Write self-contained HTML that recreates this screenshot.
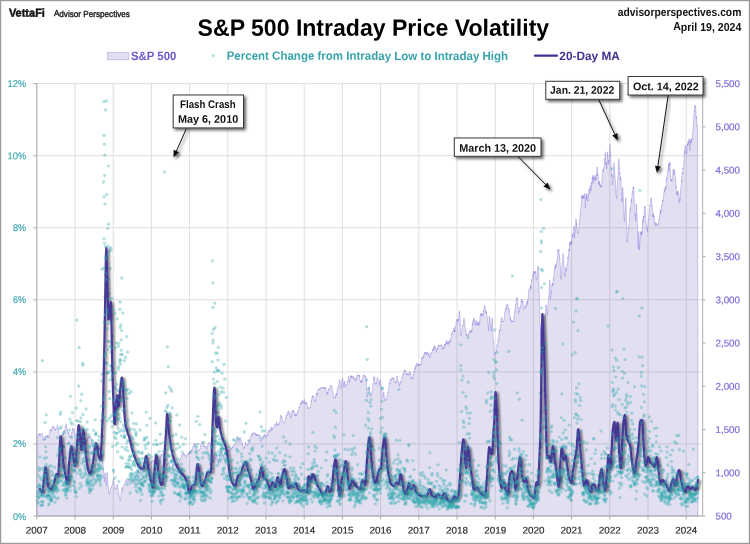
<!DOCTYPE html>
<html lang="en"><head><meta charset="utf-8"><title>S&amp;P 500 Intraday Price Volatility</title>
<style>html,body{margin:0;padding:0;background:#fff}body{width:750px;height:544px;overflow:hidden}svg{display:block}text{font-family:"Liberation Sans",Arial,sans-serif}.b{font-weight:bold}</style></head><body>
<svg width="750" height="544" viewBox="0 0 750 544">
<defs>
<filter id="sh" x="-20%" y="-20%" width="140%" height="140%"><feGaussianBlur in="SourceAlpha" stdDeviation="0.9"/><feOffset dx="2" dy="1.3"/><feComponentTransfer><feFuncA type="linear" slope="0.55"/></feComponentTransfer><feMerge><feMergeNode/><feMergeNode in="SourceGraphic"/></feMerge></filter>
<filter id="bs" x="-20%" y="-30%" width="140%" height="170%"><feGaussianBlur in="SourceAlpha" stdDeviation="1.4"/><feOffset dx="2" dy="2"/><feComponentTransfer><feFuncA type="linear" slope="0.6"/></feComponentTransfer><feMerge><feMergeNode/><feMergeNode in="SourceGraphic"/></feMerge></filter>
</defs>
<rect x="0" y="0" width="750" height="544" fill="#fff"/>
<rect x="0.5" y="0.5" width="749" height="543" fill="none" stroke="#9b9b9b" stroke-width="1.4"/>
<path d="M36.8 83.6V516M75 83.6V516M113.2 83.6V516M151.4 83.6V516M189.6 83.6V516M227.8 83.6V516M266 83.6V516M304.2 83.6V516M342.4 83.6V516M380.6 83.6V516M418.8 83.6V516M457 83.6V516M495.2 83.6V516M533.4 83.6V516M571.6 83.6V516M609.8 83.6V516M648 83.6V516M686.2 83.6V516M36.8 83.6H702.7M36.8 155.7H702.7M36.8 227.8H702.7M36.8 299.8H702.7M36.8 371.9H702.7M36.8 443.9H702.7M36.8 516H702.7" fill="none" stroke="#dedede" stroke-width="1"/>
<path d="M37 516L37 436.7L37.2 436.7L37.3 436.3L37.5 436.3L37.6 436.4L37.8 436.6L37.9 436.6L38.1 436L38.2 435.7L38.4 434.9L38.5 434.6L38.7 434.2L38.8 434L39 434.9L39.1 434.2L39.3 433.8L39.4 433.3L39.6 434.3L39.7 435.3L39.9 435.8L40.1 435.9L40.2 435.6L40.4 435.5L40.5 435.1L40.7 435.4L40.8 435L41 434.7L41.1 435L41.3 433.7L41.4 433.2L41.6 433.4L41.7 433.3L41.9 433.1L42 433.1L42.2 433.9L42.3 434.3L42.5 435L42.6 436L42.8 437.4L42.9 438.5L43.1 438.5L43.2 439.8L43.4 440.4L43.5 439.9L43.7 440.3L43.8 440.3L44 439.2L44.1 440.2L44.3 440.2L44.5 440L44.6 440.2L44.8 439.7L44.9 439.4L45.1 440.1L45.2 439.3L45.4 438.7L45.5 437.8L45.7 436.6L45.8 436.1L46 435.8L46.1 436.4L46.3 435.7L46.4 435.8L46.6 435.9L46.7 436.4L46.9 436.8L47 436.9L47.2 435.8L47.3 436.8L47.5 437.5L47.6 437.1L47.8 435.9L47.9 435.2L48.1 436.2L48.2 437.5L48.4 437.1L48.5 437.3L48.7 437.7L48.8 436.8L49 435.9L49.1 435.5L49.3 435.1L49.4 434.5L49.6 433.2L49.7 432.5L49.9 431.9L50 431.3L50.2 432.1L50.3 430.9L50.5 430L50.6 429.4L50.8 430.4L50.9 430.6L51.1 429.8L51.2 430.7L51.4 430.5L51.5 429.6L51.7 430.2L51.8 428.8L52 428.2L52.2 428L52.3 427.5L52.5 426.8L52.6 426.4L52.8 426.7L52.9 426.6L53.1 427.1L53.2 426.7L53.4 426.9L53.5 427.7L53.7 427.3L53.8 426.6L54 427.1L54.1 428.3L54.3 428.7L54.5 429L54.6 429.5L54.8 428.8L54.9 429.7L55.1 429.1L55.2 430.2L55.4 430L55.5 430.2L55.7 429.5L55.8 428.9L56 428.7L56.1 428.6L56.3 428.4L56.4 428L56.6 428.1L56.7 427.9L56.9 427.5L57 427.5L57.2 427L57.3 426.6L57.5 425.2L57.6 424.9L57.8 426L57.9 427L58.1 427.7L58.2 427.8L58.4 428.8L58.5 429.3L58.7 428.7L58.8 431.2L59 432.6L59.1 433.2L59.3 433.6L59.4 434.2L59.6 435.1L59.7 435.4L59.9 435.9L60 436.9L60.2 436.1L60.3 436.5L60.5 437.6L60.6 437.3L60.8 437.2L60.9 436.9L61.1 437.2L61.2 437.2L61.4 437.4L61.5 437.4L61.7 437.5L61.8 436.7L62 435.9L62.1 434.6L62.3 435.4L62.4 435.4L62.6 435.3L62.7 434.6L62.9 433.6L63 435L63.2 434L63.3 434.6L63.5 433.9L63.6 434.5L63.8 434.1L63.9 433L64.1 432.8L64.2 432.4L64.4 431.6L64.5 431.2L64.7 430.9L64.8 429.6L65 428.6L65.1 428.4L65.3 426.2L65.5 426.7L65.6 425.8L65.8 425.6L65.9 425.2L66.1 424.4L66.2 423.9L66.4 424L66.5 425.6L66.7 427.1L66.8 427.2L67 428.4L67.1 429.6L67.3 431.1L67.4 430.7L67.6 430.7L67.7 430.2L67.9 431.4L68 431.9L68.2 433.1L68.3 433.1L68.5 432.5L68.6 433.6L68.8 433.1L68.9 432.9L69.1 433.5L69.3 435.3L69.4 434.9L69.6 435.4L69.7 436.3L69.9 436.5L70 436.7L70.2 436.2L70.3 437.4L70.5 437.1L70.6 436.6L70.8 436.2L70.9 436.8L71.1 437.5L71.2 437.6L71.4 436.4L71.5 435.2L71.7 433.2L71.8 432.3L72 432.7L72.1 431.8L72.3 431.9L72.4 430.2L72.6 428.9L72.7 428.1L72.8 428.8L73 428.9L73.1 429.5L73.3 429.3L73.4 430L73.6 429.9L73.7 429.6L73.9 429.1L74 430.2L74.2 430.3L74.3 432.2L74.5 433.5L74.6 435.4L74.8 435.4L74.9 436.8L75.1 437.4L75.2 438.1L75.4 438.8L75.5 439.7L75.7 440.2L75.8 439.7L76 440.3L76.1 440.5L76.3 440.5L76.4 441.2L76.6 442.6L76.7 443.5L76.9 443.5L77 445L77.2 446L77.3 444.3L77.5 442.8L77.6 441.8L77.8 440.2L77.9 439L78.1 438.7L78.2 438.6L78.4 439.3L78.5 438.9L78.7 439.5L78.8 440.4L79 441.1L79.2 442.3L79.3 442.6L79.5 443.6L79.6 443.6L79.8 445.2L79.9 445.3L80.1 445.9L80.2 447.3L80.4 447.1L80.5 447.5L80.7 449L80.8 448.8L81 448.8L81.1 448.6L81.3 448.7L81.4 448.8L81.6 448.8L81.7 448.8L81.9 449.1L82 449.1L82.2 449.2L82.4 448.6L82.5 449L82.7 448.6L82.8 448.6L83 448.7L83.1 447.5L83.3 448.3L83.4 447.9L83.6 446.3L83.7 446.7L83.9 446.1L84 444.8L84.2 444.8L84.3 444.3L84.5 443.5L84.6 443.9L84.8 443.8L84.9 443.5L85.1 442.8L85.2 442.7L85.4 442.6L85.6 443.1L85.7 443.1L85.9 442.4L86 442.2L86.2 442.5L86.3 442.9L86.5 441.1L86.6 440.2L86.8 439.6L86.9 441.1L87.1 440.5L87.2 440L87.4 438.8L87.5 438.4L87.7 438.3L87.8 437.8L88 438.8L88.1 438L88.3 437.6L88.4 437.9L88.6 436.9L88.7 436.1L88.9 436.2L89.1 436.5L89.2 436.1L89.4 436L89.5 435.9L89.7 437.1L89.8 436.3L90 436.1L90.1 437.4L90.3 438.8L90.4 438.3L90.6 438.2L90.7 437.5L90.9 437.6L91 438.6L91.2 439L91.3 440.8L91.5 441.8L91.6 442.4L91.8 442.6L91.9 443.5L92.1 444.1L92.3 444.3L92.4 444.6L92.6 444.7L92.7 445.1L92.9 445.8L93 445.8L93.2 446.2L93.3 447.2L93.5 448.1L93.6 448.6L93.8 449.1L93.9 449.5L94.1 450L94.2 450.3L94.4 450.9L94.5 452.1L94.7 452.3L94.8 452.2L95 452.4L95.2 453L95.3 453.2L95.5 454.2L95.6 453.9L95.8 454.1L95.9 454.1L96.1 453.4L96.2 453.6L96.3 454L96.5 453.9L96.6 453.4L96.8 453.1L96.9 453.4L97.1 453.4L97.2 452.6L97.4 451.9L97.5 451.3L97.7 450L97.8 449.1L98 448.7L98.1 447.8L98.3 446.4L98.4 446.4L98.6 446.5L98.7 447.3L98.9 447.9L99 448L99.2 448.6L99.3 448.5L99.5 448.7L99.6 448.6L99.8 449.2L99.9 448.3L100.1 448L100.2 448.7L100.4 449.1L100.6 448.1L100.7 448.8L100.9 448.8L101 448.7L101.2 449.2L101.3 450.3L101.5 450.7L101.6 451L101.8 452.2L101.9 453.6L102.1 455.3L102.2 456.7L102.4 458.1L102.5 459.7L102.7 461.4L102.8 463.2L103 464.5L103.2 466.6L103.3 468.4L103.5 470L103.6 472.2L103.8 473.8L103.9 476.2L104.1 477.9L104.2 479L104.4 480.1L104.5 481.5L104.7 478.9L104.8 476.6L105 472.9L105.1 474.2L105.3 475.1L105.4 476.9L105.6 478.4L105.7 480.5L105.9 481.5L106 482.5L106.2 484.5L106.3 485.8L106.5 483.1L106.6 481.2L106.7 479.3L106.9 477.1L107 474.6L107.1 472.3L107.3 474.6L107.5 476.7L107.6 478.6L107.8 480.4L107.9 481.9L108.1 483.4L108.2 485.9L108.4 488L108.5 490.3L108.7 492.4L108.8 494.2L109 493.7L109.1 492.9L109.3 492.9L109.4 492.8L109.6 492.2L109.7 491.7L109.9 491.3L110 490.7L110.2 490.4L110.3 489.6L110.5 488.9L110.7 488.3L110.8 487.9L111 487.4L111.1 487.8L111.3 487.6L111.4 486.9L111.6 486.9L111.7 486.2L111.9 485.5L112 485.4L112.2 484.9L112.3 484.4L112.5 483.6L112.6 482.7L112.8 482.1L113 481.8L113.1 481.2L113.3 480.5L113.4 479.6L113.6 478.8L113.7 478.4L113.9 480.1L114 481.3L114.2 482.7L114.3 484.2L114.5 485.3L114.6 486.5L114.7 487.5L114.9 488.3L115 489.5L115.2 489.6L115.3 489.5L115.5 488.9L115.6 488.6L115.8 487.9L115.9 488.6L116.1 488.6L116.2 488.3L116.4 487.8L116.5 486.7L116.7 486.3L116.8 485.6L117 485.1L117.1 484.5L117.3 484L117.4 485.2L117.6 486.1L117.7 487.6L117.9 488.2L118.1 489.6L118.2 490.5L118.4 490.8L118.5 491.9L118.7 492.9L118.8 493.5L119 494.4L119.1 495.7L119.3 496.5L119.4 497.3L119.6 498L119.7 499.1L119.9 499.4L120.1 499.8L120.2 500.7L120.4 499.6L120.5 498.8L120.7 497.4L120.8 496.6L121 495.3L121.1 494.4L121.2 493.6L121.4 492.3L121.5 490.7L121.7 489.6L121.8 488.7L122 487.2L122.1 488.8L122.3 490.2L122.4 491.1L122.6 490.2L122.7 490L122.9 488.7L123 488.2L123.2 487.5L123.3 487.2L123.5 486.8L123.6 486.9L123.8 485.8L123.9 484.8L124.1 484.8L124.2 484.9L124.4 485L124.5 484L124.7 483.7L124.8 483.3L125 482.9L125.1 482.4L125.3 482.3L125.4 481.8L125.6 481.9L125.7 481.4L125.9 480.8L126 480.1L126.2 479.6L126.3 479.5L126.5 478.9L126.6 480L126.8 480.3L126.9 480.9L127.1 481.8L127.2 482.9L127.4 482.8L127.5 482.8L127.7 482.8L127.8 482.7L128 482.3L128.1 481.8L128.3 480.7L128.5 480.8L128.6 480.6L128.8 479.2L128.9 479.7L129.1 479.7L129.2 479.4L129.4 479.2L129.5 478.8L129.7 478.6L129.8 478.2L130 478L130.2 477.4L130.3 478.4L130.5 479L130.6 479.2L130.8 479.9L130.9 480.5L131.1 480.5L131.2 480.9L131.4 480.9L131.5 480.8L131.7 480.9L131.9 480.9L132 481.1L132.2 481.9L132.3 482.1L132.5 482.1L132.6 482.5L132.8 482.8L132.9 482.7L133.1 483.2L133.2 482.6L133.4 481.6L133.5 481.5L133.7 481.1L133.8 480.8L134 479.8L134.2 479.4L134.3 478.6L134.5 478.6L134.6 478.2L134.8 477.9L134.9 478.3L135.1 477.3L135.2 476.6L135.4 477L135.5 476.3L135.7 476L135.8 475.5L136 475L136.1 475.3L136.3 475L136.4 474L136.6 473.9L136.7 474L136.9 474.2L137 474.4L137.2 473.9L137.3 472.7L137.5 472.2L137.7 471.7L137.8 470.3L138 470.1L138.1 470.1L138.3 470.5L138.4 470.9L138.6 472L138.7 473.2L138.9 472.8L139 472.3L139.2 472.6L139.4 472.4L139.5 472.4L139.7 471.9L139.8 471.6L140 471.3L140.1 471.2L140.3 470.4L140.4 469.4L140.6 469.3L140.7 468.6L140.9 468.6L141 468.3L141.2 467.6L141.3 466.6L141.5 466.4L141.7 466.1L141.8 465.7L142 466.1L142.1 465.8L142.3 465.8L142.4 465.3L142.6 465.5L142.7 466.1L142.9 465.8L143 465.3L143.2 465.3L143.3 464.5L143.5 464.3L143.7 464.3L143.8 464.6L143.9 466L144.1 466.9L144.2 467.5L144.4 467.7L144.5 468.3L144.7 468.8L144.8 469.6L145 469.1L145.1 467.9L145.3 467.8L145.4 466.2L145.5 466.1L145.7 465.6L145.8 465.1L146 464.2L146.1 464.3L146.3 464.9L146.4 464.2L146.6 463.3L146.7 463.6L146.9 463.6L147 463.4L147.2 463.6L147.3 463.7L147.4 464L147.6 463.7L147.7 464.9L147.9 464.9L148 464.1L148.2 464.3L148.3 464.3L148.5 464.6L148.6 464.4L148.8 464.3L148.9 464.3L149.1 464.4L149.2 464.7L149.4 464.9L149.5 464.5L149.7 464.4L149.8 464.2L150 464.2L150.1 463.6L150.3 463.3L150.4 463.3L150.6 462.8L150.7 462.8L150.9 463.2L151 462.4L151.2 462L151.3 462.4L151.5 461.8L151.6 461.5L151.8 462.2L151.9 461.2L152.1 460.9L152.2 460.4L152.4 460.2L152.5 460.1L152.7 460.8L152.8 460.2L153 460.1L153.1 460.1L153.3 459.8L153.4 460.5L153.6 460.8L153.7 461.7L153.9 462.4L154 464.2L154.2 465L154.3 465.4L154.5 465.4L154.6 466.2L154.8 467L154.9 466.9L155.1 467.7L155.2 467.8L155.4 467.8L155.5 467.6L155.7 466.8L155.8 466.9L156 466.5L156.1 466.4L156.3 466.1L156.4 465.3L156.6 463.9L156.7 464L156.9 464L157 463.5L157.2 463.8L157.4 463.3L157.5 462.8L157.7 462.7L157.8 462.2L158 462.7L158.1 462.1L158.3 462.6L158.4 462.7L158.6 462.8L158.7 462.7L158.9 462.1L159 461.8L159.2 461.7L159.3 461.2L159.5 460.2L159.6 459.9L159.8 459.5L159.9 458.6L160.1 458.2L160.2 458.6L160.4 457L160.5 455.6L160.7 456.4L160.8 456.2L161 455.7L161.1 454.9L161.3 454.3L161.5 454.2L161.6 454.5L161.8 454.2L161.9 454.3L162.1 454.2L162.2 454L162.4 454.1L162.5 454.5L162.7 454.4L162.8 454.4L163 454.1L163.1 454L163.3 455.5L163.4 456.6L163.6 457.6L163.7 458.9L163.9 459.8L164 460.4L164.1 460.7L164.3 460.7L164.4 462L164.6 463.2L164.8 462.5L164.9 459.5L165.1 457.9L165.3 458.7L165.4 459.3L165.6 460.8L165.7 461.4L165.9 462.2L166 463.9L166.2 464.5L166.3 464.7L166.5 466.4L166.6 465.9L166.8 465.6L166.9 465.3L167.1 464.9L167.2 464.2L167.4 464.2L167.5 463.6L167.7 463.7L167.8 463.2L167.9 463.5L168.1 463.4L168.2 462.6L168.4 462.8L168.5 462.8L168.7 462.6L168.8 462.8L169 462.6L169.1 463.1L169.3 463.9L169.4 464.6L169.6 465.6L169.7 465.9L169.9 467.1L170 468.3L170.2 468.8L170.3 469.7L170.4 470.8L170.6 470.7L170.8 470.6L170.9 470L171.1 469.5L171.2 469.8L171.4 469.3L171.5 468.9L171.7 469.1L171.8 468.5L172 468.3L172.1 468.2L172.3 467.5L172.4 466.6L172.6 466.6L172.7 466.1L172.9 466.2L173 464.8L173.2 464.7L173.4 463.8L173.5 463.8L173.7 463.1L173.8 461.7L174 462.6L174.1 462.5L174.3 462L174.4 461.7L174.6 462.6L174.7 462.1L174.9 462.7L175 464.1L175.2 464.2L175.3 465.7L175.5 465.7L175.6 466.5L175.8 467L175.9 467L176.1 467.5L176.2 468.7L176.4 468.5L176.5 468.3L176.7 467.6L176.8 467.7L177 467L177.1 466.4L177.3 465.7L177.4 466.5L177.6 466.3L177.7 465.6L177.9 464.9L178 464.1L178.2 465L178.3 464.6L178.5 464L178.6 462.4L178.8 462.5L178.9 462.3L179.1 462L179.2 461.2L179.4 461L179.5 460.1L179.7 460.2L179.8 459.7L180 459.6L180.1 459.2L180.3 459.2L180.4 459.6L180.6 458.7L180.8 458.2L180.9 458.1L181.1 457.7L181.2 456.8L181.4 456.9L181.5 456.6L181.7 456L181.8 455.3L182 455.2L182.1 455.9L182.3 454.9L182.4 454.3L182.6 454L182.7 453.7L182.9 453.2L183 453.3L183.2 453.3L183.3 453.3L183.5 453.3L183.6 453.2L183.8 454L183.9 453.8L184.1 454.7L184.3 454.4L184.4 455.1L184.6 455.1L184.7 454.5L184.9 454.5L185 455.1L185.2 455.2L185.3 455.3L185.5 456.3L185.6 456.8L185.8 456.9L185.9 457L186.1 457L186.3 457.1L186.4 456.4L186.6 455.7L186.7 455.1L186.9 455L187 454.7L187.2 454.6L187.3 454.5L187.5 454.4L187.6 455L187.8 455L187.9 454.7L188.1 455L188.2 454.7L188.4 454.2L188.5 454L188.7 452.6L188.8 453.8L189 453.6L189.1 454.3L189.3 453.5L189.4 451.8L189.6 452.9L189.8 452.6L189.9 452L190.1 451.9L190.2 451.3L190.4 452.3L190.5 451.6L190.7 451.1L190.8 450.8L191 450.8L191.1 450.2L191.3 450.2L191.4 449.8L191.6 449.8L191.7 450.8L191.9 450.6L192 450.2L192.2 449.5L192.3 449.7L192.5 449.4L192.6 448.8L192.8 448.4L192.9 447.4L193.1 446L193.3 446.2L193.4 447.1L193.6 446.3L193.7 445.1L193.9 444.2L194 443.5L194.2 443.5L194.3 443.7L194.5 443.2L194.6 443.1L194.8 444.6L194.9 445.6L195.1 444.6L195.2 443.8L195.4 444.7L195.5 445.5L195.7 445.8L195.8 446.7L196 446.3L196.1 446.8L196.3 447.8L196.4 447.5L196.6 448.2L196.7 448.5L196.9 448.9L197 449.5L197.2 449.7L197.3 450.5L197.5 450.2L197.7 449.8L197.8 449.6L198 449.5L198.1 449.7L198.3 449.9L198.4 450.2L198.6 450.4L198.7 450.4L198.9 450.4L199 450L199.2 450.1L199.3 450.4L199.5 450.1L199.6 449.8L199.8 449.6L200 448.7L200.1 448.3L200.3 447.5L200.4 446.8L200.6 446.3L200.7 445.2L200.9 445.1L201 445L201.2 445.1L201.3 445.2L201.5 443.9L201.6 442.4L201.8 442L201.9 441.3L202.1 441.4L202.3 441.4L202.4 441.6L202.6 441.9L202.7 442.7L202.9 442.9L203 442.4L203.2 442.8L203.3 443.8L203.5 444.4L203.6 445.3L203.8 446.2L203.9 445.7L204.1 446.5L204.3 446.9L204.4 446.1L204.6 445.8L204.7 446.1L204.9 446.8L205 447L205.2 446.5L205.3 446.6L205.5 446.2L205.6 446.6L205.8 446.7L205.9 447.3L206.1 447.5L206.3 447.1L206.4 448.4L206.6 448.8L206.7 449.1L206.9 449.8L207 449.6L207.2 448.7L207.3 447.2L207.5 446.4L207.6 445.8L207.8 446.3L207.9 444.7L208.1 444.2L208.2 443.8L208.4 444L208.6 443.7L208.7 443.9L208.9 443.4L209 442.7L209.2 442.2L209.3 442.3L209.5 442.5L209.6 442.5L209.8 442.3L209.9 443.1L210.1 443.2L210.2 443.6L210.4 444L210.5 443.9L210.7 444L210.9 443.6L211 443.6L211.2 444L211.3 445.8L211.5 448L211.6 449.9L211.8 452L211.9 454L212.1 455.6L212.2 457.5L212.4 460.6L212.5 462.5L212.7 461.6L212.8 460L213 459L213.1 457.6L213.3 455.1L213.4 457.4L213.5 459.7L213.7 462L213.8 461.8L214 461.2L214.1 459.5L214.3 458.3L214.5 457.7L214.6 456.9L214.8 455L214.9 453.8L215.1 455.4L215.2 456.5L215.4 457.1L215.6 457.4L215.7 458.2L215.9 459.4L216 458.7L216.2 457L216.3 455.6L216.5 455L216.6 454.1L216.7 454.7L216.9 455.4L217 456.4L217.2 457.9L217.3 458.9L217.5 460.4L217.6 460.5L217.8 461L217.9 462.3L218.1 462.3L218.2 462.5L218.4 464.2L218.5 462.4L218.7 461.2L218.8 459.2L219 459L219.2 457.8L219.3 456.7L219.5 455.7L219.6 454.7L219.8 453.2L219.9 453L220.1 452.8L220.2 452.6L220.4 452L220.5 451.4L220.7 450.2L220.8 449.1L221 448.1L221.2 449.2L221.3 450.1L221.5 450.3L221.6 450.6L221.8 451.2L221.9 452L222.1 451.9L222.2 452.9L222.4 453.2L222.5 453.2L222.7 454L222.8 454.2L223 455.5L223.2 455.6L223.3 456.2L223.5 457.7L223.6 457.9L223.8 459L223.9 459L224.1 458.3L224.2 457.3L224.4 456L224.6 455L224.7 453.8L224.9 452.9L225 451.4L225.2 450.2L225.3 450.6L225.5 452.6L225.7 452.5L225.8 453L226 454.4L226.1 454.9L226.3 455L226.4 455L226.6 454.8L226.7 454.5L226.9 454.4L227 453L227.2 452.9L227.4 452.4L227.5 452.5L227.7 452.9L227.8 452.2L228 451.5L228.1 450.5L228.3 449.9L228.4 450L228.6 450.8L228.7 451.1L228.9 451.3L229 451.6L229.2 451.1L229.3 450.8L229.5 450.8L229.6 450.6L229.8 450.5L229.9 450.2L230.1 449.6L230.2 448.9L230.4 449.2L230.6 449.9L230.7 448.9L230.9 448.7L231 447.9L231.2 448.7L231.3 448.8L231.5 448.6L231.6 449.3L231.8 449.4L231.9 448.9L232.1 448.1L232.2 447L232.4 447.4L232.5 448L232.7 447.6L232.8 446.9L233 446.6L233.1 447.2L233.3 446.6L233.4 446L233.6 445.5L233.7 445.6L233.9 445.3L234.1 444.7L234.2 444.8L234.4 445.8L234.5 445.4L234.7 445L234.8 444.8L235 444.1L235.1 444.3L235.3 444.2L235.4 444.3L235.6 443.8L235.7 442.6L235.9 442.6L236 441.2L236.2 440.1L236.3 439.5L236.5 438.9L236.6 437.7L236.8 437.6L236.9 437.5L237.1 438L237.2 437.5L237.4 436.5L237.5 437.1L237.7 437.8L237.8 438.9L238 439.7L238.1 441.5L238.2 441.8L238.4 441.6L238.6 441.8L238.7 441.8L238.9 441.8L239 440.9L239.2 439.8L239.3 440.1L239.5 439.1L239.6 438.1L239.8 438L240 438.4L240.1 438.4L240.3 438.3L240.4 437.6L240.6 438.2L240.7 439.7L240.9 439.9L241 441.1L241.2 440.8L241.4 441.9L241.5 442.6L241.7 443.4L241.8 444L242 443.5L242.1 443.2L242.3 443.2L242.4 443.2L242.6 444.4L242.7 445L242.9 445.6L243 446.5L243.2 446.5L243.4 447.2L243.5 447.8L243.7 448.7L243.8 448.4L244 448.6L244.1 447.3L244.3 446.7L244.4 446.8L244.6 447.9L244.8 447.3L244.9 446.1L245.1 445.4L245.2 444.4L245.4 443L245.5 441.8L245.7 443L245.9 443.3L246 443.8L246.2 445.6L246.3 445.5L246.5 445.2L246.6 445.2L246.8 445.4L246.9 445.2L247.1 444.6L247.2 445L247.4 445.2L247.5 445.4L247.7 445.3L247.8 445.4L248 444.1L248.1 442.7L248.3 442.8L248.4 442.5L248.6 442.5L248.7 441.8L248.9 441L249 440.8L249.2 441.6L249.3 441L249.5 441.2L249.6 440.7L249.8 440.4L249.9 439.3L250.1 438.5L250.2 438.6L250.4 438.3L250.5 437.1L250.7 437.3L250.8 436.9L251 436.1L251.2 435.1L251.3 434.7L251.5 435.4L251.6 436.1L251.8 435.8L251.9 435.5L252.1 433.7L252.2 434.2L252.4 433.3L252.5 432.7L252.7 433.6L252.8 434.1L253 433.8L253.1 434L253.3 434L253.4 433.6L253.6 434L253.7 433.6L253.9 433.9L254 434.1L254.2 433.7L254.3 433.9L254.5 433.6L254.6 432.5L254.8 432.8L254.9 433.2L255.1 433.1L255.2 433.6L255.4 433.3L255.5 434.4L255.7 434.4L255.8 435L256 435.9L256.1 435.1L256.3 435.9L256.4 435.1L256.6 435L256.7 434.4L256.9 435.4L257 435L257.2 434.3L257.3 434.8L257.5 435.2L257.6 433.9L257.8 434.1L257.9 434.7L258.1 435.5L258.2 435.5L258.4 435.6L258.5 435.8L258.7 435.1L258.8 435.6L259 435.6L259.1 435L259.3 436L259.4 435.7L259.6 434.8L259.7 436L259.9 437L260 438L260.2 439.5L260.3 439.5L260.5 441L260.6 441L260.8 440.4L260.9 441.7L261.1 442.2L261.2 441.9L261.4 441.9L261.5 441.8L261.7 441.4L261.8 440.8L262 440L262.1 439.7L262.3 439.1L262.4 438.9L262.6 438.3L262.7 438.5L262.9 437.9L263 438.6L263.2 438.3L263.3 436.5L263.5 435.9L263.6 436.2L263.8 435.5L263.9 435.5L264.1 436L264.2 436L264.4 434.9L264.5 434.1L264.7 434.4L264.8 435.2L265 436.2L265.1 435.5L265.3 435.6L265.4 436.4L265.6 438L265.7 437.8L265.9 436.5L266 436.8L266.2 436.4L266.3 435.8L266.5 435.5L266.6 435.3L266.8 435.7L266.9 436L267.1 434.5L267.2 434.5L267.4 433.6L267.5 434.2L267.7 434L267.8 433.4L268 432.3L268.1 432.6L268.3 431.7L268.4 431.1L268.6 431.1L268.7 430.3L268.9 430.5L269 430.6L269.2 430.2L269.3 431.5L269.5 431.2L269.6 431.4L269.8 431.9L269.9 431.8L270.1 430.8L270.2 430.7L270.4 429.4L270.5 429.7L270.7 430.2L270.8 428.7L271 427.9L271.1 426.8L271.3 428.5L271.4 429.1L271.6 430L271.8 430.6L271.9 430.1L272.1 428.7L272.2 428.6L272.4 428.8L272.5 429.2L272.7 427.9L272.8 427.8L273 428L273.1 428.1L273.3 427.9L273.4 428.2L273.6 427.9L273.7 427.7L273.9 427.6L274 427.7L274.2 427.1L274.3 426.9L274.5 426.3L274.6 425.5L274.8 424.7L274.9 425.7L275.1 425.5L275.3 425.5L275.4 424.4L275.6 425L275.7 424.9L275.9 424.6L276 424.2L276.2 423L276.3 422.7L276.5 421.5L276.6 423.2L276.8 425.2L276.9 425.1L277.1 425.5L277.2 425.9L277.3 425.5L277.5 424.9L277.6 425.5L277.8 424.5L277.9 424.6L278.1 423.6L278.2 423.3L278.4 424.4L278.5 425L278.7 423.9L278.9 423.7L279 423.7L279.2 423.2L279.3 423.2L279.5 423.3L279.6 423L279.8 422.6L279.9 421.2L280.1 420.9L280.2 419.2L280.4 417.6L280.5 416L280.7 414.9L280.8 415.1L281 415.3L281.1 415.7L281.3 416.6L281.4 417L281.6 417.7L281.7 416.8L281.9 416.8L282 417.4L282.2 419.1L282.4 419.4L282.5 420L282.7 421.1L282.8 422.2L283 422.7L283.1 422.8L283.3 422.6L283.4 422.8L283.6 423.2L283.7 423L283.9 422.8L284.1 423L284.2 423.2L284.4 423.2L284.5 423.2L284.7 421.9L284.8 420.9L285 419.3L285.1 419.3L285.3 418.9L285.4 419.2L285.6 418.2L285.7 418.9L285.9 418.2L286 417.1L286.2 415.7L286.3 416.1L286.5 414.9L286.6 415.1L286.8 415.4L286.9 416L287.1 414.9L287.2 413.3L287.4 413.4L287.5 413.7L287.7 413.6L287.8 411.4L288 411.9L288.1 411.9L288.3 411.4L288.4 412.1L288.6 411.4L288.8 411.9L288.9 411.7L289.1 411.5L289.2 412.1L289.4 413.8L289.5 413.3L289.7 414.4L289.8 413.8L290 415.3L290.1 416.5L290.3 416.5L290.4 417.3L290.6 417L290.8 417.2L290.9 418.3L291.1 417.1L291.2 415.8L291.4 416.5L291.5 414.4L291.7 413.3L291.8 412L292 412.6L292.1 412.5L292.3 412L292.4 410.4L292.6 410.8L292.8 410.7L292.9 411.5L293.1 411L293.2 410L293.4 411.6L293.5 412.4L293.7 412.4L293.8 411.5L294 411.4L294.1 412L294.3 413.2L294.4 414.3L294.6 415.1L294.7 415.4L294.9 415.7L295 414.8L295.2 415L295.3 416.1L295.5 414.7L295.6 413.8L295.8 413.5L295.9 413.8L296.1 414.9L296.2 415.5L296.4 414.6L296.5 414.9L296.7 415.7L296.8 415.3L297 414.9L297.1 414.2L297.3 413.5L297.4 412.1L297.6 412.5L297.7 411.6L297.9 412.1L298 411.3L298.2 410.9L298.3 410.5L298.5 409.5L298.6 409.3L298.8 408.2L298.9 407.2L299.1 406.9L299.2 407.1L299.4 407.4L299.5 407.6L299.7 407.5L299.9 407.3L300 404.6L300.2 403.9L300.3 403L300.5 403.4L300.6 403.8L300.8 403.8L300.9 403.4L301.1 403.9L301.2 402.4L301.4 402.6L301.5 401.5L301.7 403.1L301.8 402.9L302 402.4L302.1 402L302.3 401.2L302.4 400.7L302.6 400.3L302.7 401.6L302.9 402L303 403.6L303.2 402.8L303.3 402.3L303.5 402.2L303.6 402.7L303.8 402.9L303.9 401.1L304.1 399.4L304.3 399.7L304.4 399.7L304.6 400.4L304.7 402.3L304.9 402.9L305 403.8L305.2 404.5L305.3 404.6L305.5 402.4L305.6 403.2L305.8 403.3L306 403.4L306.1 403.6L306.3 403.1L306.4 401.9L306.6 403.1L306.7 403.2L306.9 403.7L307 403.6L307.2 405.1L307.3 406.7L307.5 408.5L307.7 408.6L307.8 408.2L308 407.9L308.1 408.1L308.3 408.1L308.4 408L308.6 407.5L308.7 407.3L308.9 407.7L309 408L309.2 408.1L309.3 408.5L309.5 408.3L309.6 408.5L309.8 408.5L309.9 407.8L310.1 407.6L310.2 407.5L310.4 407.3L310.5 407.6L310.7 405.6L310.8 404.9L311 404.3L311.1 402.2L311.3 400.8L311.4 401.8L311.6 401L311.8 400L311.9 398.2L312.1 396.8L312.2 395.9L312.4 396.6L312.5 397.1L312.7 396.6L312.8 395.9L313 396.5L313.1 396.5L313.3 396.6L313.4 396.3L313.6 395.7L313.7 395.7L313.9 398.3L314 398.7L314.2 398.9L314.4 400.5L314.5 401.1L314.7 402.2L314.8 401.6L315 401.1L315.1 401.6L315.3 401L315.4 400.1L315.6 400.7L315.7 399L315.9 397.1L316 395.5L316.2 393.7L316.3 392.9L316.5 393.1L316.6 393.5L316.8 394.1L316.9 393.9L317.1 393.8L317.2 393.1L317.4 394.8L317.5 392.7L317.7 390.6L317.8 390.5L318 389.8L318.1 389.2L318.3 388.9L318.4 389L318.6 389L318.7 389.6L318.9 389.3L319 389.2L319.2 388.8L319.4 389.5L319.5 389.3L319.7 389.2L319.8 388.5L320 389.4L320.1 388.9L320.3 387.9L320.4 387.3L320.6 387.5L320.7 387.8L320.9 387.9L321 387.4L321.2 388.2L321.3 388.1L321.5 387.9L321.6 388.1L321.8 388.3L321.9 387.9L322.1 387.7L322.2 387.7L322.4 388L322.5 387.5L322.7 387.7L322.8 387.4L323 388.1L323.1 387.9L323.3 387.5L323.4 387.4L323.6 388.2L323.7 388.2L323.9 388.4L324 388L324.2 388.6L324.3 387.5L324.5 388.9L324.6 388.9L324.8 388.8L324.9 387.9L325.1 388.3L325.2 387.7L325.4 388.1L325.6 387.3L325.7 387.6L325.8 388.1L326 388.7L326.1 390.6L326.3 390.7L326.4 390.6L326.6 391.6L326.7 393.5L326.9 394.1L327 394.1L327.2 393.1L327.3 392.2L327.5 393.7L327.6 394.1L327.8 392.7L327.9 393.6L328.1 392.5L328.2 390.7L328.4 389.9L328.5 388.8L328.7 388.9L328.8 389.8L329 389.8L329.1 389.8L329.3 389.7L329.4 388.9L329.6 388.9L329.7 388.6L329.9 388.1L330 387.9L330.2 386.1L330.3 385.6L330.5 385.4L330.7 385.4L330.8 385.8L331 385.8L331.1 385.9L331.3 385.5L331.4 385.3L331.6 386.1L331.7 387.1L331.9 386.8L332 388.5L332.2 388.7L332.3 389.2L332.5 390.8L332.6 391.4L332.7 392.1L332.9 392.3L333 393.3L333.2 393.6L333.3 395.7L333.5 397.2L333.6 397.1L333.8 396.8L333.9 397.4L334.1 398.1L334.2 398.2L334.4 397.6L334.5 397.6L334.7 398.1L334.8 397.3L335 397.7L335.2 398L335.3 396.9L335.5 396.2L335.6 396.4L335.8 395.8L335.9 394.5L336.1 396.2L336.2 394.7L336.4 393.5L336.5 394.7L336.7 393.5L336.8 394.4L337 392.9L337.1 392L337.3 389.4L337.4 389.4L337.6 388.8L337.7 387.3L337.9 387.3L338 387.3L338.2 387.1L338.4 386.6L338.5 386.9L338.7 385.9L338.8 384.8L339 384.2L339.1 382L339.3 381.7L339.4 379.9L339.6 379.8L339.7 379.8L339.9 382.4L340 382.9L340.1 383.8L340.3 385L340.4 386.2L340.6 387.3L340.7 388.6L340.9 388.4L341 387.9L341.2 386.8L341.3 385.6L341.5 385L341.6 383.5L341.8 381.1L341.9 379.6L342.1 378.4L342.2 378.5L342.4 378.4L342.5 378.7L342.7 378.7L342.8 380.1L343 381.3L343.1 381.4L343.3 382.9L343.4 384.1L343.6 384.9L343.7 385.6L343.9 386.9L344 385.4L344.2 384.9L344.3 383.7L344.5 382.1L344.6 380.8L344.7 381.1L344.9 383.1L345 385.2L345.2 386.7L345.3 386.5L345.4 386.7L345.6 386.4L345.7 386.7L345.9 386.5L346.1 386.4L346.2 386.4L346.4 386.2L346.5 385.6L346.7 384.2L346.8 384.7L347 383.5L347.1 382.2L347.3 381.8L347.4 380.9L347.6 381L347.8 381.6L347.9 381.6L348.1 381.8L348.2 378.7L348.4 378.7L348.5 376.8L348.7 376.2L348.8 377L349 377.4L349.2 379.3L349.3 379.6L349.5 380.3L349.6 382.8L349.8 381.9L349.9 381L350.1 380.2L350.2 378.3L350.4 378.3L350.5 377.4L350.7 376.3L350.8 376.7L351 375.2L351.1 376.2L351.3 377L351.4 376.1L351.6 376.7L351.7 376.4L351.9 377.6L352 377.1L352.2 377.8L352.4 377.1L352.5 378.1L352.7 377.3L352.8 377.1L353 376.7L353.1 376.3L353.3 375.8L353.4 376.7L353.6 378.7L353.7 378.3L353.9 378.7L354 378.8L354.2 378L354.3 379.4L354.5 379.8L354.6 379.9L354.8 380.5L354.9 379.8L355.1 379.6L355.2 379.9L355.4 380.5L355.5 379.3L355.7 379.5L355.8 378.6L356 377.8L356.1 379.1L356.3 379.8L356.4 379.4L356.6 378.6L356.7 377.5L356.9 376.3L357.1 375L357.2 375.2L357.4 375.4L357.5 375.2L357.7 375L357.8 375.5L358 375.2L358.1 375.2L358.3 375.1L358.4 376.4L358.6 375.4L358.7 375L358.9 375L359 375.9L359.2 376.3L359.3 375.1L359.5 375.4L359.6 378.7L359.8 379.4L359.9 380.4L360.1 380.5L360.2 380.8L360.4 381.5L360.6 382.2L360.7 381.2L360.9 382.2L361 380.6L361.2 381L361.3 381.9L361.5 381.1L361.6 380.6L361.8 381.4L361.9 380.7L362.1 382.3L362.2 382.1L362.4 380L362.5 379.1L362.7 379.2L362.9 377.7L363 375.7L363.2 375.5L363.3 375.2L363.5 375.7L363.6 375.5L363.8 375.3L363.9 376.1L364.1 375.9L364.3 375.6L364.4 375.4L364.6 375.9L364.7 375.4L364.9 375.9L365 376.7L365.2 376.1L365.3 377L365.5 376.7L365.6 376.3L365.8 377.4L366 377.3L366.1 377.3L366.3 377.5L366.4 381.6L366.5 385.7L366.7 390.5L366.8 391.4L367 394.5L367.1 397.7L367.3 397.5L367.4 396.4L367.6 395.9L367.7 393.8L367.9 392.1L368 391.2L368.2 389.6L368.3 389.6L368.5 389L368.6 388.5L368.8 388.7L368.9 387.7L369.1 386.9L369.2 387.7L369.4 386.7L369.6 388.4L369.7 390.4L369.9 391.9L370 392.6L370.2 393.3L370.3 394.4L370.5 395.8L370.7 396.5L370.8 395.3L371 395.9L371.1 395.2L371.3 395.4L371.4 395.5L371.6 394.4L371.7 393.5L371.9 392.4L372 392.2L372.2 391.4L372.3 391.3L372.5 390L372.6 388.4L372.8 385.9L372.9 383.7L373.1 383.5L373.2 382.9L373.4 382.7L373.5 381.5L373.7 378.6L373.8 376.9L374 377.9L374.1 378.1L374.3 378.3L374.4 376.8L374.6 378.2L374.7 379.4L374.9 379.2L375 381.4L375.2 383.6L375.3 383.2L375.5 384.3L375.6 383.9L375.8 384.1L375.9 384L376.1 383.4L376.3 384L376.4 383.7L376.6 381.7L376.7 380.7L376.9 380.2L377 379.8L377.2 377.6L377.4 377.4L377.5 377.9L377.7 378.5L377.8 378.6L377.9 379.7L378.1 379.9L378.2 379.8L378.4 380.6L378.5 381.6L378.7 382.5L378.8 384L379 384.8L379.1 385.8L379.3 385.3L379.4 383.7L379.6 382.2L379.7 382.3L379.9 381.5L380 380.9L380.1 379.9L380.3 379.5L380.4 380.7L380.6 382.5L380.7 384.6L380.9 385.1L381.1 385.3L381.2 386L381.4 387L381.5 388.1L381.7 389.8L381.8 392.7L382 393.4L382.1 394.5L382.3 396.2L382.4 398.3L382.6 398.5L382.7 398L382.9 397.2L383.1 396L383.2 393.3L383.4 393.3L383.5 392.6L383.7 392.4L383.8 391.6L384 393L384.1 394.9L384.3 395.2L384.4 397.1L384.6 398.7L384.7 399.4L384.9 401.1L385 401L385.2 400.5L385.3 400.5L385.5 401L385.6 401L385.8 400.9L385.9 399.1L386.1 399.7L386.2 398.6L386.4 398.9L386.5 398.9L386.7 398.9L386.8 398.3L387 397.3L387.1 395.5L387.3 395.7L387.4 394.3L387.6 393.1L387.7 392L387.9 392.4L388 391.3L388.2 391L388.3 390.4L388.5 390.3L388.6 389.4L388.8 388L388.9 386.7L389.1 386.5L389.2 385.3L389.4 383.6L389.5 384.1L389.7 382.4L389.8 383.3L390 382.5L390.1 381.6L390.3 379.8L390.4 379.2L390.6 379.3L390.7 379.7L390.9 380.5L391 379.5L391.2 379.3L391.3 379.6L391.5 378.8L391.6 379.2L391.8 379.2L391.9 379.3L392.1 377.4L392.2 377.9L392.4 377.7L392.5 378.4L392.7 378.4L392.8 378.6L393 378.5L393.1 378.2L393.3 378.8L393.4 378.2L393.6 377.7L393.7 377.7L393.9 378.4L394 379.1L394.2 378.7L394.4 380L394.5 380.4L394.7 381.3L394.8 382.8L395 382.5L395.1 382.8L395.3 382.7L395.4 381.7L395.6 382.7L395.7 382.8L395.9 382.6L396 381.7L396.2 382.6L396.3 381.8L396.4 381.5L396.6 380.1L396.7 378.9L396.9 378.3L397 376.1L397.2 376L397.3 376.9L397.5 377.8L397.7 379.2L397.8 379.7L398 381.9L398.1 382.5L398.3 382.6L398.4 382.2L398.6 383L398.7 382.3L398.9 383.4L399 384L399.2 386.2L399.3 386.1L399.5 386L399.6 384.9L399.8 383.9L399.9 384.5L400.1 383.5L400.2 382.6L400.4 382.3L400.5 381.9L400.7 381.7L400.8 381.7L401 382.8L401.1 382.4L401.3 380.8L401.4 379L401.6 378.7L401.7 378.9L401.9 378.7L402 377.3L402.2 376.5L402.3 376.6L402.5 375.8L402.6 375.5L402.8 374.5L402.9 374.4L403.1 375.3L403.2 374.7L403.4 373.5L403.5 374L403.7 373.6L403.8 372.3L404 372.2L404.1 372.3L404.3 369.8L404.4 370.1L404.6 370.4L404.7 370L404.9 370.4L405 370.7L405.2 371.5L405.3 371.1L405.5 370.2L405.7 371.4L405.8 372.4L406 372.5L406.1 374.7L406.3 374.4L406.4 374.2L406.6 374.9L406.7 374.8L406.9 374.4L407 374.4L407.2 374.3L407.3 373.2L407.5 373.9L407.6 374.1L407.8 374.9L407.9 374.3L408.1 375L408.2 374.9L408.4 375.1L408.5 375.4L408.7 374.1L408.8 374.5L409 373.5L409.1 373.1L409.3 372.1L409.4 372.6L409.6 372.1L409.7 371.7L409.9 372.6L410 372.7L410.2 373.2L410.3 373.5L410.5 372.6L410.6 373.6L410.8 375.5L410.9 377.4L411.1 378.2L411.2 378.9L411.4 378.7L411.5 378.8L411.7 377.9L411.8 378L412 377.9L412.1 378.8L412.3 378.6L412.4 377.7L412.6 376.8L412.7 378.9L412.9 377.5L413 375.5L413.2 374.1L413.3 374.9L413.5 374.5L413.7 373.4L413.8 372.4L414 372.5L414.1 372.7L414.3 371.2L414.4 371.9L414.6 369.9L414.7 369.2L414.9 368.3L415 369L415.2 368.9L415.3 367.6L415.5 368.4L415.6 365.8L415.8 366.5L415.9 367L416.1 366.4L416.2 365.3L416.4 363.9L416.5 363.6L416.7 363.2L416.8 362.8L417 363.3L417.1 365.5L417.3 365L417.4 364.8L417.6 364.6L417.7 365.3L417.9 365L418 365.1L418.1 365.2L418.3 364.1L418.4 365.5L418.6 365.6L418.7 365.3L418.9 365.3L419 364.5L419.2 365.3L419.4 365L419.5 365.3L419.7 364L419.8 364.7L420 365.4L420.1 365.1L420.3 365.2L420.4 365.2L420.6 363.8L420.7 364.3L420.9 364.4L421 363.9L421.2 363.2L421.3 363.3L421.5 362L421.6 359.4L421.8 359.5L421.9 357.3L422.1 359.1L422.2 357.3L422.4 357.4L422.5 356.9L422.7 356.9L422.8 357.2L423 358.1L423.2 358.2L423.3 356.6L423.5 355.1L423.6 355.1L423.8 355.3L423.9 355.6L424.1 356.5L424.2 354.4L424.4 353.3L424.5 352.9L424.7 353L424.8 353.7L425 352L425.1 352.3L425.3 352.7L425.4 352.1L425.6 353.3L425.7 352.8L425.9 354.1L426 354.7L426.2 354.5L426.3 354.2L426.5 353.4L426.6 354.5L426.8 353.2L426.9 352.1L427.1 352.2L427.2 352.1L427.4 353L427.5 353.4L427.7 355L427.8 355.2L428 355.2L428.1 354L428.3 353.3L428.4 352.7L428.6 353.3L428.7 353.8L428.9 354.4L429 354.4L429.2 356.6L429.3 356L429.5 357.8L429.6 357.6L429.8 357.6L429.9 357.4L430.1 356.9L430.2 356.9L430.4 355.3L430.5 354L430.7 354.4L430.8 354L431 352.6L431.1 352.8L431.3 352.7L431.4 353.2L431.6 353.1L431.8 353.4L431.9 353.2L432.1 352.1L432.2 350.6L432.4 350.4L432.5 350.1L432.7 349.1L432.8 349.4L433 350.4L433.1 349.2L433.3 350.1L433.4 349L433.6 350L433.7 348L433.9 349L434 348.1L434.2 346.4L434.3 347.4L434.5 345.7L434.6 346.5L434.8 348.3L434.9 347.5L435.1 346.7L435.2 346.8L435.4 349.4L435.5 349.4L435.7 349.6L435.8 350L436 350.2L436.2 352L436.3 352.5L436.5 350.6L436.6 348.9L436.8 349.2L436.9 349.9L437.1 349.4L437.2 348.2L437.4 347.4L437.5 348.5L437.7 348.3L437.8 348.1L438 346.5L438.1 345.1L438.3 344.8L438.4 345.5L438.6 345.3L438.7 346.1L438.9 346L439 346.2L439.2 346.7L439.3 346.3L439.5 345.9L439.6 345L439.8 345.1L439.9 345.1L440.1 345L440.2 345.3L440.4 345.6L440.6 345.6L440.7 345.4L440.9 345.6L441 344.7L441.2 345.6L441.3 345.4L441.5 345L441.6 344.7L441.8 345.4L441.9 345.6L442.1 347.3L442.2 347.1L442.3 349L442.5 348.9L442.6 349.2L442.8 349.1L442.9 348.2L443.1 349.3L443.2 349.1L443.4 348.2L443.5 346.9L443.7 348L443.8 347.3L444 347.8L444.1 346.7L444.3 344.9L444.4 344.5L444.6 344.2L444.8 343.7L444.9 346.5L445.1 345.3L445.2 344.3L445.4 343.8L445.5 343.8L445.7 344.2L445.8 344.1L446 342.4L446.1 342.1L446.3 340.3L446.4 342.7L446.6 342.8L446.7 342.2L446.9 341.8L447 343.2L447.2 343.6L447.3 341.9L447.5 342.9L447.6 343.6L447.8 344.4L447.9 344.6L448.1 343.6L448.2 342.6L448.4 344.4L448.5 342.4L448.7 342.7L448.9 343L449 340.8L449.2 340.5L449.3 341.5L449.5 341.8L449.6 342.2L449.8 342.9L449.9 342.9L450.1 341.6L450.2 340.9L450.4 342L450.5 338.6L450.7 339.3L450.8 338.8L451 338.4L451.1 337.1L451.3 337.1L451.4 336.2L451.6 333.5L451.7 333L451.9 333.8L452 333.1L452.2 333.6L452.3 333.6L452.5 333L452.6 332.3L452.8 332.2L453 330.8L453.1 330.7L453.3 331.8L453.4 330.4L453.6 330.4L453.7 328.6L453.9 329L454 327.9L454.2 327.2L454.3 329.9L454.5 331.2L454.6 332.1L454.8 330.1L454.9 331.8L455.1 330.4L455.2 328.8L455.4 327.8L455.5 326.6L455.7 326.3L455.8 325.5L456 324.4L456.1 323L456.3 321.3L456.4 320.7L456.6 320.6L456.7 320.4L456.9 319.1L457 320.2L457.2 320.8L457.3 320.4L457.5 320.2L457.7 319.6L457.8 321.9L458 321.5L458.1 320.9L458.3 319.1L458.4 320.6L458.6 320L458.7 318.6L458.9 317.1L459 314.8L459.2 312.6L459.3 313L459.5 311.3L459.6 310.8L459.8 314.8L459.9 316L460.1 319.7L460.2 323.6L460.4 327L460.5 330.8L460.7 332.5L460.8 334.8L461 336L461.1 334.7L461.3 334.5L461.4 332.4L461.6 332.2L461.7 331.8L461.9 331.1L462 330.1L462.2 327.8L462.3 327.5L462.5 326.2L462.6 325.3L462.8 325.8L462.9 326.1L463.1 325.4L463.3 324L463.4 322.7L463.6 321.2L463.7 320.1L463.9 319.7L464 318.2L464.2 319.6L464.3 321.4L464.5 322L464.6 323.9L464.8 324.6L464.9 325.7L465 326.5L465.2 326.8L465.3 327.9L465.5 328.5L465.6 330.7L465.8 330.7L465.9 331.9L466.1 331.6L466.2 335L466.4 335.9L466.5 335.9L466.7 334.7L466.8 334.7L467 334.9L467.1 335.1L467.3 334.4L467.4 334.7L467.6 335L467.7 334.6L467.9 335.2L468 335.3L468.2 335.4L468.3 335.4L468.5 335.8L468.6 335.8L468.8 334.2L469 333.4L469.1 333.8L469.3 333.7L469.4 332.3L469.6 332.4L469.7 331.7L469.9 330.7L470 330.6L470.2 333L470.3 332.5L470.5 331.9L470.6 331.5L470.8 332L470.9 330.3L471.1 330.1L471.2 330.5L471.4 331L471.5 330.3L471.7 331.2L471.8 332.1L472 329.4L472.1 327.6L472.3 326L472.4 324.1L472.6 323.1L472.7 324.7L472.9 323L473 321.2L473.2 320.3L473.3 322.3L473.5 320.4L473.7 318.5L473.8 318.7L474 318.2L474.1 318.5L474.3 319.8L474.4 319.7L474.6 320.8L474.7 321.1L474.9 322.2L475.1 325.1L475.2 324.9L475.4 324.9L475.5 325.7L475.7 324.2L475.8 322.9L476 320.8L476.1 320.2L476.3 320.9L476.4 320.9L476.6 323.2L476.7 323.5L476.9 322.4L477 325L477.2 324.8L477.3 323.8L477.5 322.2L477.6 323.4L477.8 324.2L477.9 325.4L478.1 324.8L478.2 325.1L478.4 324.6L478.5 325.6L478.7 324.3L478.8 323.8L479 324.4L479.1 321.8L479.3 324.9L479.4 324.9L479.6 324.7L479.7 322.2L479.9 320L480 317.3L480.2 317.2L480.3 316L480.5 314.3L480.7 313.7L480.8 313.3L481 313.5L481.1 314L481.3 315.6L481.4 313.2L481.6 313.7L481.7 316.3L481.9 316L482 316.1L482.2 315.9L482.3 313.6L482.5 313.8L482.6 314.1L482.8 315.1L482.9 315.1L483.1 315.7L483.2 315.4L483.4 311.6L483.5 311.1L483.7 312.2L483.8 309.8L484 308.7L484.1 307.7L484.3 306.8L484.4 305.8L484.6 306.2L484.7 305.8L484.9 305.8L485 306L485.2 307.2L485.3 308.5L485.5 310.7L485.6 310.7L485.8 311L485.9 312.8L486.1 313.4L486.2 311.3L486.4 311.1L486.5 313.7L486.7 315.1L486.8 315.5L487 316.8L487.1 317.6L487.3 317.4L487.4 318.2L487.6 320.8L487.7 321.1L487.9 322.5L488 323.5L488.2 325.4L488.4 328.2L488.5 330.8L488.7 327.9L488.8 325.7L489 325.5L489.1 320.7L489.3 318.6L489.4 315.9L489.6 316.3L489.7 320.2L489.9 319.6L490.1 321.5L490.2 321.7L490.4 323.3L490.5 323.9L490.7 324.8L490.8 325.8L491 328.9L491.1 331.5L491.3 330.2L491.4 327.1L491.6 326.4L491.7 324.3L491.9 322.7L492 320.6L492.2 318L492.3 322.3L492.5 324.5L492.6 327.2L492.8 330.1L492.9 333.5L493.1 336.8L493.3 340.3L493.4 343.8L493.6 343.3L493.7 343.8L493.9 346.1L494 347.5L494.2 350.8L494.4 355.9L494.5 355.4L494.7 355.9L494.8 353.6L495 352.8L495.1 353L495.3 352.4L495.4 352.6L495.6 353.2L495.7 352.6L495.9 352.1L496 352.1L496.2 352.2L496.3 352.3L496.5 351.2L496.7 348.9L496.8 348.2L497 344.9L497.1 345.8L497.3 344.6L497.4 345L497.6 344.3L497.7 343.2L497.9 341.7L498 339.6L498.2 339.3L498.3 339.8L498.5 339.1L498.6 337.8L498.8 337.7L498.9 335.7L499.1 332.9L499.2 333.6L499.4 332.2L499.6 330.1L499.7 331.4L499.9 330.2L500 329.5L500.2 330.2L500.3 327.7L500.5 326.5L500.6 326.1L500.8 324.6L500.9 322.9L501.1 320.9L501.2 319.2L501.4 317.8L501.5 318.2L501.7 317.7L501.8 318.8L502 321.4L502.1 322L502.3 321.7L502.4 321.9L502.6 321.2L502.7 321.7L502.9 321.8L503 321.7L503.2 321.5L503.3 321.8L503.5 321.9L503.6 321.3L503.8 321.3L503.9 319.7L504.1 319.1L504.2 318.2L504.4 316.9L504.5 314.6L504.7 313L504.8 311.9L505 311.4L505.1 311.6L505.3 311.2L505.4 309.6L505.6 308.5L505.7 308.1L505.9 309L506 310.2L506.2 309L506.3 306.9L506.5 305.6L506.6 306.5L506.8 306L506.9 304.9L507.1 305.2L507.2 304.7L507.4 305L507.5 304.9L507.7 304.5L507.8 304.6L508 304.6L508.1 306.6L508.3 308.7L508.4 308.4L508.6 308.4L508.7 309.6L508.9 308.4L509 309.6L509.2 311.7L509.4 311.2L509.5 312.2L509.7 312.6L509.8 313.3L510 315.4L510.1 317.6L510.3 318.7L510.4 317.7L510.6 319.7L510.7 318.9L510.9 319.4L511.1 321.5L511.2 321.9L511.4 320.5L511.5 320.8L511.7 321.6L511.8 321.4L512 321.9L512.1 320.7L512.3 321.8L512.4 321.6L512.6 321.8L512.7 321.5L512.9 321.7L513 321.4L513.2 321.3L513.3 321.9L513.5 320.9L513.6 321.8L513.8 320.8L513.9 319.5L514.1 316.6L514.2 314.8L514.4 313.5L514.5 312.4L514.7 311.6L514.8 312.4L515 309.8L515.1 308.3L515.3 307.9L515.4 308.5L515.6 305.8L515.7 304.3L515.9 305L516 303.3L516.2 300L516.3 299.2L516.5 297.9L516.6 297.6L516.8 297.6L516.9 297.9L517.1 298.5L517.2 297.7L517.4 299.2L517.5 300L517.7 302.1L517.8 303L518 303.6L518.1 306.7L518.3 309.8L518.4 311.6L518.6 312.2L518.7 313.6L518.9 311.1L519.1 311.9L519.2 310.3L519.4 310.2L519.5 309.1L519.7 307.8L519.8 308.1L520 307.4L520.1 308L520.3 306.7L520.4 306.8L520.6 306.5L520.7 305.3L520.9 305.2L521 302.8L521.2 302.6L521.3 300.6L521.5 299.2L521.6 299.6L521.8 298.9L521.9 300.7L522.1 301.9L522.2 302.9L522.4 301.2L522.5 302.5L522.7 301.1L522.8 301.2L523 303.6L523.1 307.2L523.3 307L523.4 309.1L523.6 309.3L523.7 309.3L523.9 309.5L524 309.2L524.2 309L524.3 308.2L524.5 308L524.6 308.2L524.8 308.1L524.9 306.1L525.1 306.4L525.2 305.3L525.4 306.3L525.5 306.7L525.7 307.9L525.8 307.6L526 306.2L526.1 305.3L526.3 305.4L526.4 304L526.6 304L526.8 302.9L526.9 302.1L527.1 300.8L527.2 303.5L527.4 304.6L527.5 303.1L527.7 302.7L527.8 299.2L528 299L528.1 299.2L528.3 296.6L528.4 295.4L528.6 292.3L528.7 291L528.9 290.7L529 289.2L529.2 289.7L529.3 289.7L529.5 289.9L529.6 289.6L529.8 288L529.9 288.1L530.1 287.1L530.2 287.2L530.4 285.4L530.5 288.6L530.7 288.3L530.8 287.5L531 288.4L531.1 286.5L531.3 285.6L531.4 283.3L531.6 281.3L531.7 279.9L531.9 279.5L532 280.4L532.2 280.2L532.3 280.2L532.5 279.3L532.6 279.3L532.8 274.4L533 276.1L533.1 273.8L533.3 273.9L533.4 273.6L533.6 271.7L533.7 271.3L533.9 272.2L534 271.4L534.2 271.5L534.3 273.1L534.5 272.2L534.6 273.1L534.8 273.6L534.9 272.3L535.1 271.3L535.2 272.4L535.4 271.9L535.5 271.8L535.7 271.7L535.8 272.1L535.9 273L536.1 276.9L536.2 279.8L536.4 279.2L536.5 280.3L536.7 279.7L536.8 279.3L537 279.2L537.1 277L537.3 276.2L537.4 272.9L537.6 270.9L537.8 267.7L537.9 267L538.1 266.8L538.2 267L538.4 267.3L538.5 266.4L538.7 273.8L538.8 281.6L539 288.7L539.1 293.2L539.3 298.8L539.4 303.1L539.6 307.8L539.7 312.3L539.9 316.6L540 322.8L540.2 327.2L540.4 332.8L540.5 338.4L540.7 342.1L540.8 344.7L540.9 324.8L541.1 329.5L541.2 335.2L541.4 342.6L541.5 348.5L541.7 354.2L541.8 359.7L542 365.8L542.1 350.2L542.3 331.8L542.4 335.3L542.6 338.8L542.7 342.5L542.9 345.5L543.1 344.8L543.2 343L543.4 340.8L543.5 337.8L543.7 335.7L543.8 333.2L544 331.1L544.1 326.7L544.3 327.3L544.4 325.3L544.6 320.4L544.7 318L544.9 318.2L545.1 316L545.2 315.6L545.4 314.4L545.5 312L545.7 307.7L545.8 305L546 305L546.1 305.2L546.3 305.2L546.4 307.1L546.6 308.1L546.7 308.5L546.8 309.7L547 311.4L547.1 312.7L547.3 315.4L547.4 314.6L547.6 312.6L547.7 311L547.9 308.9L548 305L548.2 302.5L548.3 300.3L548.5 299.7L548.6 298.9L548.8 296.2L548.9 295.2L549.1 292.4L549.2 291.6L549.4 289.2L549.5 287L549.7 283.3L549.8 281.6L550 279.7L550.2 289.7L550.3 299.6L550.5 296.7L550.6 296.2L550.8 296.2L550.9 295.8L551.1 294.4L551.2 293.3L551.4 291.6L551.5 292.7L551.7 288.6L551.8 285.3L552 284.5L552.1 285.4L552.3 284.3L552.4 283L552.6 285.2L552.7 284.4L552.9 285.6L553 284.2L553.2 281.5L553.3 279.2L553.5 280.5L553.7 277.8L553.8 275.6L554 275.3L554.1 273.8L554.3 270.8L554.4 270.4L554.6 269.6L554.7 269.5L554.9 267L555 269.3L555.2 266.4L555.3 266.9L555.5 264.7L555.6 266.2L555.8 266.7L555.9 266.8L556.1 264.7L556.2 266.2L556.4 264.5L556.5 264.5L556.7 261.8L556.8 261.4L557 259.8L557.1 259.2L557.3 255.6L557.5 255.3L557.6 254.4L557.8 250.5L557.9 249.6L558.1 250.6L558.2 250.5L558.4 251.1L558.5 249.8L558.7 250.3L558.8 250.3L559 249.6L559.1 253.6L559.3 253.7L559.4 254.9L559.6 259L559.8 258.1L559.9 260.9L560.1 263.3L560.2 264.7L560.4 268.1L560.5 272.2L560.7 275L560.8 275L561 275.4L561.2 279.3L561.3 275.7L561.5 273.6L561.6 270.9L561.8 268.9L561.9 266.2L562.1 265.7L562.2 265L562.4 264L562.5 262.5L562.7 259.5L562.8 259.3L563 254.8L563.1 253.6L563.3 256.7L563.5 257.7L563.6 259.2L563.8 261.8L563.9 265.5L564.1 269L564.2 273.4L564.4 273.8L564.6 274.3L564.7 273.6L564.9 274.9L565 276.5L565.2 274.8L565.3 272.8L565.5 272.5L565.6 271.4L565.8 267.7L565.9 269.5L566.1 270.9L566.2 271.7L566.4 270L566.5 267.6L566.7 267.5L566.8 265.9L567 265.3L567.1 264.2L567.3 264.4L567.4 263.8L567.6 263.2L567.8 260.9L567.9 256.9L568.1 258.9L568.2 257.5L568.4 256.8L568.5 254.7L568.7 252.4L568.8 250.6L569 248.7L569.1 249.5L569.3 251.4L569.4 248.2L569.6 245.6L569.7 246.4L569.9 243.7L570 242L570.2 245.2L570.3 243.1L570.5 244L570.6 241.4L570.8 241.8L570.9 242.3L571.1 244.1L571.2 243.8L571.4 241.5L571.5 241.9L571.7 244.1L571.8 240L572 236.4L572.1 234.6L572.3 234.7L572.4 236L572.6 237.9L572.7 236.4L572.9 233.5L573.1 234.6L573.2 233.9L573.4 233.6L573.5 233.3L573.7 231.8L573.8 227.6L574 228L574.1 225.9L574.3 228.5L574.4 233.4L574.5 238.1L574.7 238L574.8 234L575 232.6L575.1 231.4L575.3 229L575.4 228.1L575.6 227.6L575.7 225.8L575.8 220.9L576 218.9L576.1 219.1L576.3 221.7L576.4 225.5L576.6 223L576.7 224.2L576.9 227.4L577 228.1L577.2 227.6L577.3 231L577.5 233L577.6 233.1L577.8 232.5L577.9 232.9L578.1 233.4L578.2 231.8L578.4 231.6L578.5 230.7L578.7 230.9L578.8 230.2L579 228.8L579.2 228.4L579.3 225.8L579.5 220.5L579.6 220.5L579.8 219L579.9 216.7L580.1 214.6L580.2 214.1L580.4 214L580.5 211.3L580.7 209.2L580.8 207.4L581 207.8L581.1 205.8L581.3 203.4L581.4 202.7L581.6 200.6L581.7 195.6L581.9 198.1L582 196L582.2 197.1L582.4 198.6L582.5 198L582.7 196.1L582.8 195L583 196.1L583.1 197.7L583.3 197.7L583.4 196.7L583.6 197.2L583.7 199L583.9 194.8L584 195.3L584.2 194.6L584.3 194.6L584.5 194.7L584.6 193.6L584.8 193.2L585 195.8L585.1 201.6L585.3 207.9L585.5 203.6L585.6 203L585.8 200.9L585.9 197.9L586.1 196.2L586.2 195.3L586.4 197.4L586.5 199.5L586.7 196.9L586.8 194.9L587 193.1L587.1 195.3L587.3 198.4L587.4 199.6L587.6 200.9L587.7 199.9L587.9 201L588 197.3L588.2 197.7L588.3 197.9L588.5 195.5L588.6 194.2L588.8 195L588.9 192.7L589.1 188.4L589.3 189.8L589.4 189.5L589.6 190.7L589.7 193.5L589.9 191.6L590 189.5L590.2 186.9L590.3 185.2L590.5 188.2L590.6 187.5L590.8 187.9L590.9 189.3L591.1 190.6L591.2 188.4L591.4 188.1L591.5 183.6L591.7 181.9L591.8 184.7L592 182.2L592.1 179L592.3 178.1L592.4 179.6L592.6 175.4L592.7 177.1L592.9 176.5L593 179.3L593.2 180.9L593.3 183.3L593.5 180.4L593.6 177.3L593.8 177.3L594 179.1L594.1 178.4L594.3 176.8L594.4 179L594.6 180.4L594.7 179.7L594.9 177.6L595 176.6L595.2 174.9L595.3 176.5L595.5 180.5L595.6 179.1L595.8 180L595.9 179.4L596.1 179.3L596.2 177.6L596.4 178.3L596.5 174.6L596.7 173.7L596.8 171.9L597 169.8L597.1 166.9L597.3 167.7L597.4 172.8L597.6 175.6L597.7 173.6L597.9 174.3L598 174.8L598.2 175.5L598.4 178.4L598.5 181.2L598.7 184.1L598.8 183.4L599 184.3L599.1 182.5L599.3 183.1L599.4 181L599.6 181.7L599.7 185.6L599.9 183.8L600 184.7L600.2 184L600.3 185.2L600.5 187.4L600.6 186L600.8 187L600.9 186.9L601.1 186.6L601.2 186.7L601.4 185.9L601.5 186.4L601.7 187.2L601.9 182.8L602 178.2L602.2 177.2L602.3 174.4L602.5 173.7L602.6 171.8L602.8 170.7L602.9 170.7L603.1 169.4L603.2 171.3L603.4 169.3L603.5 168.7L603.7 169.8L603.8 169.4L604 167.1L604.1 167.4L604.3 165.3L604.4 163L604.6 158.7L604.7 159.7L604.9 158.8L605 156.6L605.2 152.4L605.3 154L605.5 154.7L605.6 159.9L605.8 163.3L606 162.1L606.1 164.8L606.3 162.6L606.4 166.3L606.6 169L606.7 168.6L606.9 166.1L607 163.1L607.2 156.5L607.3 153.7L607.5 151.7L607.6 157.1L607.8 159.7L607.9 160.2L608.1 161.1L608.2 161L608.4 161.7L608.5 164.2L608.7 161.8L608.8 160.2L609 161.7L609.1 157L609.3 155L609.4 155.9L609.6 153.9L609.7 152.1L609.9 148.7L610 144.4L610.2 152.9L610.3 153.9L610.5 152.8L610.6 156.9L610.7 162.8L610.9 164.3L611 165.7L611.2 167L611.3 171.3L611.5 174.2L611.6 175.8L611.8 176.3L611.9 174L612.1 175.4L612.2 178.6L612.4 185L612.5 185L612.7 182.8L612.8 180.4L613 179.8L613.1 175.8L613.3 176.7L613.4 173.9L613.6 171.1L613.7 167.9L613.9 162.6L614 164.6L614.2 166.2L614.3 166.2L614.5 171.2L614.6 173.5L614.8 175.1L614.9 175L615.1 178.3L615.2 178.5L615.4 179.5L615.5 184.1L615.7 188.7L615.8 193.1L616 194.5L616.1 195.8L616.3 196.1L616.4 196.2L616.6 198.4L616.7 198.5L616.9 193.8L617 189.7L617.2 185.5L617.3 184.7L617.5 180.7L617.6 179.4L617.8 178.4L618 175.7L618.1 172L618.3 168.7L618.4 165.9L618.6 164.5L618.7 160.6L618.9 158.7L619.1 164.1L619.2 166.4L619.4 166L619.5 169.3L619.7 173.9L619.8 173.6L620 172.7L620.1 175.7L620.3 178.6L620.5 180.6L620.6 177.3L620.8 179.4L620.9 179.9L621.1 181.5L621.2 187.4L621.4 191.9L621.5 196.5L621.7 198L621.8 200.1L622 199.1L622.1 201.9L622.3 196.9L622.5 192.2L622.7 187.4L622.8 187.6L623 191.6L623.1 193.4L623.3 195.6L623.5 201.2L623.6 204.4L623.8 209.5L623.9 213.7L624.1 217.7L624.2 221.9L624.4 221.8L624.5 218.5L624.7 218.3L624.8 216.3L625 212.5L625.1 210.7L625.3 208.1L625.4 204.8L625.6 202L625.7 198L625.9 204.3L626 204.3L626.1 207.9L626.3 214.6L626.4 219.2L626.6 225.1L626.7 228.5L626.9 234.4L627 239.4L627.2 242.1L627.3 240.1L627.5 239.6L627.6 238.1L627.8 236.5L627.9 234.5L628.1 232.7L628.2 231.2L628.4 227.8L628.5 228.7L628.7 227.7L628.8 225.5L629 224.3L629.1 223.4L629.3 222.3L629.5 220L629.6 215.8L629.8 214.2L629.9 212.7L630.1 210.1L630.2 208.6L630.4 210.1L630.5 207.6L630.7 206.3L630.8 205.3L631 202.2L631.1 200L631.3 199.1L631.4 201.1L631.6 202.2L631.7 200.2L631.9 198.4L632 195.5L632.2 193L632.3 191.8L632.5 192.1L632.6 192.2L632.8 190.3L632.9 190.4L633.1 187L633.3 187.3L633.4 188.7L633.6 186.9L633.7 192.5L633.9 191.6L634 195.6L634.2 197.9L634.3 200.4L634.5 204.1L634.7 209.4L634.8 214.8L635 215.3L635.1 215.5L635.3 213.6L635.4 218.2L635.6 219.3L635.8 221.3L635.9 216.4L636.1 213.8L636.2 209L636.4 203.8L636.5 207.1L636.7 208.9L636.9 213.5L637 215.1L637.2 220.6L637.3 221.9L637.5 230.8L637.6 234.8L637.8 240.2L638 244.2L638.1 246.4L638.3 249.1L638.4 243.3L638.5 234.8L638.7 231.4L638.8 235.4L639 235.5L639.1 237.5L639.2 243.5L639.4 245.5L639.5 249.9L639.7 246.1L639.8 242.8L640 242.2L640.1 238.6L640.3 238.5L640.4 235.5L640.6 233.1L640.7 231.8L640.9 232.7L641 231.7L641.2 234.1L641.3 233.5L641.5 235.2L641.6 231.6L641.8 231.8L641.9 234.4L642.1 231.9L642.2 229.8L642.4 229.2L642.5 224L642.7 221.1L642.8 219.4L643 219L643.1 222.7L643.3 220.3L643.4 217L643.6 216.5L643.7 217.4L643.9 216L644 217.4L644.2 215.8L644.3 212.8L644.5 208.5L644.7 206.4L644.8 207.5L645 207.7L645.1 206.6L645.3 208.7L645.4 212.4L645.6 215.3L645.7 219L645.9 222L646 223.6L646.2 224.4L646.3 225.6L646.5 226.9L646.7 228.9L646.8 229.6L647 229.4L647.1 229.5L647.3 228.4L647.4 230.3L647.6 232.1L647.7 227.8L647.9 226L648 223.9L648.2 223L648.3 219.9L648.5 219.1L648.6 219.5L648.8 218.1L648.9 217.5L649.1 214.5L649.2 213.7L649.4 212L649.5 210.9L649.7 208.8L649.8 208.5L650 205L650.1 206.1L650.3 205.3L650.4 205.1L650.6 202.3L650.7 200.7L650.9 198.3L651 197.9L651.2 198L651.3 197.8L651.5 200.2L651.7 203L651.8 204.3L652 205.4L652.1 205.4L652.3 207.4L652.4 210.5L652.6 214.2L652.7 215.8L652.9 216.9L653 215.1L653.2 216.5L653.3 215.1L653.5 213.5L653.6 217.1L653.8 216.7L653.9 216.4L654.1 215.7L654.2 217.4L654.4 217.5L654.5 220L654.7 221.9L654.8 223.5L655 222.1L655.1 224.2L655.3 224.2L655.4 225.8L655.6 225.4L655.7 225.5L655.9 223.9L656 224.6L656.2 223L656.3 223.7L656.5 224.7L656.6 223.8L656.8 223.7L656.9 224.9L657.1 225.1L657.2 225.4L657.4 225.7L657.5 225.7L657.7 225.1L657.8 225L658 225.6L658.1 224.8L658.3 223.8L658.5 224.3L658.6 223.7L658.8 222.9L658.9 220.5L659.1 219.5L659.2 218.5L659.4 219.3L659.5 217.2L659.7 214.6L659.8 214.9L660 213.2L660.1 212.1L660.3 211.7L660.4 213.5L660.6 209.7L660.7 212.6L660.9 211.5L661 211.6L661.2 209L661.3 209.2L661.5 208.6L661.6 207L661.8 205.6L661.9 206L662.1 204.2L662.2 202.9L662.4 200.5L662.5 200.9L662.7 200.4L662.8 200.6L663 201.6L663.1 200.5L663.3 199.2L663.4 196L663.6 196L663.7 194.7L663.9 192L664 191.7L664.2 191L664.3 190.1L664.5 190.9L664.6 192.2L664.8 189.5L664.9 188.6L665.1 188.1L665.2 189.9L665.4 189.1L665.6 186.3L665.7 187.9L665.9 189.1L666 186.4L666.2 183L666.3 179.4L666.5 179.9L666.6 178.1L666.8 179L666.9 177.4L667.1 177.5L667.2 176.5L667.4 173.2L667.5 171.9L667.7 171.8L667.8 171.1L668 170L668.1 170.4L668.3 169.4L668.4 167.6L668.6 163.8L668.7 167.3L668.9 169.1L669 171L669.2 168.7L669.3 163.1L669.5 162.5L669.6 163L669.8 164.5L669.9 162.6L670.1 162.4L670.2 170.4L670.4 171.7L670.6 174.3L670.7 176.9L670.9 177.8L671 180.6L671.2 180L671.3 181.2L671.5 180.8L671.7 179.1L671.8 181.2L672 181.3L672.1 180.5L672.3 180.6L672.4 178.7L672.6 178.5L672.7 176.6L672.8 173.4L673 170.7L673.1 170.7L673.3 170.9L673.4 168.7L673.6 172.7L673.7 174.9L673.9 174.9L674 174.8L674.2 172.1L674.3 169.7L674.5 170L674.6 170.2L674.8 173.8L674.9 175.2L675.1 175.7L675.2 177.2L675.4 178.1L675.5 177.9L675.7 180.7L675.8 182.8L676 187.3L676.1 186L676.3 189L676.4 193.2L676.6 192.8L676.7 194.1L676.9 193.3L677 194.9L677.2 191.9L677.3 191.5L677.5 192.2L677.6 193L677.8 194.3L677.9 193.8L678.1 191L678.2 192.7L678.4 195.7L678.5 195.6L678.7 194.5L678.8 198.3L679 200.5L679.1 203.2L679.3 203.2L679.4 200.7L679.6 200.6L679.7 201.1L679.9 198.3L680 200.6L680.2 197.8L680.3 196.6L680.5 191.4L680.7 187.9L680.8 187.5L681 186.4L681.1 185.3L681.3 185.1L681.4 183.4L681.6 179.9L681.7 181.2L681.9 180L682 175.5L682.2 172.3L682.3 172.3L682.5 172.2L682.6 172.3L682.8 173.8L682.9 169.9L683.1 168.1L683.2 167.8L683.4 169L683.5 168.1L683.7 167.4L683.8 162.3L684 161.5L684.1 159.6L684.3 155.6L684.4 152.5L684.6 151.2L684.7 154L684.9 149.3L685 146.3L685.2 145.7L685.3 146.5L685.5 146.4L685.6 146.3L685.8 145.6L685.9 147.2L686.1 148.8L686.2 151.2L686.4 152.2L686.5 153.7L686.7 152.9L686.8 153.6L687 152.2L687.1 149.1L687.3 147.1L687.4 143.8L687.6 144.2L687.7 145.6L687.9 142.3L688 142.9L688.2 141.8L688.3 141.5L688.5 140.8L688.6 140.8L688.8 141.3L688.9 144.4L689.1 139.7L689.2 138.6L689.4 142.1L689.5 143.4L689.7 145.1L689.8 146L690 150.7L690.1 148.9L690.3 144.8L690.4 144.7L690.6 142.5L690.7 140.6L690.9 142.6L691 139.3L691.2 142.3L691.4 142.8L691.5 143L691.7 139.6L691.8 138.7L692 138.3L692.1 139.4L692.3 138.6L692.4 137.8L692.6 135.6L692.7 131.9L692.9 129.6L693 128.9L693.2 128.6L693.3 124.4L693.5 123.3L693.6 122.6L693.8 117.9L693.9 113.7L694.1 111.7L694.2 111.3L694.4 112L694.5 108.9L694.7 109.3L694.8 106.3L695 107.4L695.1 106.5L695.3 104.9L695.4 106.2L695.6 107.4L695.7 108.2L695.9 112.4L696 116.5L696.2 118.5L696.4 116.1L696.5 118L696.7 121.7L696.8 124.8L697 126.3L697.1 125.3L697.3 128.1L697.4 128.5L697.6 129.7L698 516Z" fill="#6657b5" fill-opacity="0.19" stroke="#8577dc" stroke-width="0.5" stroke-opacity="0.8" stroke-linejoin="round"/>
<g fill="#2fa8b0" fill-opacity="0.36"><circle cx="37.3" cy="491.8" r="1.65"/><circle cx="38.2" cy="475.5" r="1.65"/><circle cx="38.4" cy="492" r="1.65"/><circle cx="39" cy="470.8" r="1.65"/><circle cx="39.1" cy="497.3" r="1.65"/><circle cx="39.4" cy="484.1" r="1.65"/><circle cx="39.6" cy="489.3" r="1.65"/><circle cx="39.7" cy="486.3" r="1.65"/><circle cx="39.9" cy="456.9" r="1.65"/><circle cx="41.4" cy="491.6" r="1.65"/><circle cx="41.7" cy="494.9" r="1.65"/><circle cx="42" cy="491.2" r="1.65"/><circle cx="42.4" cy="501.7" r="1.65"/><circle cx="42.6" cy="468.4" r="1.65"/><circle cx="42.8" cy="496.1" r="1.65"/><circle cx="42.9" cy="494.6" r="1.65"/><circle cx="43.7" cy="492.1" r="1.65"/><circle cx="44" cy="496.4" r="1.65"/><circle cx="44.3" cy="481.5" r="1.65"/><circle cx="44.4" cy="458.5" r="1.65"/><circle cx="44.9" cy="438" r="1.65"/><circle cx="45.2" cy="467.6" r="1.65"/><circle cx="45.6" cy="446.7" r="1.65"/><circle cx="45.8" cy="483.8" r="1.65"/><circle cx="46.4" cy="414.8" r="1.65"/><circle cx="46.5" cy="457.4" r="1.65"/><circle cx="47.3" cy="478.9" r="1.65"/><circle cx="48.1" cy="495.2" r="1.65"/><circle cx="48.4" cy="498.9" r="1.65"/><circle cx="49.1" cy="503.3" r="1.65"/><circle cx="49.3" cy="491.5" r="1.65"/><circle cx="49.6" cy="484" r="1.65"/><circle cx="50" cy="495.9" r="1.65"/><circle cx="50.2" cy="490.8" r="1.65"/><circle cx="50.5" cy="487.4" r="1.65"/><circle cx="50.9" cy="497.3" r="1.65"/><circle cx="52" cy="500.5" r="1.65"/><circle cx="52.5" cy="475.4" r="1.65"/><circle cx="52.9" cy="490.4" r="1.65"/><circle cx="53.4" cy="488.4" r="1.65"/><circle cx="53.5" cy="492.1" r="1.65"/><circle cx="54" cy="495.8" r="1.65"/><circle cx="54.1" cy="484.6" r="1.65"/><circle cx="54.4" cy="480.2" r="1.65"/><circle cx="54.6" cy="497.2" r="1.65"/><circle cx="54.7" cy="467.2" r="1.65"/><circle cx="55.3" cy="479.4" r="1.65"/><circle cx="55.6" cy="488.1" r="1.65"/><circle cx="55.9" cy="476.9" r="1.65"/><circle cx="56.5" cy="489.6" r="1.65"/><circle cx="57.2" cy="474.8" r="1.65"/><circle cx="57.3" cy="455.2" r="1.65"/><circle cx="57.6" cy="437.7" r="1.65"/><circle cx="59.3" cy="448.2" r="1.65"/><circle cx="59.4" cy="464.6" r="1.65"/><circle cx="59.6" cy="450.7" r="1.65"/><circle cx="59.7" cy="447.8" r="1.65"/><circle cx="60.5" cy="412.1" r="1.65"/><circle cx="60.6" cy="475.9" r="1.65"/><circle cx="60.8" cy="463.4" r="1.65"/><circle cx="61.1" cy="481.4" r="1.65"/><circle cx="61.4" cy="426.8" r="1.65"/><circle cx="61.7" cy="446.9" r="1.65"/><circle cx="62.2" cy="466.4" r="1.65"/><circle cx="62.3" cy="475.5" r="1.65"/><circle cx="62.5" cy="467.3" r="1.65"/><circle cx="62.6" cy="485.3" r="1.65"/><circle cx="62.8" cy="477.9" r="1.65"/><circle cx="62.9" cy="474.5" r="1.65"/><circle cx="63.2" cy="490" r="1.65"/><circle cx="63.4" cy="446.6" r="1.65"/><circle cx="63.5" cy="446.5" r="1.65"/><circle cx="63.8" cy="477" r="1.65"/><circle cx="64" cy="484.2" r="1.65"/><circle cx="64.3" cy="490.7" r="1.65"/><circle cx="64.7" cy="482.9" r="1.65"/><circle cx="65" cy="485.8" r="1.65"/><circle cx="65.2" cy="488.8" r="1.65"/><circle cx="65.3" cy="495" r="1.65"/><circle cx="65.5" cy="457.6" r="1.65"/><circle cx="65.8" cy="480.9" r="1.65"/><circle cx="66.2" cy="489" r="1.65"/><circle cx="66.6" cy="484.1" r="1.65"/><circle cx="66.9" cy="490.9" r="1.65"/><circle cx="67.3" cy="489.4" r="1.65"/><circle cx="67.6" cy="478" r="1.65"/><circle cx="67.8" cy="486.5" r="1.65"/><circle cx="68.4" cy="465.9" r="1.65"/><circle cx="68.8" cy="480.2" r="1.65"/><circle cx="69" cy="443.9" r="1.65"/><circle cx="69.3" cy="477.1" r="1.65"/><circle cx="69.6" cy="430" r="1.65"/><circle cx="70" cy="490.7" r="1.65"/><circle cx="70.2" cy="486.8" r="1.65"/><circle cx="70.3" cy="477.1" r="1.65"/><circle cx="71.2" cy="480.2" r="1.65"/><circle cx="71.4" cy="476.3" r="1.65"/><circle cx="71.6" cy="437.3" r="1.65"/><circle cx="71.7" cy="459.2" r="1.65"/><circle cx="72.8" cy="457.8" r="1.65"/><circle cx="73.2" cy="471.6" r="1.65"/><circle cx="73.4" cy="465.3" r="1.65"/><circle cx="74" cy="481.4" r="1.65"/><circle cx="74.3" cy="463.7" r="1.65"/><circle cx="74.7" cy="487.1" r="1.65"/><circle cx="75.5" cy="453.8" r="1.65"/><circle cx="76.1" cy="492.5" r="1.65"/><circle cx="76.4" cy="496.7" r="1.65"/><circle cx="76.6" cy="420.6" r="1.65"/><circle cx="76.7" cy="435.3" r="1.65"/><circle cx="76.9" cy="444" r="1.65"/><circle cx="77" cy="461.9" r="1.65"/><circle cx="77.9" cy="441.8" r="1.65"/><circle cx="78.5" cy="443.9" r="1.65"/><circle cx="78.8" cy="441.5" r="1.65"/><circle cx="79" cy="439.7" r="1.65"/><circle cx="79.3" cy="488.3" r="1.65"/><circle cx="79.4" cy="452.8" r="1.65"/><circle cx="79.7" cy="443.5" r="1.65"/><circle cx="79.9" cy="469.8" r="1.65"/><circle cx="80.3" cy="448.8" r="1.65"/><circle cx="80.5" cy="475.1" r="1.65"/><circle cx="81" cy="417.9" r="1.65"/><circle cx="81.1" cy="473.1" r="1.65"/><circle cx="81.3" cy="448.8" r="1.65"/><circle cx="81.6" cy="486.2" r="1.65"/><circle cx="81.9" cy="477.6" r="1.65"/><circle cx="82" cy="463.3" r="1.65"/><circle cx="82.2" cy="429.4" r="1.65"/><circle cx="82.3" cy="452.8" r="1.65"/><circle cx="82.6" cy="459.6" r="1.65"/><circle cx="82.8" cy="363.4" r="1.65"/><circle cx="82.9" cy="414.3" r="1.65"/><circle cx="83.2" cy="427.7" r="1.65"/><circle cx="83.5" cy="438.1" r="1.65"/><circle cx="83.7" cy="449.4" r="1.65"/><circle cx="84.4" cy="429.3" r="1.65"/><circle cx="84.9" cy="465.6" r="1.65"/><circle cx="85.2" cy="443.1" r="1.65"/><circle cx="85.7" cy="453.5" r="1.65"/><circle cx="86.3" cy="470.2" r="1.65"/><circle cx="86.4" cy="474" r="1.65"/><circle cx="86.6" cy="482.1" r="1.65"/><circle cx="86.7" cy="484.9" r="1.65"/><circle cx="87" cy="468.7" r="1.65"/><circle cx="87.8" cy="460" r="1.65"/><circle cx="87.9" cy="452.2" r="1.65"/><circle cx="88.2" cy="484.2" r="1.65"/><circle cx="88.8" cy="434.6" r="1.65"/><circle cx="89" cy="487.6" r="1.65"/><circle cx="89.3" cy="490" r="1.65"/><circle cx="89.4" cy="492.8" r="1.65"/><circle cx="90.3" cy="472.1" r="1.65"/><circle cx="90.7" cy="491.1" r="1.65"/><circle cx="91.1" cy="472.5" r="1.65"/><circle cx="91.6" cy="480.2" r="1.65"/><circle cx="92.2" cy="466.4" r="1.65"/><circle cx="92.3" cy="445.2" r="1.65"/><circle cx="93.1" cy="442.4" r="1.65"/><circle cx="93.2" cy="478.1" r="1.65"/><circle cx="93.8" cy="458.9" r="1.65"/><circle cx="94" cy="471.3" r="1.65"/><circle cx="94.3" cy="465.5" r="1.65"/><circle cx="94.9" cy="483.2" r="1.65"/><circle cx="95.4" cy="473" r="1.65"/><circle cx="95.7" cy="434.2" r="1.65"/><circle cx="97.5" cy="476.2" r="1.65"/><circle cx="97.6" cy="475.7" r="1.65"/><circle cx="97.9" cy="449.1" r="1.65"/><circle cx="98.1" cy="468.5" r="1.65"/><circle cx="98.2" cy="479.5" r="1.65"/><circle cx="98.5" cy="464.9" r="1.65"/><circle cx="98.7" cy="465.6" r="1.65"/><circle cx="98.8" cy="463.8" r="1.65"/><circle cx="99.3" cy="468" r="1.65"/><circle cx="99.6" cy="468" r="1.65"/><circle cx="99.7" cy="479.8" r="1.65"/><circle cx="100.2" cy="475.5" r="1.65"/><circle cx="100.7" cy="478.3" r="1.65"/><circle cx="101" cy="457" r="1.65"/><circle cx="101.4" cy="420.8" r="1.65"/><circle cx="101.9" cy="374.1" r="1.65"/><circle cx="102" cy="476.6" r="1.65"/><circle cx="102.2" cy="443.2" r="1.65"/><circle cx="102.6" cy="455.5" r="1.65"/><circle cx="102.9" cy="436.3" r="1.65"/><circle cx="104.6" cy="243.1" r="1.65"/><circle cx="104.8" cy="363" r="1.65"/><circle cx="104.9" cy="296.6" r="1.65"/><circle cx="105.4" cy="362.7" r="1.65"/><circle cx="105.7" cy="274.2" r="1.65"/><circle cx="106.4" cy="295.9" r="1.65"/><circle cx="106.7" cy="310.4" r="1.65"/><circle cx="106.9" cy="373.3" r="1.65"/><circle cx="107.3" cy="285.6" r="1.65"/><circle cx="108.2" cy="278.8" r="1.65"/><circle cx="108.4" cy="341.2" r="1.65"/><circle cx="108.5" cy="372.8" r="1.65"/><circle cx="108.7" cy="372.1" r="1.65"/><circle cx="108.8" cy="293.6" r="1.65"/><circle cx="109.4" cy="391.5" r="1.65"/><circle cx="109.6" cy="418.1" r="1.65"/><circle cx="109.9" cy="341.9" r="1.65"/><circle cx="110.1" cy="379.9" r="1.65"/><circle cx="110.2" cy="346.7" r="1.65"/><circle cx="110.4" cy="268.7" r="1.65"/><circle cx="110.7" cy="370.2" r="1.65"/><circle cx="110.8" cy="366.2" r="1.65"/><circle cx="111" cy="352.4" r="1.65"/><circle cx="111.1" cy="249.8" r="1.65"/><circle cx="111.3" cy="366" r="1.65"/><circle cx="111.6" cy="365.3" r="1.65"/><circle cx="112.5" cy="336.6" r="1.65"/><circle cx="112.6" cy="446.4" r="1.65"/><circle cx="112.9" cy="379.3" r="1.65"/><circle cx="113.1" cy="368.4" r="1.65"/><circle cx="113.4" cy="470" r="1.65"/><circle cx="114" cy="422.3" r="1.65"/><circle cx="114.1" cy="372.8" r="1.65"/><circle cx="114.3" cy="432.4" r="1.65"/><circle cx="114.5" cy="405.3" r="1.65"/><circle cx="114.6" cy="409" r="1.65"/><circle cx="114.9" cy="436.9" r="1.65"/><circle cx="115.1" cy="388" r="1.65"/><circle cx="116.3" cy="343.1" r="1.65"/><circle cx="116.7" cy="433.2" r="1.65"/><circle cx="117" cy="408.9" r="1.65"/><circle cx="117.2" cy="408.7" r="1.65"/><circle cx="117.3" cy="403" r="1.65"/><circle cx="117.8" cy="419.4" r="1.65"/><circle cx="118.1" cy="428.3" r="1.65"/><circle cx="118.8" cy="391.2" r="1.65"/><circle cx="119.2" cy="414.5" r="1.65"/><circle cx="120.1" cy="395.8" r="1.65"/><circle cx="120.5" cy="360.3" r="1.65"/><circle cx="121.4" cy="350.2" r="1.65"/><circle cx="121.7" cy="400.3" r="1.65"/><circle cx="121.9" cy="379.3" r="1.65"/><circle cx="122.2" cy="447.1" r="1.65"/><circle cx="122.3" cy="398.1" r="1.65"/><circle cx="122.6" cy="410.7" r="1.65"/><circle cx="123.1" cy="388" r="1.65"/><circle cx="123.5" cy="431.2" r="1.65"/><circle cx="123.7" cy="425" r="1.65"/><circle cx="124" cy="437.5" r="1.65"/><circle cx="124.2" cy="405.6" r="1.65"/><circle cx="124.3" cy="412.1" r="1.65"/><circle cx="124.6" cy="437.3" r="1.65"/><circle cx="125.7" cy="467.3" r="1.65"/><circle cx="126.4" cy="447.2" r="1.65"/><circle cx="126.7" cy="336.7" r="1.65"/><circle cx="126.9" cy="443.1" r="1.65"/><circle cx="127" cy="398.3" r="1.65"/><circle cx="127.5" cy="466.7" r="1.65"/><circle cx="127.6" cy="352.2" r="1.65"/><circle cx="127.8" cy="450.7" r="1.65"/><circle cx="128.2" cy="430" r="1.65"/><circle cx="128.7" cy="463.6" r="1.65"/><circle cx="128.9" cy="466.3" r="1.65"/><circle cx="129.3" cy="440.9" r="1.65"/><circle cx="129.5" cy="456.9" r="1.65"/><circle cx="129.6" cy="440.5" r="1.65"/><circle cx="130.4" cy="482.9" r="1.65"/><circle cx="131.1" cy="476.7" r="1.65"/><circle cx="131.4" cy="480.6" r="1.65"/><circle cx="132.2" cy="456.5" r="1.65"/><circle cx="132.3" cy="465" r="1.65"/><circle cx="132.8" cy="474.3" r="1.65"/><circle cx="132.9" cy="445" r="1.65"/><circle cx="133.1" cy="461.5" r="1.65"/><circle cx="133.7" cy="463.2" r="1.65"/><circle cx="134" cy="476.7" r="1.65"/><circle cx="134.2" cy="429.7" r="1.65"/><circle cx="134.6" cy="464.7" r="1.65"/><circle cx="134.8" cy="472.8" r="1.65"/><circle cx="135.4" cy="487.1" r="1.65"/><circle cx="136.1" cy="434.1" r="1.65"/><circle cx="136.4" cy="424" r="1.65"/><circle cx="136.9" cy="479.4" r="1.65"/><circle cx="137.3" cy="471.2" r="1.65"/><circle cx="137.5" cy="480.1" r="1.65"/><circle cx="138.1" cy="476.9" r="1.65"/><circle cx="138.6" cy="488.3" r="1.65"/><circle cx="138.9" cy="471.8" r="1.65"/><circle cx="139" cy="452.6" r="1.65"/><circle cx="139.2" cy="458.9" r="1.65"/><circle cx="139.5" cy="488" r="1.65"/><circle cx="140.1" cy="464" r="1.65"/><circle cx="140.2" cy="480" r="1.65"/><circle cx="141.6" cy="484.2" r="1.65"/><circle cx="141.9" cy="484.8" r="1.65"/><circle cx="142.3" cy="452.4" r="1.65"/><circle cx="142.5" cy="458.3" r="1.65"/><circle cx="143.4" cy="478.2" r="1.65"/><circle cx="143.6" cy="463.6" r="1.65"/><circle cx="143.7" cy="471.6" r="1.65"/><circle cx="144.2" cy="438" r="1.65"/><circle cx="144.6" cy="467.1" r="1.65"/><circle cx="144.8" cy="481.1" r="1.65"/><circle cx="145.1" cy="445.5" r="1.65"/><circle cx="145.4" cy="481.3" r="1.65"/><circle cx="145.5" cy="439" r="1.65"/><circle cx="146" cy="475" r="1.65"/><circle cx="146.3" cy="412.2" r="1.65"/><circle cx="146.7" cy="425.4" r="1.65"/><circle cx="146.9" cy="437.3" r="1.65"/><circle cx="147.3" cy="470.1" r="1.65"/><circle cx="147.5" cy="444.1" r="1.65"/><circle cx="147.6" cy="473" r="1.65"/><circle cx="148" cy="469.8" r="1.65"/><circle cx="148.1" cy="454.7" r="1.65"/><circle cx="148.3" cy="468.5" r="1.65"/><circle cx="148.4" cy="442.3" r="1.65"/><circle cx="148.6" cy="484.2" r="1.65"/><circle cx="148.7" cy="488.6" r="1.65"/><circle cx="148.9" cy="471.1" r="1.65"/><circle cx="149" cy="486" r="1.65"/><circle cx="149.3" cy="469.5" r="1.65"/><circle cx="149.5" cy="491.7" r="1.65"/><circle cx="150.1" cy="479.4" r="1.65"/><circle cx="150.2" cy="491.4" r="1.65"/><circle cx="151.1" cy="480.5" r="1.65"/><circle cx="151.7" cy="456.9" r="1.65"/><circle cx="151.9" cy="495.7" r="1.65"/><circle cx="152.7" cy="491.5" r="1.65"/><circle cx="153.6" cy="485.8" r="1.65"/><circle cx="154.5" cy="469.8" r="1.65"/><circle cx="154.9" cy="473.5" r="1.65"/><circle cx="155.4" cy="454.5" r="1.65"/><circle cx="155.5" cy="422.9" r="1.65"/><circle cx="156" cy="488.1" r="1.65"/><circle cx="156.6" cy="444.4" r="1.65"/><circle cx="156.7" cy="488.7" r="1.65"/><circle cx="157.5" cy="456.6" r="1.65"/><circle cx="157.7" cy="485.6" r="1.65"/><circle cx="158.4" cy="489.4" r="1.65"/><circle cx="158.6" cy="487.5" r="1.65"/><circle cx="158.7" cy="488" r="1.65"/><circle cx="159.5" cy="461.7" r="1.65"/><circle cx="159.8" cy="473.9" r="1.65"/><circle cx="159.9" cy="474.8" r="1.65"/><circle cx="160.5" cy="443.6" r="1.65"/><circle cx="160.8" cy="503.6" r="1.65"/><circle cx="161" cy="492.3" r="1.65"/><circle cx="161.1" cy="477.9" r="1.65"/><circle cx="161.6" cy="477.1" r="1.65"/><circle cx="162.2" cy="488.8" r="1.65"/><circle cx="162.5" cy="495.4" r="1.65"/><circle cx="162.8" cy="466.8" r="1.65"/><circle cx="163.1" cy="473.7" r="1.65"/><circle cx="163.4" cy="475" r="1.65"/><circle cx="164.2" cy="484" r="1.65"/><circle cx="165.1" cy="452.6" r="1.65"/><circle cx="165.4" cy="477.7" r="1.65"/><circle cx="166" cy="431.1" r="1.65"/><circle cx="166.1" cy="469.1" r="1.65"/><circle cx="166.3" cy="460" r="1.65"/><circle cx="166.7" cy="476.9" r="1.65"/><circle cx="167.5" cy="433" r="1.65"/><circle cx="167.7" cy="414.9" r="1.65"/><circle cx="168" cy="405.4" r="1.65"/><circle cx="169" cy="456" r="1.65"/><circle cx="169.5" cy="468.1" r="1.65"/><circle cx="169.8" cy="413" r="1.65"/><circle cx="170.1" cy="421" r="1.65"/><circle cx="170.4" cy="414.4" r="1.65"/><circle cx="171" cy="480.5" r="1.65"/><circle cx="171.1" cy="417.1" r="1.65"/><circle cx="171.6" cy="391.4" r="1.65"/><circle cx="172.8" cy="435.6" r="1.65"/><circle cx="173.3" cy="480.2" r="1.65"/><circle cx="173.4" cy="450.8" r="1.65"/><circle cx="173.6" cy="469.5" r="1.65"/><circle cx="174.5" cy="481.3" r="1.65"/><circle cx="174.6" cy="476.3" r="1.65"/><circle cx="174.8" cy="485.9" r="1.65"/><circle cx="174.9" cy="480" r="1.65"/><circle cx="175.1" cy="478.8" r="1.65"/><circle cx="175.7" cy="474.8" r="1.65"/><circle cx="176.3" cy="486.5" r="1.65"/><circle cx="176.5" cy="482.3" r="1.65"/><circle cx="176.6" cy="470.7" r="1.65"/><circle cx="176.9" cy="414.8" r="1.65"/><circle cx="177.1" cy="475.4" r="1.65"/><circle cx="177.8" cy="494.6" r="1.65"/><circle cx="178" cy="484.4" r="1.65"/><circle cx="178.3" cy="493.8" r="1.65"/><circle cx="178.4" cy="478.7" r="1.65"/><circle cx="178.7" cy="471.4" r="1.65"/><circle cx="178.9" cy="483.2" r="1.65"/><circle cx="179.6" cy="487.3" r="1.65"/><circle cx="179.9" cy="501.1" r="1.65"/><circle cx="180.5" cy="492" r="1.65"/><circle cx="180.8" cy="477.3" r="1.65"/><circle cx="181.6" cy="469.9" r="1.65"/><circle cx="181.8" cy="437.1" r="1.65"/><circle cx="181.9" cy="479.1" r="1.65"/><circle cx="182.1" cy="485.5" r="1.65"/><circle cx="182.4" cy="468.5" r="1.65"/><circle cx="182.7" cy="473.5" r="1.65"/><circle cx="183.1" cy="487.5" r="1.65"/><circle cx="184" cy="487.1" r="1.65"/><circle cx="184.2" cy="470.4" r="1.65"/><circle cx="184.3" cy="480" r="1.65"/><circle cx="184.6" cy="488.5" r="1.65"/><circle cx="184.8" cy="498.8" r="1.65"/><circle cx="185.2" cy="493.4" r="1.65"/><circle cx="187.1" cy="485.4" r="1.65"/><circle cx="187.4" cy="485.4" r="1.65"/><circle cx="187.7" cy="492.6" r="1.65"/><circle cx="187.8" cy="492.2" r="1.65"/><circle cx="188.3" cy="477.5" r="1.65"/><circle cx="188.4" cy="489.6" r="1.65"/><circle cx="188.6" cy="498.8" r="1.65"/><circle cx="188.7" cy="492.7" r="1.65"/><circle cx="189" cy="487.3" r="1.65"/><circle cx="189.2" cy="503.8" r="1.65"/><circle cx="189.3" cy="502.3" r="1.65"/><circle cx="189.9" cy="493.4" r="1.65"/><circle cx="190.5" cy="495.5" r="1.65"/><circle cx="191" cy="498.6" r="1.65"/><circle cx="191.2" cy="496.4" r="1.65"/><circle cx="191.3" cy="493.3" r="1.65"/><circle cx="191.6" cy="491.4" r="1.65"/><circle cx="193" cy="497.4" r="1.65"/><circle cx="194" cy="489.2" r="1.65"/><circle cx="194.2" cy="490.7" r="1.65"/><circle cx="194.3" cy="481.7" r="1.65"/><circle cx="194.5" cy="499.4" r="1.65"/><circle cx="194.8" cy="491.5" r="1.65"/><circle cx="195.1" cy="496.1" r="1.65"/><circle cx="195.4" cy="491.5" r="1.65"/><circle cx="195.7" cy="451.4" r="1.65"/><circle cx="196.2" cy="421.4" r="1.65"/><circle cx="197.1" cy="484.1" r="1.65"/><circle cx="197.2" cy="491.1" r="1.65"/><circle cx="198.1" cy="464.6" r="1.65"/><circle cx="198.6" cy="478.8" r="1.65"/><circle cx="198.7" cy="459.5" r="1.65"/><circle cx="199.3" cy="487.1" r="1.65"/><circle cx="199.5" cy="482.5" r="1.65"/><circle cx="199.8" cy="424.6" r="1.65"/><circle cx="200.4" cy="485.4" r="1.65"/><circle cx="200.6" cy="491.6" r="1.65"/><circle cx="200.9" cy="492.9" r="1.65"/><circle cx="201.2" cy="496.2" r="1.65"/><circle cx="201.6" cy="492.6" r="1.65"/><circle cx="201.9" cy="492.6" r="1.65"/><circle cx="202.1" cy="500.7" r="1.65"/><circle cx="202.2" cy="496.9" r="1.65"/><circle cx="202.5" cy="491.9" r="1.65"/><circle cx="202.7" cy="473.3" r="1.65"/><circle cx="203.4" cy="492.5" r="1.65"/><circle cx="204" cy="482.7" r="1.65"/><circle cx="204.2" cy="495.2" r="1.65"/><circle cx="204.5" cy="491.3" r="1.65"/><circle cx="204.6" cy="495.3" r="1.65"/><circle cx="205.3" cy="500.1" r="1.65"/><circle cx="205.4" cy="496.3" r="1.65"/><circle cx="205.7" cy="453" r="1.65"/><circle cx="206" cy="489.8" r="1.65"/><circle cx="207.2" cy="473" r="1.65"/><circle cx="207.7" cy="496.8" r="1.65"/><circle cx="208.4" cy="489.7" r="1.65"/><circle cx="208.6" cy="485.6" r="1.65"/><circle cx="209" cy="481.1" r="1.65"/><circle cx="209.3" cy="475" r="1.65"/><circle cx="210" cy="471.7" r="1.65"/><circle cx="210.3" cy="498.1" r="1.65"/><circle cx="210.4" cy="463.8" r="1.65"/><circle cx="210.9" cy="481.1" r="1.65"/><circle cx="211" cy="469.6" r="1.65"/><circle cx="211.3" cy="482.7" r="1.65"/><circle cx="211.6" cy="478.5" r="1.65"/><circle cx="211.9" cy="444.3" r="1.65"/><circle cx="212.4" cy="468.2" r="1.65"/><circle cx="212.5" cy="440.6" r="1.65"/><circle cx="212.7" cy="461.2" r="1.65"/><circle cx="213.9" cy="428.6" r="1.65"/><circle cx="214.2" cy="403.8" r="1.65"/><circle cx="215.4" cy="352.9" r="1.65"/><circle cx="215.7" cy="453.3" r="1.65"/><circle cx="216.2" cy="419.8" r="1.65"/><circle cx="217.1" cy="381.7" r="1.65"/><circle cx="217.8" cy="405.6" r="1.65"/><circle cx="218.4" cy="451.3" r="1.65"/><circle cx="218.6" cy="412.5" r="1.65"/><circle cx="218.7" cy="442.9" r="1.65"/><circle cx="219.5" cy="444.3" r="1.65"/><circle cx="220" cy="404.5" r="1.65"/><circle cx="220.1" cy="461.4" r="1.65"/><circle cx="220.6" cy="452.3" r="1.65"/><circle cx="221" cy="459" r="1.65"/><circle cx="222.1" cy="451" r="1.65"/><circle cx="222.2" cy="439.5" r="1.65"/><circle cx="222.4" cy="455.4" r="1.65"/><circle cx="223.3" cy="448.8" r="1.65"/><circle cx="223.7" cy="448.4" r="1.65"/><circle cx="223.9" cy="441.8" r="1.65"/><circle cx="224.4" cy="444.5" r="1.65"/><circle cx="224.8" cy="379.2" r="1.65"/><circle cx="225" cy="449.3" r="1.65"/><circle cx="225.3" cy="453.5" r="1.65"/><circle cx="225.7" cy="421" r="1.65"/><circle cx="226" cy="453.5" r="1.65"/><circle cx="227.7" cy="491" r="1.65"/><circle cx="227.8" cy="490.5" r="1.65"/><circle cx="228" cy="490.5" r="1.65"/><circle cx="228.6" cy="498.8" r="1.65"/><circle cx="229.7" cy="446.8" r="1.65"/><circle cx="229.8" cy="472.6" r="1.65"/><circle cx="230.4" cy="487" r="1.65"/><circle cx="230.7" cy="497.3" r="1.65"/><circle cx="230.9" cy="475.5" r="1.65"/><circle cx="231" cy="477.7" r="1.65"/><circle cx="231.8" cy="497.1" r="1.65"/><circle cx="232.1" cy="468" r="1.65"/><circle cx="234.1" cy="496.5" r="1.65"/><circle cx="234.4" cy="486.1" r="1.65"/><circle cx="234.5" cy="472.7" r="1.65"/><circle cx="235.1" cy="480.7" r="1.65"/><circle cx="235.6" cy="488.4" r="1.65"/><circle cx="236.6" cy="490.2" r="1.65"/><circle cx="236.9" cy="475.8" r="1.65"/><circle cx="237.1" cy="499.5" r="1.65"/><circle cx="237.4" cy="497" r="1.65"/><circle cx="237.5" cy="462.9" r="1.65"/><circle cx="237.8" cy="481.1" r="1.65"/><circle cx="238" cy="451.3" r="1.65"/><circle cx="238.1" cy="491.9" r="1.65"/><circle cx="238.3" cy="497.1" r="1.65"/><circle cx="238.6" cy="477.4" r="1.65"/><circle cx="240.6" cy="483.5" r="1.65"/><circle cx="241.6" cy="475.6" r="1.65"/><circle cx="241.9" cy="460.8" r="1.65"/><circle cx="244.1" cy="486.7" r="1.65"/><circle cx="244.5" cy="464.3" r="1.65"/><circle cx="245" cy="470.2" r="1.65"/><circle cx="245.1" cy="482" r="1.65"/><circle cx="245.6" cy="461.1" r="1.65"/><circle cx="245.7" cy="485" r="1.65"/><circle cx="245.9" cy="470.6" r="1.65"/><circle cx="246" cy="423.2" r="1.65"/><circle cx="246.6" cy="463.3" r="1.65"/><circle cx="246.8" cy="494.5" r="1.65"/><circle cx="247.1" cy="503.4" r="1.65"/><circle cx="248" cy="486.4" r="1.65"/><circle cx="248.6" cy="487.4" r="1.65"/><circle cx="249.7" cy="497.5" r="1.65"/><circle cx="250" cy="493.2" r="1.65"/><circle cx="250.3" cy="458.8" r="1.65"/><circle cx="250.4" cy="498.2" r="1.65"/><circle cx="250.9" cy="460.3" r="1.65"/><circle cx="251.2" cy="484.3" r="1.65"/><circle cx="251.3" cy="489.4" r="1.65"/><circle cx="251.5" cy="469.6" r="1.65"/><circle cx="251.6" cy="448.9" r="1.65"/><circle cx="251.8" cy="488.6" r="1.65"/><circle cx="252.1" cy="500.3" r="1.65"/><circle cx="252.9" cy="447.7" r="1.65"/><circle cx="254.5" cy="501.3" r="1.65"/><circle cx="255" cy="501.9" r="1.65"/><circle cx="255.4" cy="479.1" r="1.65"/><circle cx="255.6" cy="487" r="1.65"/><circle cx="256.2" cy="479.2" r="1.65"/><circle cx="256.5" cy="475.8" r="1.65"/><circle cx="256.8" cy="497" r="1.65"/><circle cx="257.2" cy="503.3" r="1.65"/><circle cx="257.4" cy="479.5" r="1.65"/><circle cx="257.6" cy="498.1" r="1.65"/><circle cx="258" cy="486.2" r="1.65"/><circle cx="258.2" cy="481.8" r="1.65"/><circle cx="258.3" cy="456.1" r="1.65"/><circle cx="258.5" cy="485.4" r="1.65"/><circle cx="258.9" cy="496.8" r="1.65"/><circle cx="259.7" cy="460.1" r="1.65"/><circle cx="259.8" cy="457.6" r="1.65"/><circle cx="260.1" cy="475" r="1.65"/><circle cx="260.4" cy="475.6" r="1.65"/><circle cx="260.7" cy="487.1" r="1.65"/><circle cx="260.9" cy="459.4" r="1.65"/><circle cx="261.2" cy="470.9" r="1.65"/><circle cx="261.8" cy="476.5" r="1.65"/><circle cx="261.9" cy="484.2" r="1.65"/><circle cx="263.2" cy="497.6" r="1.65"/><circle cx="263.3" cy="488.5" r="1.65"/><circle cx="263.8" cy="479.7" r="1.65"/><circle cx="263.9" cy="492.6" r="1.65"/><circle cx="264.1" cy="476" r="1.65"/><circle cx="264.4" cy="502.9" r="1.65"/><circle cx="264.7" cy="465.8" r="1.65"/><circle cx="265.3" cy="496.3" r="1.65"/><circle cx="266.5" cy="486.2" r="1.65"/><circle cx="267.7" cy="484.1" r="1.65"/><circle cx="268.5" cy="492.3" r="1.65"/><circle cx="268.8" cy="452.7" r="1.65"/><circle cx="269.2" cy="489.1" r="1.65"/><circle cx="269.8" cy="494.1" r="1.65"/><circle cx="270" cy="487.2" r="1.65"/><circle cx="270.3" cy="493.3" r="1.65"/><circle cx="270.4" cy="497.8" r="1.65"/><circle cx="270.6" cy="480.5" r="1.65"/><circle cx="270.9" cy="480" r="1.65"/><circle cx="271" cy="499.2" r="1.65"/><circle cx="272.1" cy="478.1" r="1.65"/><circle cx="272.9" cy="477.3" r="1.65"/><circle cx="273.3" cy="459.4" r="1.65"/><circle cx="273.5" cy="491.4" r="1.65"/><circle cx="273.6" cy="484.2" r="1.65"/><circle cx="273.9" cy="480" r="1.65"/><circle cx="274.1" cy="492.6" r="1.65"/><circle cx="274.2" cy="499" r="1.65"/><circle cx="274.4" cy="498.7" r="1.65"/><circle cx="274.7" cy="460.3" r="1.65"/><circle cx="275" cy="494.7" r="1.65"/><circle cx="275.3" cy="498.1" r="1.65"/><circle cx="276.2" cy="491.7" r="1.65"/><circle cx="276.3" cy="503" r="1.65"/><circle cx="276.7" cy="501.5" r="1.65"/><circle cx="277.1" cy="460.6" r="1.65"/><circle cx="277.7" cy="489.4" r="1.65"/><circle cx="278" cy="473.8" r="1.65"/><circle cx="278.3" cy="500.6" r="1.65"/><circle cx="280" cy="488.4" r="1.65"/><circle cx="280.3" cy="486.8" r="1.65"/><circle cx="280.6" cy="486.7" r="1.65"/><circle cx="280.9" cy="493.5" r="1.65"/><circle cx="281.2" cy="481.1" r="1.65"/><circle cx="281.7" cy="478" r="1.65"/><circle cx="282.1" cy="469.3" r="1.65"/><circle cx="282.3" cy="476.2" r="1.65"/><circle cx="282.9" cy="492.5" r="1.65"/><circle cx="283.2" cy="487.6" r="1.65"/><circle cx="283.5" cy="489.9" r="1.65"/><circle cx="283.8" cy="460.4" r="1.65"/><circle cx="283.9" cy="472.2" r="1.65"/><circle cx="284.1" cy="495" r="1.65"/><circle cx="284.2" cy="464.9" r="1.65"/><circle cx="284.8" cy="472.2" r="1.65"/><circle cx="285" cy="482.8" r="1.65"/><circle cx="285.3" cy="461.3" r="1.65"/><circle cx="285.9" cy="477.6" r="1.65"/><circle cx="286.5" cy="491.1" r="1.65"/><circle cx="287.1" cy="484.6" r="1.65"/><circle cx="287.6" cy="493.1" r="1.65"/><circle cx="287.7" cy="487.6" r="1.65"/><circle cx="288" cy="484.1" r="1.65"/><circle cx="288.2" cy="482.5" r="1.65"/><circle cx="288.5" cy="488.6" r="1.65"/><circle cx="288.8" cy="500.1" r="1.65"/><circle cx="289.2" cy="497.8" r="1.65"/><circle cx="289.4" cy="478.6" r="1.65"/><circle cx="289.5" cy="502.8" r="1.65"/><circle cx="289.7" cy="501.8" r="1.65"/><circle cx="289.8" cy="480.4" r="1.65"/><circle cx="290.1" cy="456.8" r="1.65"/><circle cx="290.4" cy="499.7" r="1.65"/><circle cx="290.6" cy="467.7" r="1.65"/><circle cx="290.9" cy="486.2" r="1.65"/><circle cx="291.4" cy="487.3" r="1.65"/><circle cx="291.8" cy="483" r="1.65"/><circle cx="292.3" cy="475" r="1.65"/><circle cx="292.7" cy="494.7" r="1.65"/><circle cx="292.9" cy="470.8" r="1.65"/><circle cx="293" cy="493.1" r="1.65"/><circle cx="293.3" cy="486.5" r="1.65"/><circle cx="293.5" cy="497.4" r="1.65"/><circle cx="294.4" cy="478.8" r="1.65"/><circle cx="294.5" cy="471.8" r="1.65"/><circle cx="295.1" cy="502.8" r="1.65"/><circle cx="295.3" cy="481" r="1.65"/><circle cx="295.4" cy="489.6" r="1.65"/><circle cx="295.8" cy="495.6" r="1.65"/><circle cx="296.1" cy="492.6" r="1.65"/><circle cx="296.2" cy="475.9" r="1.65"/><circle cx="296.4" cy="477.2" r="1.65"/><circle cx="296.7" cy="485.1" r="1.65"/><circle cx="297.4" cy="497" r="1.65"/><circle cx="297.7" cy="502" r="1.65"/><circle cx="297.9" cy="489" r="1.65"/><circle cx="298.3" cy="479.3" r="1.65"/><circle cx="298.9" cy="494.6" r="1.65"/><circle cx="299.1" cy="497.1" r="1.65"/><circle cx="299.5" cy="486.4" r="1.65"/><circle cx="299.7" cy="492.1" r="1.65"/><circle cx="299.8" cy="499.9" r="1.65"/><circle cx="300.6" cy="467.6" r="1.65"/><circle cx="300.9" cy="503.1" r="1.65"/><circle cx="301.5" cy="474.2" r="1.65"/><circle cx="301.8" cy="488.2" r="1.65"/><circle cx="302.4" cy="463.7" r="1.65"/><circle cx="302.7" cy="500.4" r="1.65"/><circle cx="302.9" cy="506.2" r="1.65"/><circle cx="303.2" cy="493.1" r="1.65"/><circle cx="303.5" cy="487.9" r="1.65"/><circle cx="303.6" cy="500.7" r="1.65"/><circle cx="304.5" cy="496" r="1.65"/><circle cx="304.8" cy="485" r="1.65"/><circle cx="305" cy="478.7" r="1.65"/><circle cx="305.6" cy="493.1" r="1.65"/><circle cx="306.2" cy="498.7" r="1.65"/><circle cx="306.4" cy="490.1" r="1.65"/><circle cx="307" cy="495.2" r="1.65"/><circle cx="307.6" cy="477.8" r="1.65"/><circle cx="307.7" cy="484.3" r="1.65"/><circle cx="308" cy="492" r="1.65"/><circle cx="308.2" cy="485.6" r="1.65"/><circle cx="308.5" cy="446.9" r="1.65"/><circle cx="309.2" cy="485.5" r="1.65"/><circle cx="309.4" cy="477" r="1.65"/><circle cx="309.5" cy="479.8" r="1.65"/><circle cx="309.7" cy="493.2" r="1.65"/><circle cx="309.8" cy="485.1" r="1.65"/><circle cx="310.2" cy="491.8" r="1.65"/><circle cx="310.3" cy="480.7" r="1.65"/><circle cx="310.5" cy="487.8" r="1.65"/><circle cx="310.6" cy="491" r="1.65"/><circle cx="311.2" cy="475.1" r="1.65"/><circle cx="311.5" cy="478.8" r="1.65"/><circle cx="312.3" cy="467.6" r="1.65"/><circle cx="312.7" cy="463.5" r="1.65"/><circle cx="312.9" cy="432.4" r="1.65"/><circle cx="313" cy="476.3" r="1.65"/><circle cx="313.3" cy="466.4" r="1.65"/><circle cx="313.5" cy="477.2" r="1.65"/><circle cx="313.6" cy="475.4" r="1.65"/><circle cx="314.2" cy="496.2" r="1.65"/><circle cx="314.4" cy="497.8" r="1.65"/><circle cx="314.5" cy="493" r="1.65"/><circle cx="315.5" cy="483.3" r="1.65"/><circle cx="316.8" cy="485.4" r="1.65"/><circle cx="318" cy="497.1" r="1.65"/><circle cx="318.3" cy="471.5" r="1.65"/><circle cx="318.6" cy="493.8" r="1.65"/><circle cx="319.1" cy="495.4" r="1.65"/><circle cx="319.2" cy="501.5" r="1.65"/><circle cx="319.4" cy="493.6" r="1.65"/><circle cx="320" cy="501.2" r="1.65"/><circle cx="320.2" cy="494" r="1.65"/><circle cx="320.3" cy="487.9" r="1.65"/><circle cx="321.2" cy="468.1" r="1.65"/><circle cx="321.4" cy="492.3" r="1.65"/><circle cx="321.5" cy="494.8" r="1.65"/><circle cx="322.4" cy="495.5" r="1.65"/><circle cx="322.9" cy="496.3" r="1.65"/><circle cx="323" cy="485.5" r="1.65"/><circle cx="323.2" cy="500.9" r="1.65"/><circle cx="323.6" cy="496.3" r="1.65"/><circle cx="324.1" cy="500.5" r="1.65"/><circle cx="325.5" cy="495.3" r="1.65"/><circle cx="327.1" cy="506.9" r="1.65"/><circle cx="327.7" cy="497.4" r="1.65"/><circle cx="328.2" cy="489.4" r="1.65"/><circle cx="328.9" cy="490.7" r="1.65"/><circle cx="329.7" cy="500.3" r="1.65"/><circle cx="330.5" cy="498.4" r="1.65"/><circle cx="330.8" cy="494.8" r="1.65"/><circle cx="331.2" cy="498.9" r="1.65"/><circle cx="331.5" cy="484" r="1.65"/><circle cx="331.7" cy="495.7" r="1.65"/><circle cx="332.1" cy="486.3" r="1.65"/><circle cx="332.3" cy="465.8" r="1.65"/><circle cx="332.4" cy="495.3" r="1.65"/><circle cx="332.7" cy="489.9" r="1.65"/><circle cx="333" cy="489.7" r="1.65"/><circle cx="333.3" cy="481.6" r="1.65"/><circle cx="333.5" cy="478.3" r="1.65"/><circle cx="333.8" cy="435.6" r="1.65"/><circle cx="334" cy="471.3" r="1.65"/><circle cx="334.4" cy="479.6" r="1.65"/><circle cx="334.7" cy="471.4" r="1.65"/><circle cx="334.9" cy="449.8" r="1.65"/><circle cx="335" cy="471" r="1.65"/><circle cx="335.3" cy="480.5" r="1.65"/><circle cx="335.6" cy="474.1" r="1.65"/><circle cx="336.5" cy="474.6" r="1.65"/><circle cx="337" cy="455" r="1.65"/><circle cx="337.1" cy="472.4" r="1.65"/><circle cx="337.9" cy="489.7" r="1.65"/><circle cx="338.2" cy="491.5" r="1.65"/><circle cx="338.8" cy="482.2" r="1.65"/><circle cx="339.1" cy="489.2" r="1.65"/><circle cx="339.9" cy="503.1" r="1.65"/><circle cx="340" cy="504.6" r="1.65"/><circle cx="340.3" cy="466.9" r="1.65"/><circle cx="340.6" cy="482.6" r="1.65"/><circle cx="340.9" cy="473.1" r="1.65"/><circle cx="342.6" cy="484.8" r="1.65"/><circle cx="343.2" cy="490" r="1.65"/><circle cx="343.5" cy="479.1" r="1.65"/><circle cx="344" cy="483.7" r="1.65"/><circle cx="344.6" cy="495.9" r="1.65"/><circle cx="344.9" cy="462.1" r="1.65"/><circle cx="345.2" cy="449.2" r="1.65"/><circle cx="345.5" cy="475.2" r="1.65"/><circle cx="345.6" cy="463.7" r="1.65"/><circle cx="346.2" cy="467.2" r="1.65"/><circle cx="346.7" cy="489.4" r="1.65"/><circle cx="347" cy="478.6" r="1.65"/><circle cx="347.7" cy="483.4" r="1.65"/><circle cx="347.9" cy="489.6" r="1.65"/><circle cx="348" cy="463.3" r="1.65"/><circle cx="348.4" cy="468.9" r="1.65"/><circle cx="349" cy="499.9" r="1.65"/><circle cx="349.3" cy="485.6" r="1.65"/><circle cx="349.6" cy="483.9" r="1.65"/><circle cx="349.7" cy="499.5" r="1.65"/><circle cx="349.9" cy="494.3" r="1.65"/><circle cx="350.2" cy="499.9" r="1.65"/><circle cx="350.3" cy="496" r="1.65"/><circle cx="350.6" cy="485.6" r="1.65"/><circle cx="350.8" cy="497.7" r="1.65"/><circle cx="352.9" cy="451.9" r="1.65"/><circle cx="353.2" cy="435.4" r="1.65"/><circle cx="353.4" cy="486.7" r="1.65"/><circle cx="353.5" cy="492.2" r="1.65"/><circle cx="353.8" cy="493.3" r="1.65"/><circle cx="354.1" cy="491.1" r="1.65"/><circle cx="354.3" cy="506.8" r="1.65"/><circle cx="354.4" cy="493.9" r="1.65"/><circle cx="354.9" cy="484.6" r="1.65"/><circle cx="355.2" cy="504.7" r="1.65"/><circle cx="355.8" cy="485.7" r="1.65"/><circle cx="355.9" cy="483.2" r="1.65"/><circle cx="356.7" cy="483.4" r="1.65"/><circle cx="357" cy="502" r="1.65"/><circle cx="357.1" cy="492.5" r="1.65"/><circle cx="357.4" cy="498.2" r="1.65"/><circle cx="358.1" cy="489.2" r="1.65"/><circle cx="358.4" cy="500.4" r="1.65"/><circle cx="358.7" cy="500.6" r="1.65"/><circle cx="359.3" cy="493.2" r="1.65"/><circle cx="359.4" cy="478.7" r="1.65"/><circle cx="359.6" cy="500.9" r="1.65"/><circle cx="359.7" cy="495.6" r="1.65"/><circle cx="361.1" cy="488.7" r="1.65"/><circle cx="362" cy="497.8" r="1.65"/><circle cx="362.8" cy="495" r="1.65"/><circle cx="362.9" cy="497.5" r="1.65"/><circle cx="363.1" cy="490.9" r="1.65"/><circle cx="363.2" cy="489.2" r="1.65"/><circle cx="363.4" cy="493.8" r="1.65"/><circle cx="363.5" cy="488.7" r="1.65"/><circle cx="363.7" cy="491.4" r="1.65"/><circle cx="364.3" cy="487.6" r="1.65"/><circle cx="364.4" cy="489.4" r="1.65"/><circle cx="364.6" cy="472.2" r="1.65"/><circle cx="364.7" cy="489.1" r="1.65"/><circle cx="365.2" cy="489.5" r="1.65"/><circle cx="365.6" cy="425.1" r="1.65"/><circle cx="365.8" cy="477.8" r="1.65"/><circle cx="366.2" cy="481.1" r="1.65"/><circle cx="366.4" cy="461.5" r="1.65"/><circle cx="366.8" cy="488.8" r="1.65"/><circle cx="367" cy="475.2" r="1.65"/><circle cx="367.5" cy="480.6" r="1.65"/><circle cx="367.6" cy="457.2" r="1.65"/><circle cx="367.8" cy="457.3" r="1.65"/><circle cx="368.5" cy="428.2" r="1.65"/><circle cx="369.3" cy="393.6" r="1.65"/><circle cx="369.7" cy="492.8" r="1.65"/><circle cx="370.5" cy="432.6" r="1.65"/><circle cx="370.9" cy="477.3" r="1.65"/><circle cx="371.5" cy="467.9" r="1.65"/><circle cx="372.3" cy="484.4" r="1.65"/><circle cx="372.5" cy="462.8" r="1.65"/><circle cx="372.6" cy="446.5" r="1.65"/><circle cx="373.1" cy="473.5" r="1.65"/><circle cx="373.7" cy="494.8" r="1.65"/><circle cx="374.1" cy="483.2" r="1.65"/><circle cx="374.3" cy="489.5" r="1.65"/><circle cx="374.7" cy="495.6" r="1.65"/><circle cx="374.9" cy="476.9" r="1.65"/><circle cx="375.2" cy="482.9" r="1.65"/><circle cx="375.8" cy="487" r="1.65"/><circle cx="376.1" cy="481" r="1.65"/><circle cx="376.8" cy="500.1" r="1.65"/><circle cx="377.3" cy="499.9" r="1.65"/><circle cx="377.5" cy="473.5" r="1.65"/><circle cx="377.6" cy="490" r="1.65"/><circle cx="377.9" cy="481.9" r="1.65"/><circle cx="378.2" cy="475" r="1.65"/><circle cx="378.4" cy="480.2" r="1.65"/><circle cx="378.8" cy="483.2" r="1.65"/><circle cx="379" cy="489.3" r="1.65"/><circle cx="379.1" cy="448.1" r="1.65"/><circle cx="379.3" cy="468.4" r="1.65"/><circle cx="380" cy="460.1" r="1.65"/><circle cx="381.7" cy="464.2" r="1.65"/><circle cx="382" cy="427.8" r="1.65"/><circle cx="382.8" cy="479.5" r="1.65"/><circle cx="382.9" cy="456.1" r="1.65"/><circle cx="383.8" cy="447.1" r="1.65"/><circle cx="384" cy="460.7" r="1.65"/><circle cx="384.3" cy="484.7" r="1.65"/><circle cx="384.4" cy="460.5" r="1.65"/><circle cx="384.9" cy="455.2" r="1.65"/><circle cx="385" cy="433.8" r="1.65"/><circle cx="385.3" cy="445.4" r="1.65"/><circle cx="386.1" cy="468.4" r="1.65"/><circle cx="386.7" cy="466.9" r="1.65"/><circle cx="387" cy="467.9" r="1.65"/><circle cx="388.1" cy="472.7" r="1.65"/><circle cx="388.5" cy="495" r="1.65"/><circle cx="389" cy="482.4" r="1.65"/><circle cx="389.9" cy="481.7" r="1.65"/><circle cx="390.2" cy="481.6" r="1.65"/><circle cx="390.3" cy="475.4" r="1.65"/><circle cx="390.5" cy="503.2" r="1.65"/><circle cx="390.9" cy="479.7" r="1.65"/><circle cx="391.4" cy="497.6" r="1.65"/><circle cx="392" cy="493.1" r="1.65"/><circle cx="392.5" cy="497.5" r="1.65"/><circle cx="393.1" cy="476.8" r="1.65"/><circle cx="394.1" cy="479.7" r="1.65"/><circle cx="394.9" cy="477" r="1.65"/><circle cx="395" cy="460" r="1.65"/><circle cx="395.6" cy="488.8" r="1.65"/><circle cx="395.9" cy="502.5" r="1.65"/><circle cx="396.1" cy="496.3" r="1.65"/><circle cx="396.4" cy="440.2" r="1.65"/><circle cx="397" cy="497.2" r="1.65"/><circle cx="397.6" cy="474.1" r="1.65"/><circle cx="398.4" cy="496.4" r="1.65"/><circle cx="398.5" cy="474.9" r="1.65"/><circle cx="398.7" cy="501.3" r="1.65"/><circle cx="398.8" cy="494.7" r="1.65"/><circle cx="399" cy="471.7" r="1.65"/><circle cx="399.1" cy="495" r="1.65"/><circle cx="399.3" cy="491.8" r="1.65"/><circle cx="399.4" cy="470.2" r="1.65"/><circle cx="399.6" cy="471.2" r="1.65"/><circle cx="399.9" cy="440.4" r="1.65"/><circle cx="400.3" cy="461.4" r="1.65"/><circle cx="401" cy="489.2" r="1.65"/><circle cx="401.1" cy="475" r="1.65"/><circle cx="401.3" cy="475.8" r="1.65"/><circle cx="401.4" cy="485.3" r="1.65"/><circle cx="401.6" cy="498.6" r="1.65"/><circle cx="401.9" cy="495.1" r="1.65"/><circle cx="402.2" cy="492.9" r="1.65"/><circle cx="402.3" cy="491.6" r="1.65"/><circle cx="402.8" cy="468.2" r="1.65"/><circle cx="402.9" cy="495.9" r="1.65"/><circle cx="403.1" cy="498.8" r="1.65"/><circle cx="403.2" cy="491.4" r="1.65"/><circle cx="403.5" cy="498" r="1.65"/><circle cx="403.8" cy="496.7" r="1.65"/><circle cx="404" cy="498.9" r="1.65"/><circle cx="404.1" cy="482.3" r="1.65"/><circle cx="404.3" cy="485.4" r="1.65"/><circle cx="404.6" cy="504" r="1.65"/><circle cx="404.7" cy="469" r="1.65"/><circle cx="405.7" cy="501.8" r="1.65"/><circle cx="406" cy="504.2" r="1.65"/><circle cx="406.1" cy="493.5" r="1.65"/><circle cx="406.3" cy="492.6" r="1.65"/><circle cx="407" cy="498.8" r="1.65"/><circle cx="407.2" cy="495.8" r="1.65"/><circle cx="407.3" cy="482.8" r="1.65"/><circle cx="407.6" cy="461.4" r="1.65"/><circle cx="407.8" cy="488.4" r="1.65"/><circle cx="408.1" cy="493.9" r="1.65"/><circle cx="408.2" cy="488.7" r="1.65"/><circle cx="408.4" cy="494.6" r="1.65"/><circle cx="408.5" cy="490.1" r="1.65"/><circle cx="409.4" cy="497.9" r="1.65"/><circle cx="409.9" cy="477.3" r="1.65"/><circle cx="411.4" cy="499.6" r="1.65"/><circle cx="411.6" cy="496.2" r="1.65"/><circle cx="412.3" cy="492.4" r="1.65"/><circle cx="412.8" cy="460.5" r="1.65"/><circle cx="412.9" cy="501" r="1.65"/><circle cx="413.2" cy="480.2" r="1.65"/><circle cx="413.4" cy="496.8" r="1.65"/><circle cx="413.5" cy="501.6" r="1.65"/><circle cx="414" cy="501.5" r="1.65"/><circle cx="414.4" cy="493.2" r="1.65"/><circle cx="415.2" cy="489.7" r="1.65"/><circle cx="415.4" cy="491.1" r="1.65"/><circle cx="415.7" cy="506.7" r="1.65"/><circle cx="415.8" cy="483.3" r="1.65"/><circle cx="416" cy="487.7" r="1.65"/><circle cx="416.7" cy="501.9" r="1.65"/><circle cx="416.9" cy="498.1" r="1.65"/><circle cx="417.5" cy="505.9" r="1.65"/><circle cx="418.2" cy="493.7" r="1.65"/><circle cx="418.5" cy="499.9" r="1.65"/><circle cx="418.7" cy="503.1" r="1.65"/><circle cx="418.8" cy="504.4" r="1.65"/><circle cx="419.1" cy="499.7" r="1.65"/><circle cx="420.5" cy="488.6" r="1.65"/><circle cx="420.7" cy="495.3" r="1.65"/><circle cx="421.3" cy="485.7" r="1.65"/><circle cx="421.9" cy="501.3" r="1.65"/><circle cx="422.5" cy="472.5" r="1.65"/><circle cx="422.8" cy="497.4" r="1.65"/><circle cx="422.9" cy="499.7" r="1.65"/><circle cx="423.8" cy="488.2" r="1.65"/><circle cx="424.3" cy="475.8" r="1.65"/><circle cx="424.8" cy="491.7" r="1.65"/><circle cx="425.2" cy="478.2" r="1.65"/><circle cx="425.4" cy="502.9" r="1.65"/><circle cx="425.5" cy="501" r="1.65"/><circle cx="425.8" cy="496.1" r="1.65"/><circle cx="426" cy="493.8" r="1.65"/><circle cx="426.3" cy="506.3" r="1.65"/><circle cx="426.4" cy="488.5" r="1.65"/><circle cx="426.6" cy="496" r="1.65"/><circle cx="426.7" cy="500.4" r="1.65"/><circle cx="427" cy="498.2" r="1.65"/><circle cx="427.3" cy="500" r="1.65"/><circle cx="427.6" cy="489.8" r="1.65"/><circle cx="427.9" cy="491.3" r="1.65"/><circle cx="428.4" cy="479.5" r="1.65"/><circle cx="428.7" cy="502" r="1.65"/><circle cx="429.1" cy="501.4" r="1.65"/><circle cx="429.5" cy="503.1" r="1.65"/><circle cx="429.9" cy="500.9" r="1.65"/><circle cx="430.1" cy="496.5" r="1.65"/><circle cx="430.5" cy="483.1" r="1.65"/><circle cx="430.7" cy="503.4" r="1.65"/><circle cx="430.8" cy="483.9" r="1.65"/><circle cx="431.3" cy="493.8" r="1.65"/><circle cx="431.7" cy="492.8" r="1.65"/><circle cx="432" cy="499.8" r="1.65"/><circle cx="432.3" cy="483" r="1.65"/><circle cx="432.5" cy="504.2" r="1.65"/><circle cx="433.4" cy="501.8" r="1.65"/><circle cx="433.5" cy="504" r="1.65"/><circle cx="433.7" cy="487.1" r="1.65"/><circle cx="434" cy="506.7" r="1.65"/><circle cx="434.5" cy="499.8" r="1.65"/><circle cx="434.9" cy="494.5" r="1.65"/><circle cx="435.2" cy="498" r="1.65"/><circle cx="435.5" cy="494" r="1.65"/><circle cx="436" cy="495.6" r="1.65"/><circle cx="436.1" cy="500.1" r="1.65"/><circle cx="436.3" cy="500.8" r="1.65"/><circle cx="437.3" cy="497.5" r="1.65"/><circle cx="437.8" cy="476.1" r="1.65"/><circle cx="437.9" cy="493.7" r="1.65"/><circle cx="438.7" cy="485.6" r="1.65"/><circle cx="438.8" cy="495.3" r="1.65"/><circle cx="439.3" cy="495.4" r="1.65"/><circle cx="439.6" cy="489.4" r="1.65"/><circle cx="439.8" cy="503.8" r="1.65"/><circle cx="440.1" cy="500.2" r="1.65"/><circle cx="440.2" cy="503.5" r="1.65"/><circle cx="440.5" cy="502.1" r="1.65"/><circle cx="441.3" cy="504.2" r="1.65"/><circle cx="441.6" cy="499.6" r="1.65"/><circle cx="441.7" cy="498.3" r="1.65"/><circle cx="442.2" cy="490.4" r="1.65"/><circle cx="442.5" cy="492.9" r="1.65"/><circle cx="443.1" cy="506.4" r="1.65"/><circle cx="443.2" cy="490.6" r="1.65"/><circle cx="443.4" cy="482.9" r="1.65"/><circle cx="443.9" cy="502.4" r="1.65"/><circle cx="444.2" cy="502.3" r="1.65"/><circle cx="444.3" cy="499.2" r="1.65"/><circle cx="444.9" cy="480.7" r="1.65"/><circle cx="445.2" cy="497.5" r="1.65"/><circle cx="445.5" cy="498.5" r="1.65"/><circle cx="446.4" cy="500.6" r="1.65"/><circle cx="446.6" cy="500.5" r="1.65"/><circle cx="446.7" cy="499.6" r="1.65"/><circle cx="447.3" cy="509.4" r="1.65"/><circle cx="447.8" cy="500.3" r="1.65"/><circle cx="447.9" cy="490.2" r="1.65"/><circle cx="450.2" cy="504.8" r="1.65"/><circle cx="450.8" cy="498.7" r="1.65"/><circle cx="451" cy="504.9" r="1.65"/><circle cx="451.1" cy="507.9" r="1.65"/><circle cx="451.3" cy="491.3" r="1.65"/><circle cx="451.4" cy="498.7" r="1.65"/><circle cx="452.6" cy="500.9" r="1.65"/><circle cx="452.8" cy="504.1" r="1.65"/><circle cx="453.6" cy="497.2" r="1.65"/><circle cx="453.7" cy="500.8" r="1.65"/><circle cx="454.2" cy="491.7" r="1.65"/><circle cx="454.3" cy="491.3" r="1.65"/><circle cx="454.5" cy="505.8" r="1.65"/><circle cx="454.6" cy="499.9" r="1.65"/><circle cx="454.8" cy="494.6" r="1.65"/><circle cx="455.4" cy="494.2" r="1.65"/><circle cx="455.5" cy="491.9" r="1.65"/><circle cx="455.7" cy="507.3" r="1.65"/><circle cx="455.8" cy="501.1" r="1.65"/><circle cx="456.3" cy="497.6" r="1.65"/><circle cx="456.9" cy="506.7" r="1.65"/><circle cx="457.2" cy="493.4" r="1.65"/><circle cx="457.5" cy="499.9" r="1.65"/><circle cx="458.1" cy="492.5" r="1.65"/><circle cx="458.6" cy="507.2" r="1.65"/><circle cx="458.9" cy="490" r="1.65"/><circle cx="459.6" cy="491" r="1.65"/><circle cx="459.8" cy="481.2" r="1.65"/><circle cx="460.7" cy="465.2" r="1.65"/><circle cx="461.1" cy="473.8" r="1.65"/><circle cx="461.6" cy="411.3" r="1.65"/><circle cx="461.9" cy="480.4" r="1.65"/><circle cx="462.3" cy="474.3" r="1.65"/><circle cx="462.6" cy="463.2" r="1.65"/><circle cx="462.8" cy="466.9" r="1.65"/><circle cx="463" cy="392.6" r="1.65"/><circle cx="463.4" cy="459.5" r="1.65"/><circle cx="464.3" cy="463.1" r="1.65"/><circle cx="464.8" cy="469.8" r="1.65"/><circle cx="465.1" cy="454.8" r="1.65"/><circle cx="465.2" cy="495" r="1.65"/><circle cx="465.4" cy="462.4" r="1.65"/><circle cx="466" cy="482.6" r="1.65"/><circle cx="466.3" cy="484.4" r="1.65"/><circle cx="466.7" cy="472.3" r="1.65"/><circle cx="467.2" cy="434" r="1.65"/><circle cx="467.3" cy="472.2" r="1.65"/><circle cx="468.1" cy="446.7" r="1.65"/><circle cx="468.3" cy="382.2" r="1.65"/><circle cx="468.4" cy="458.6" r="1.65"/><circle cx="468.6" cy="460.9" r="1.65"/><circle cx="468.7" cy="472.8" r="1.65"/><circle cx="469" cy="423.4" r="1.65"/><circle cx="470.2" cy="484.8" r="1.65"/><circle cx="471" cy="472.3" r="1.65"/><circle cx="471.6" cy="483.2" r="1.65"/><circle cx="472.2" cy="492.3" r="1.65"/><circle cx="472.5" cy="479.5" r="1.65"/><circle cx="473.1" cy="498.2" r="1.65"/><circle cx="473.3" cy="481.1" r="1.65"/><circle cx="473.4" cy="500.1" r="1.65"/><circle cx="473.6" cy="484.8" r="1.65"/><circle cx="473.7" cy="496.2" r="1.65"/><circle cx="474" cy="487.7" r="1.65"/><circle cx="474.8" cy="484.6" r="1.65"/><circle cx="475.4" cy="499.3" r="1.65"/><circle cx="475.5" cy="497.3" r="1.65"/><circle cx="475.7" cy="486.9" r="1.65"/><circle cx="476.7" cy="482" r="1.65"/><circle cx="478.4" cy="491.9" r="1.65"/><circle cx="479" cy="494.9" r="1.65"/><circle cx="479.6" cy="500.4" r="1.65"/><circle cx="480.1" cy="486.7" r="1.65"/><circle cx="480.4" cy="495.1" r="1.65"/><circle cx="480.5" cy="498" r="1.65"/><circle cx="481.1" cy="498" r="1.65"/><circle cx="481.3" cy="494" r="1.65"/><circle cx="481.4" cy="486.6" r="1.65"/><circle cx="481.6" cy="496.4" r="1.65"/><circle cx="482.1" cy="494.9" r="1.65"/><circle cx="482.2" cy="487.5" r="1.65"/><circle cx="482.5" cy="502.3" r="1.65"/><circle cx="482.7" cy="495.2" r="1.65"/><circle cx="482.8" cy="496.4" r="1.65"/><circle cx="483.1" cy="491.9" r="1.65"/><circle cx="483.3" cy="484" r="1.65"/><circle cx="483.4" cy="491.9" r="1.65"/><circle cx="483.7" cy="498.1" r="1.65"/><circle cx="483.9" cy="488.1" r="1.65"/><circle cx="484" cy="504.1" r="1.65"/><circle cx="484.2" cy="491.1" r="1.65"/><circle cx="484.3" cy="508.4" r="1.65"/><circle cx="485.1" cy="498.7" r="1.65"/><circle cx="485.4" cy="491.4" r="1.65"/><circle cx="485.8" cy="481.3" r="1.65"/><circle cx="486.3" cy="485.2" r="1.65"/><circle cx="486.4" cy="497.8" r="1.65"/><circle cx="486.9" cy="484.6" r="1.65"/><circle cx="487.2" cy="442" r="1.65"/><circle cx="488.6" cy="497.8" r="1.65"/><circle cx="488.7" cy="479.1" r="1.65"/><circle cx="489" cy="477.3" r="1.65"/><circle cx="489.5" cy="448.1" r="1.65"/><circle cx="489.6" cy="475.5" r="1.65"/><circle cx="489.8" cy="463.3" r="1.65"/><circle cx="490.5" cy="457.6" r="1.65"/><circle cx="490.8" cy="481.8" r="1.65"/><circle cx="491.1" cy="405.2" r="1.65"/><circle cx="491.3" cy="464.4" r="1.65"/><circle cx="491.6" cy="478.2" r="1.65"/><circle cx="492.4" cy="465.2" r="1.65"/><circle cx="492.7" cy="470.7" r="1.65"/><circle cx="492.8" cy="452.9" r="1.65"/><circle cx="493.6" cy="462" r="1.65"/><circle cx="493.7" cy="409.8" r="1.65"/><circle cx="494" cy="436.6" r="1.65"/><circle cx="494.5" cy="440.6" r="1.65"/><circle cx="495.7" cy="394.2" r="1.65"/><circle cx="495.8" cy="446.2" r="1.65"/><circle cx="496.3" cy="438.9" r="1.65"/><circle cx="496.5" cy="460.5" r="1.65"/><circle cx="496.6" cy="369.8" r="1.65"/><circle cx="497.1" cy="456.8" r="1.65"/><circle cx="497.2" cy="434.1" r="1.65"/><circle cx="497.4" cy="410.3" r="1.65"/><circle cx="497.7" cy="462.2" r="1.65"/><circle cx="497.8" cy="434.8" r="1.65"/><circle cx="498.6" cy="475.3" r="1.65"/><circle cx="499.3" cy="442.6" r="1.65"/><circle cx="499.5" cy="481.5" r="1.65"/><circle cx="499.6" cy="479.7" r="1.65"/><circle cx="499.8" cy="484.1" r="1.65"/><circle cx="500.4" cy="472.8" r="1.65"/><circle cx="500.7" cy="490.8" r="1.65"/><circle cx="501.5" cy="481.9" r="1.65"/><circle cx="502.1" cy="490.5" r="1.65"/><circle cx="502.7" cy="484.2" r="1.65"/><circle cx="502.8" cy="480.2" r="1.65"/><circle cx="503.4" cy="473.3" r="1.65"/><circle cx="503.9" cy="465.6" r="1.65"/><circle cx="504.5" cy="497.9" r="1.65"/><circle cx="504.6" cy="480.3" r="1.65"/><circle cx="504.9" cy="498.5" r="1.65"/><circle cx="505.4" cy="497.8" r="1.65"/><circle cx="505.7" cy="494.5" r="1.65"/><circle cx="506.2" cy="466" r="1.65"/><circle cx="506.6" cy="499.9" r="1.65"/><circle cx="506.9" cy="485.2" r="1.65"/><circle cx="507.1" cy="502.2" r="1.65"/><circle cx="507.5" cy="498.9" r="1.65"/><circle cx="508" cy="502.9" r="1.65"/><circle cx="508.3" cy="491.9" r="1.65"/><circle cx="508.6" cy="492.3" r="1.65"/><circle cx="508.7" cy="500" r="1.65"/><circle cx="508.9" cy="455.8" r="1.65"/><circle cx="509.2" cy="451.2" r="1.65"/><circle cx="509.3" cy="491.7" r="1.65"/><circle cx="509.5" cy="479.7" r="1.65"/><circle cx="510.2" cy="439.5" r="1.65"/><circle cx="510.4" cy="484.5" r="1.65"/><circle cx="511.2" cy="469.2" r="1.65"/><circle cx="511.3" cy="478" r="1.65"/><circle cx="511.8" cy="485.9" r="1.65"/><circle cx="511.9" cy="459.5" r="1.65"/><circle cx="512.7" cy="481.9" r="1.65"/><circle cx="513" cy="470.3" r="1.65"/><circle cx="513.6" cy="467.4" r="1.65"/><circle cx="513.7" cy="478.3" r="1.65"/><circle cx="514" cy="486.9" r="1.65"/><circle cx="514.3" cy="496.7" r="1.65"/><circle cx="514.5" cy="449.4" r="1.65"/><circle cx="514.6" cy="474.5" r="1.65"/><circle cx="514.8" cy="465.7" r="1.65"/><circle cx="514.9" cy="491.3" r="1.65"/><circle cx="515.2" cy="478.2" r="1.65"/><circle cx="515.9" cy="500.3" r="1.65"/><circle cx="516.3" cy="496.2" r="1.65"/><circle cx="516.5" cy="458.4" r="1.65"/><circle cx="516.6" cy="498.3" r="1.65"/><circle cx="516.8" cy="493.9" r="1.65"/><circle cx="517.1" cy="497.5" r="1.65"/><circle cx="517.7" cy="483.2" r="1.65"/><circle cx="517.8" cy="485.5" r="1.65"/><circle cx="518.6" cy="470" r="1.65"/><circle cx="518.7" cy="474.4" r="1.65"/><circle cx="519.2" cy="477.1" r="1.65"/><circle cx="519.5" cy="466.8" r="1.65"/><circle cx="520.6" cy="454.4" r="1.65"/><circle cx="520.9" cy="471.8" r="1.65"/><circle cx="521" cy="489.7" r="1.65"/><circle cx="521.8" cy="476.4" r="1.65"/><circle cx="521.9" cy="481.3" r="1.65"/><circle cx="523.1" cy="497.7" r="1.65"/><circle cx="523.4" cy="485.6" r="1.65"/><circle cx="523.6" cy="451.6" r="1.65"/><circle cx="524" cy="484" r="1.65"/><circle cx="525.1" cy="490" r="1.65"/><circle cx="525.4" cy="486.4" r="1.65"/><circle cx="525.6" cy="465" r="1.65"/><circle cx="525.7" cy="492.9" r="1.65"/><circle cx="525.9" cy="487.5" r="1.65"/><circle cx="526.2" cy="455.6" r="1.65"/><circle cx="526.3" cy="490" r="1.65"/><circle cx="527.1" cy="471.4" r="1.65"/><circle cx="527.2" cy="477.6" r="1.65"/><circle cx="527.5" cy="492" r="1.65"/><circle cx="527.7" cy="476.6" r="1.65"/><circle cx="528.4" cy="499.9" r="1.65"/><circle cx="529.3" cy="486.3" r="1.65"/><circle cx="529.6" cy="494.4" r="1.65"/><circle cx="529.8" cy="503.7" r="1.65"/><circle cx="530.4" cy="504.1" r="1.65"/><circle cx="530.9" cy="500.7" r="1.65"/><circle cx="531.2" cy="486.5" r="1.65"/><circle cx="532.1" cy="496.1" r="1.65"/><circle cx="533.1" cy="503.8" r="1.65"/><circle cx="533.3" cy="507.3" r="1.65"/><circle cx="533.7" cy="508" r="1.65"/><circle cx="533.9" cy="497.7" r="1.65"/><circle cx="534.2" cy="494.5" r="1.65"/><circle cx="534.3" cy="506" r="1.65"/><circle cx="534.5" cy="492.5" r="1.65"/><circle cx="535.3" cy="489.8" r="1.65"/><circle cx="535.4" cy="487.9" r="1.65"/><circle cx="536.2" cy="501.5" r="1.65"/><circle cx="536.3" cy="495.3" r="1.65"/><circle cx="536.5" cy="499.6" r="1.65"/><circle cx="537.4" cy="477.6" r="1.65"/><circle cx="537.5" cy="491.3" r="1.65"/><circle cx="539" cy="469.8" r="1.65"/><circle cx="539.2" cy="474" r="1.65"/><circle cx="540.3" cy="393.3" r="1.65"/><circle cx="541" cy="443.6" r="1.65"/><circle cx="541.3" cy="446.3" r="1.65"/><circle cx="541.5" cy="411.9" r="1.65"/><circle cx="542.1" cy="346.9" r="1.65"/><circle cx="542.2" cy="352.7" r="1.65"/><circle cx="543" cy="316.7" r="1.65"/><circle cx="543.3" cy="351.3" r="1.65"/><circle cx="543.4" cy="358.9" r="1.65"/><circle cx="543.6" cy="228.4" r="1.65"/><circle cx="543.7" cy="427.9" r="1.65"/><circle cx="543.9" cy="348.9" r="1.65"/><circle cx="544.2" cy="348.4" r="1.65"/><circle cx="544.5" cy="390.3" r="1.65"/><circle cx="545.1" cy="410.2" r="1.65"/><circle cx="545.3" cy="440.6" r="1.65"/><circle cx="545.6" cy="427" r="1.65"/><circle cx="545.7" cy="396.4" r="1.65"/><circle cx="546.6" cy="451.8" r="1.65"/><circle cx="546.9" cy="471" r="1.65"/><circle cx="547.4" cy="445.3" r="1.65"/><circle cx="549.1" cy="462.9" r="1.65"/><circle cx="550.9" cy="461.6" r="1.65"/><circle cx="551.8" cy="492.6" r="1.65"/><circle cx="552.4" cy="476.6" r="1.65"/><circle cx="552.7" cy="476.1" r="1.65"/><circle cx="552.8" cy="474" r="1.65"/><circle cx="553" cy="449.7" r="1.65"/><circle cx="553.1" cy="443.5" r="1.65"/><circle cx="553.3" cy="451.6" r="1.65"/><circle cx="554.1" cy="483.9" r="1.65"/><circle cx="554.2" cy="457.3" r="1.65"/><circle cx="554.5" cy="483.2" r="1.65"/><circle cx="554.7" cy="476" r="1.65"/><circle cx="555" cy="463.4" r="1.65"/><circle cx="555.6" cy="485.3" r="1.65"/><circle cx="556.2" cy="492.6" r="1.65"/><circle cx="556.5" cy="475.1" r="1.65"/><circle cx="556.8" cy="491.1" r="1.65"/><circle cx="557.2" cy="441.7" r="1.65"/><circle cx="557.4" cy="478.7" r="1.65"/><circle cx="557.5" cy="482.6" r="1.65"/><circle cx="558" cy="494.8" r="1.65"/><circle cx="558.1" cy="490.9" r="1.65"/><circle cx="558.5" cy="469.8" r="1.65"/><circle cx="559.4" cy="437.1" r="1.65"/><circle cx="559.5" cy="479.4" r="1.65"/><circle cx="560.1" cy="481.4" r="1.65"/><circle cx="561.2" cy="477" r="1.65"/><circle cx="561.3" cy="417.6" r="1.65"/><circle cx="561.5" cy="477.8" r="1.65"/><circle cx="561.6" cy="480.3" r="1.65"/><circle cx="562.2" cy="467.9" r="1.65"/><circle cx="562.4" cy="447.7" r="1.65"/><circle cx="562.7" cy="454" r="1.65"/><circle cx="563.5" cy="469.8" r="1.65"/><circle cx="563.6" cy="446.7" r="1.65"/><circle cx="564.2" cy="472.3" r="1.65"/><circle cx="564.4" cy="457.4" r="1.65"/><circle cx="564.8" cy="474.9" r="1.65"/><circle cx="565" cy="469.2" r="1.65"/><circle cx="565.1" cy="470.3" r="1.65"/><circle cx="565.4" cy="438" r="1.65"/><circle cx="565.6" cy="490.4" r="1.65"/><circle cx="566.2" cy="483.1" r="1.65"/><circle cx="566.5" cy="447.9" r="1.65"/><circle cx="566.8" cy="475.5" r="1.65"/><circle cx="567.2" cy="484.7" r="1.65"/><circle cx="567.4" cy="479.5" r="1.65"/><circle cx="567.5" cy="461.5" r="1.65"/><circle cx="567.7" cy="481.2" r="1.65"/><circle cx="567.8" cy="486.2" r="1.65"/><circle cx="568" cy="497.2" r="1.65"/><circle cx="568.5" cy="489.8" r="1.65"/><circle cx="568.6" cy="487.8" r="1.65"/><circle cx="568.8" cy="443" r="1.65"/><circle cx="569.2" cy="425.1" r="1.65"/><circle cx="569.5" cy="477.5" r="1.65"/><circle cx="569.7" cy="497" r="1.65"/><circle cx="570" cy="494.5" r="1.65"/><circle cx="570.1" cy="489.8" r="1.65"/><circle cx="570.3" cy="487.4" r="1.65"/><circle cx="570.6" cy="496.2" r="1.65"/><circle cx="570.9" cy="499.6" r="1.65"/><circle cx="571" cy="494.3" r="1.65"/><circle cx="571.2" cy="495.2" r="1.65"/><circle cx="571.8" cy="471.7" r="1.65"/><circle cx="573.2" cy="460.2" r="1.65"/><circle cx="573.3" cy="484.4" r="1.65"/><circle cx="573.5" cy="477.2" r="1.65"/><circle cx="573.8" cy="483.4" r="1.65"/><circle cx="573.9" cy="478.4" r="1.65"/><circle cx="574.1" cy="450.3" r="1.65"/><circle cx="574.2" cy="451.8" r="1.65"/><circle cx="574.8" cy="464.4" r="1.65"/><circle cx="575.1" cy="457.6" r="1.65"/><circle cx="575.3" cy="484.2" r="1.65"/><circle cx="575.4" cy="399.6" r="1.65"/><circle cx="575.6" cy="402" r="1.65"/><circle cx="575.7" cy="466.9" r="1.65"/><circle cx="575.9" cy="413.9" r="1.65"/><circle cx="576" cy="393.3" r="1.65"/><circle cx="576.2" cy="456.2" r="1.65"/><circle cx="576.6" cy="387.9" r="1.65"/><circle cx="576.8" cy="455.2" r="1.65"/><circle cx="576.9" cy="441" r="1.65"/><circle cx="577.1" cy="423" r="1.65"/><circle cx="577.6" cy="418.9" r="1.65"/><circle cx="577.7" cy="462.6" r="1.65"/><circle cx="577.9" cy="394.2" r="1.65"/><circle cx="578.2" cy="434.8" r="1.65"/><circle cx="578.3" cy="456" r="1.65"/><circle cx="578.5" cy="416.1" r="1.65"/><circle cx="578.8" cy="383.7" r="1.65"/><circle cx="579.5" cy="405.4" r="1.65"/><circle cx="580" cy="467.7" r="1.65"/><circle cx="581" cy="419.4" r="1.65"/><circle cx="581.3" cy="467.6" r="1.65"/><circle cx="582.3" cy="461.8" r="1.65"/><circle cx="583.6" cy="479" r="1.65"/><circle cx="583.8" cy="495.3" r="1.65"/><circle cx="583.9" cy="500" r="1.65"/><circle cx="584.2" cy="442" r="1.65"/><circle cx="584.4" cy="500.1" r="1.65"/><circle cx="584.8" cy="484.5" r="1.65"/><circle cx="585" cy="474" r="1.65"/><circle cx="585.1" cy="491.4" r="1.65"/><circle cx="585.3" cy="481.7" r="1.65"/><circle cx="585.7" cy="502.1" r="1.65"/><circle cx="585.9" cy="483.8" r="1.65"/><circle cx="586.2" cy="493.4" r="1.65"/><circle cx="586.6" cy="449.9" r="1.65"/><circle cx="587.1" cy="443.1" r="1.65"/><circle cx="587.7" cy="480.9" r="1.65"/><circle cx="588" cy="497.4" r="1.65"/><circle cx="588.2" cy="473.7" r="1.65"/><circle cx="588.3" cy="465.3" r="1.65"/><circle cx="588.5" cy="493.2" r="1.65"/><circle cx="588.6" cy="487.9" r="1.65"/><circle cx="588.9" cy="494.4" r="1.65"/><circle cx="589.7" cy="494.3" r="1.65"/><circle cx="590" cy="495.5" r="1.65"/><circle cx="590.4" cy="497.4" r="1.65"/><circle cx="590.7" cy="497.4" r="1.65"/><circle cx="590.9" cy="486.2" r="1.65"/><circle cx="591.5" cy="499.7" r="1.65"/><circle cx="592" cy="487" r="1.65"/><circle cx="592.1" cy="485" r="1.65"/><circle cx="592.4" cy="483.6" r="1.65"/><circle cx="592.6" cy="490" r="1.65"/><circle cx="592.9" cy="484.9" r="1.65"/><circle cx="593.8" cy="474.4" r="1.65"/><circle cx="594.1" cy="497.7" r="1.65"/><circle cx="594.7" cy="463.4" r="1.65"/><circle cx="594.8" cy="498.3" r="1.65"/><circle cx="595" cy="453.6" r="1.65"/><circle cx="595.7" cy="495" r="1.65"/><circle cx="595.9" cy="498.7" r="1.65"/><circle cx="596" cy="502.2" r="1.65"/><circle cx="597.4" cy="498.3" r="1.65"/><circle cx="597.7" cy="498" r="1.65"/><circle cx="598.3" cy="489.6" r="1.65"/><circle cx="598.5" cy="488.7" r="1.65"/><circle cx="598.8" cy="475.3" r="1.65"/><circle cx="599.1" cy="490.6" r="1.65"/><circle cx="599.2" cy="484.9" r="1.65"/><circle cx="599.4" cy="477" r="1.65"/><circle cx="599.8" cy="492.9" r="1.65"/><circle cx="600" cy="474.9" r="1.65"/><circle cx="600.1" cy="491.2" r="1.65"/><circle cx="600.7" cy="478.4" r="1.65"/><circle cx="601.4" cy="484.5" r="1.65"/><circle cx="602.3" cy="479.5" r="1.65"/><circle cx="602.4" cy="468" r="1.65"/><circle cx="603.2" cy="484.8" r="1.65"/><circle cx="603.5" cy="499.4" r="1.65"/><circle cx="603.9" cy="451.6" r="1.65"/><circle cx="604.5" cy="490.5" r="1.65"/><circle cx="604.7" cy="501.1" r="1.65"/><circle cx="604.8" cy="495.1" r="1.65"/><circle cx="605.9" cy="484.2" r="1.65"/><circle cx="606.5" cy="498.7" r="1.65"/><circle cx="606.7" cy="486.2" r="1.65"/><circle cx="606.8" cy="479.4" r="1.65"/><circle cx="607.1" cy="470" r="1.65"/><circle cx="607.4" cy="447.9" r="1.65"/><circle cx="607.6" cy="473.3" r="1.65"/><circle cx="608.3" cy="486.4" r="1.65"/><circle cx="608.5" cy="470" r="1.65"/><circle cx="608.9" cy="460.6" r="1.65"/><circle cx="609.5" cy="479" r="1.65"/><circle cx="609.7" cy="472.5" r="1.65"/><circle cx="609.8" cy="490.7" r="1.65"/><circle cx="610.7" cy="476.9" r="1.65"/><circle cx="610.9" cy="470.2" r="1.65"/><circle cx="611.1" cy="464" r="1.65"/><circle cx="611.4" cy="492.3" r="1.65"/><circle cx="611.5" cy="462.4" r="1.65"/><circle cx="611.7" cy="464.2" r="1.65"/><circle cx="611.8" cy="440.8" r="1.65"/><circle cx="612.4" cy="466" r="1.65"/><circle cx="612.7" cy="391.8" r="1.65"/><circle cx="613.2" cy="431.2" r="1.65"/><circle cx="613.3" cy="389" r="1.65"/><circle cx="613.5" cy="390.3" r="1.65"/><circle cx="613.6" cy="367.1" r="1.65"/><circle cx="613.8" cy="395.8" r="1.65"/><circle cx="614.1" cy="461.8" r="1.65"/><circle cx="614.4" cy="449.7" r="1.65"/><circle cx="614.5" cy="394.5" r="1.65"/><circle cx="615.8" cy="441.4" r="1.65"/><circle cx="615.9" cy="437.4" r="1.65"/><circle cx="616.1" cy="461.4" r="1.65"/><circle cx="616.7" cy="360.2" r="1.65"/><circle cx="618.2" cy="389" r="1.65"/><circle cx="618.3" cy="451.9" r="1.65"/><circle cx="618.5" cy="367.5" r="1.65"/><circle cx="619.1" cy="399.6" r="1.65"/><circle cx="619.4" cy="483" r="1.65"/><circle cx="619.5" cy="488.2" r="1.65"/><circle cx="620.1" cy="472" r="1.65"/><circle cx="620.3" cy="445.8" r="1.65"/><circle cx="621.2" cy="485.3" r="1.65"/><circle cx="622" cy="453.9" r="1.65"/><circle cx="622.1" cy="404.4" r="1.65"/><circle cx="622.9" cy="424.4" r="1.65"/><circle cx="623" cy="438.9" r="1.65"/><circle cx="623.2" cy="440.3" r="1.65"/><circle cx="623.5" cy="463.4" r="1.65"/><circle cx="623.8" cy="466.2" r="1.65"/><circle cx="624.1" cy="444.8" r="1.65"/><circle cx="624.2" cy="349.2" r="1.65"/><circle cx="624.4" cy="429.8" r="1.65"/><circle cx="624.7" cy="462.1" r="1.65"/><circle cx="625.1" cy="359.4" r="1.65"/><circle cx="625.8" cy="433.3" r="1.65"/><circle cx="626.2" cy="459.3" r="1.65"/><circle cx="626.5" cy="397" r="1.65"/><circle cx="627" cy="470.1" r="1.65"/><circle cx="627.1" cy="402.1" r="1.65"/><circle cx="627.3" cy="477.1" r="1.65"/><circle cx="627.4" cy="436.1" r="1.65"/><circle cx="627.6" cy="464.2" r="1.65"/><circle cx="627.7" cy="470.1" r="1.65"/><circle cx="627.9" cy="404.1" r="1.65"/><circle cx="628.8" cy="479.4" r="1.65"/><circle cx="628.9" cy="457.3" r="1.65"/><circle cx="629.1" cy="436.5" r="1.65"/><circle cx="629.8" cy="459.3" r="1.65"/><circle cx="630.3" cy="396.4" r="1.65"/><circle cx="630.6" cy="485.3" r="1.65"/><circle cx="631.5" cy="420.4" r="1.65"/><circle cx="631.7" cy="448.6" r="1.65"/><circle cx="632.6" cy="424" r="1.65"/><circle cx="633.9" cy="467.5" r="1.65"/><circle cx="634.1" cy="484" r="1.65"/><circle cx="634.2" cy="476.6" r="1.65"/><circle cx="634.5" cy="484.2" r="1.65"/><circle cx="635" cy="442.4" r="1.65"/><circle cx="635.3" cy="482.5" r="1.65"/><circle cx="635.6" cy="476.7" r="1.65"/><circle cx="635.8" cy="499.2" r="1.65"/><circle cx="636.1" cy="443.1" r="1.65"/><circle cx="636.7" cy="457.9" r="1.65"/><circle cx="636.8" cy="448.9" r="1.65"/><circle cx="637.1" cy="480.1" r="1.65"/><circle cx="637.3" cy="464.1" r="1.65"/><circle cx="637.6" cy="454.7" r="1.65"/><circle cx="637.7" cy="453.1" r="1.65"/><circle cx="638.5" cy="445.5" r="1.65"/><circle cx="638.6" cy="476.6" r="1.65"/><circle cx="638.8" cy="451.7" r="1.65"/><circle cx="639.1" cy="474.4" r="1.65"/><circle cx="639.2" cy="448.4" r="1.65"/><circle cx="639.4" cy="463.5" r="1.65"/><circle cx="639.7" cy="466.8" r="1.65"/><circle cx="640.2" cy="445" r="1.65"/><circle cx="640.3" cy="419.9" r="1.65"/><circle cx="640.6" cy="460.9" r="1.65"/><circle cx="641.5" cy="372.4" r="1.65"/><circle cx="641.8" cy="422.2" r="1.65"/><circle cx="642.3" cy="467.7" r="1.65"/><circle cx="642.6" cy="365.7" r="1.65"/><circle cx="642.9" cy="456.1" r="1.65"/><circle cx="643" cy="470.2" r="1.65"/><circle cx="643.3" cy="432.5" r="1.65"/><circle cx="644.1" cy="448.6" r="1.65"/><circle cx="644.9" cy="482.5" r="1.65"/><circle cx="645.3" cy="463.3" r="1.65"/><circle cx="645.9" cy="477.1" r="1.65"/><circle cx="646.2" cy="466.5" r="1.65"/><circle cx="647.3" cy="479.5" r="1.65"/><circle cx="647.6" cy="470.6" r="1.65"/><circle cx="647.9" cy="461.6" r="1.65"/><circle cx="648" cy="472.8" r="1.65"/><circle cx="648.3" cy="441.7" r="1.65"/><circle cx="648.9" cy="450.7" r="1.65"/><circle cx="649.3" cy="417" r="1.65"/><circle cx="649.6" cy="468" r="1.65"/><circle cx="649.9" cy="471.1" r="1.65"/><circle cx="650.9" cy="451" r="1.65"/><circle cx="651.1" cy="485.9" r="1.65"/><circle cx="651.4" cy="421.4" r="1.65"/><circle cx="651.8" cy="470.6" r="1.65"/><circle cx="652.6" cy="490.7" r="1.65"/><circle cx="653.6" cy="463.5" r="1.65"/><circle cx="653.8" cy="476.2" r="1.65"/><circle cx="654" cy="463.7" r="1.65"/><circle cx="654.3" cy="470.6" r="1.65"/><circle cx="654.4" cy="428.6" r="1.65"/><circle cx="655.2" cy="458.4" r="1.65"/><circle cx="655.8" cy="485.1" r="1.65"/><circle cx="656.8" cy="427.9" r="1.65"/><circle cx="657.1" cy="491.4" r="1.65"/><circle cx="657.4" cy="476.9" r="1.65"/><circle cx="657.6" cy="454.3" r="1.65"/><circle cx="657.9" cy="463" r="1.65"/><circle cx="658.7" cy="491.1" r="1.65"/><circle cx="659.7" cy="464.8" r="1.65"/><circle cx="660.2" cy="493" r="1.65"/><circle cx="660.3" cy="466.3" r="1.65"/><circle cx="660.5" cy="484" r="1.65"/><circle cx="660.9" cy="451" r="1.65"/><circle cx="661.1" cy="498" r="1.65"/><circle cx="661.2" cy="499.3" r="1.65"/><circle cx="661.5" cy="496.1" r="1.65"/><circle cx="662.6" cy="495.9" r="1.65"/><circle cx="662.9" cy="469.6" r="1.65"/><circle cx="663" cy="490.7" r="1.65"/><circle cx="663.3" cy="500.5" r="1.65"/><circle cx="664" cy="496.3" r="1.65"/><circle cx="664.1" cy="487.5" r="1.65"/><circle cx="664.3" cy="484.7" r="1.65"/><circle cx="665" cy="503.1" r="1.65"/><circle cx="665.8" cy="494.2" r="1.65"/><circle cx="666.7" cy="480" r="1.65"/><circle cx="667" cy="446.8" r="1.65"/><circle cx="667.9" cy="465" r="1.65"/><circle cx="668.2" cy="502.3" r="1.65"/><circle cx="668.5" cy="490" r="1.65"/><circle cx="669.3" cy="499.8" r="1.65"/><circle cx="669.4" cy="496.1" r="1.65"/><circle cx="669.9" cy="504.3" r="1.65"/><circle cx="670" cy="498.2" r="1.65"/><circle cx="670.3" cy="454.8" r="1.65"/><circle cx="670.8" cy="488.6" r="1.65"/><circle cx="670.9" cy="493" r="1.65"/><circle cx="671.4" cy="494.5" r="1.65"/><circle cx="671.5" cy="461.3" r="1.65"/><circle cx="672.7" cy="477.5" r="1.65"/><circle cx="673.1" cy="471.6" r="1.65"/><circle cx="673.4" cy="485.3" r="1.65"/><circle cx="673.7" cy="480.8" r="1.65"/><circle cx="673.8" cy="489.9" r="1.65"/><circle cx="674" cy="498.1" r="1.65"/><circle cx="674.1" cy="470.2" r="1.65"/><circle cx="674.3" cy="489.3" r="1.65"/><circle cx="674.9" cy="481.9" r="1.65"/><circle cx="675.2" cy="492.3" r="1.65"/><circle cx="675.5" cy="493" r="1.65"/><circle cx="676.1" cy="496.2" r="1.65"/><circle cx="676.2" cy="483.8" r="1.65"/><circle cx="677" cy="485.2" r="1.65"/><circle cx="677.1" cy="490.2" r="1.65"/><circle cx="677.3" cy="474.6" r="1.65"/><circle cx="677.4" cy="489.3" r="1.65"/><circle cx="677.6" cy="494.9" r="1.65"/><circle cx="677.8" cy="482.1" r="1.65"/><circle cx="678.2" cy="489.6" r="1.65"/><circle cx="678.5" cy="489.5" r="1.65"/><circle cx="679.7" cy="473.3" r="1.65"/><circle cx="680" cy="476" r="1.65"/><circle cx="680.2" cy="498.4" r="1.65"/><circle cx="680.3" cy="487" r="1.65"/><circle cx="680.8" cy="497.4" r="1.65"/><circle cx="681.2" cy="482.4" r="1.65"/><circle cx="681.4" cy="499.1" r="1.65"/><circle cx="681.5" cy="503.3" r="1.65"/><circle cx="681.7" cy="488.6" r="1.65"/><circle cx="682.6" cy="484.8" r="1.65"/><circle cx="682.9" cy="495.5" r="1.65"/><circle cx="683.8" cy="503.8" r="1.65"/><circle cx="684.1" cy="491" r="1.65"/><circle cx="684.3" cy="494.1" r="1.65"/><circle cx="684.6" cy="487.8" r="1.65"/><circle cx="685.3" cy="490.4" r="1.65"/><circle cx="685.5" cy="501.7" r="1.65"/><circle cx="685.8" cy="486.3" r="1.65"/><circle cx="686.2" cy="487.1" r="1.65"/><circle cx="686.4" cy="492" r="1.65"/><circle cx="686.5" cy="474.9" r="1.65"/><circle cx="688.4" cy="497.7" r="1.65"/><circle cx="688.7" cy="464.6" r="1.65"/><circle cx="688.8" cy="483.7" r="1.65"/><circle cx="689" cy="483.5" r="1.65"/><circle cx="689.3" cy="491.2" r="1.65"/><circle cx="689.6" cy="490.7" r="1.65"/><circle cx="689.9" cy="493.5" r="1.65"/><circle cx="690" cy="482.3" r="1.65"/><circle cx="690.3" cy="485.4" r="1.65"/><circle cx="691.7" cy="498.8" r="1.65"/><circle cx="692" cy="502.1" r="1.65"/><circle cx="692.3" cy="497.5" r="1.65"/><circle cx="692.5" cy="501.4" r="1.65"/><circle cx="692.6" cy="480.6" r="1.65"/><circle cx="692.8" cy="494.7" r="1.65"/><circle cx="692.9" cy="486.5" r="1.65"/><circle cx="693.1" cy="495" r="1.65"/><circle cx="694" cy="494.2" r="1.65"/><circle cx="694.3" cy="499.8" r="1.65"/><circle cx="694.9" cy="493.2" r="1.65"/><circle cx="695" cy="495.4" r="1.65"/><circle cx="695.3" cy="494.1" r="1.65"/><circle cx="695.6" cy="485.5" r="1.65"/><circle cx="695.9" cy="499.1" r="1.65"/><circle cx="696.5" cy="486.4" r="1.65"/><circle cx="697.2" cy="489.4" r="1.65"/><circle cx="697.3" cy="484.4" r="1.65"/><circle cx="697.8" cy="498.1" r="1.65"/><circle cx="698.1" cy="488.4" r="1.65"/><circle cx="104" cy="101.6" r="1.65"/><circle cx="104" cy="196.8" r="1.65"/><circle cx="104" cy="238.8" r="1.65"/><circle cx="102" cy="269.2" r="1.65"/><circle cx="120.7" cy="325" r="1.65"/><circle cx="42.5" cy="360.7" r="1.65"/><circle cx="124.4" cy="360.7" r="1.65"/><circle cx="119.9" cy="362" r="1.65"/><circle cx="118.8" cy="366.8" r="1.65"/><circle cx="164.3" cy="172" r="1.65"/><circle cx="212.5" cy="260.8" r="1.65"/><circle cx="213.5" cy="329.5" r="1.65"/><circle cx="212.9" cy="343" r="1.65"/><circle cx="224.1" cy="364.4" r="1.65"/><circle cx="366.7" cy="326.7" r="1.65"/><circle cx="541.2" cy="240.8" r="1.65"/><circle cx="541.5" cy="242.9" r="1.65"/><circle cx="541.5" cy="269.3" r="1.65"/><circle cx="541.5" cy="287.5" r="1.65"/><circle cx="576.9" cy="298.4" r="1.65"/><circle cx="576.1" cy="311.2" r="1.65"/><circle cx="616.7" cy="291.5" r="1.65"/><circle cx="562.8" cy="344" r="1.65"/><circle cx="612.1" cy="349.9" r="1.65"/><circle cx="615.3" cy="358.1" r="1.65"/><circle cx="622.5" cy="371.5" r="1.65"/><circle cx="622.5" cy="378.1" r="1.65"/><circle cx="634.5" cy="386.7" r="1.65"/><circle cx="368.1" cy="388.8" r="1.65"/><circle cx="381.5" cy="409.3" r="1.65"/><circle cx="398.8" cy="389.3" r="1.65"/><circle cx="460.7" cy="344.8" r="1.65"/><circle cx="460.7" cy="369.9" r="1.65"/><circle cx="466" cy="396.5" r="1.65"/><circle cx="466" cy="406.7" r="1.65"/><circle cx="494.5" cy="378.7" r="1.65"/><circle cx="486.5" cy="402.7" r="1.65"/><circle cx="492.1" cy="397.9" r="1.65"/><circle cx="508.7" cy="351.5" r="1.65"/><circle cx="519.3" cy="399.2" r="1.65"/></g>
<path d="M40 489.1L40.4 490.4L40.8 491.2L41.2 491.7L41.6 492L42 492.1L42.4 492.1L42.8 490.5L43.2 486.7L43.6 482.1L44 478.1L44.4 474.7L44.8 471.1L45.2 468.3L45.6 467.1L46 468.6L46.4 472.3L46.8 476.4L47.2 479.5L47.6 482.7L48 485.5L48.4 487.1L48.8 487.6L49.2 488.1L49.6 488.5L50 488.8L50.4 489L50.8 489.1L51.2 489.1L51.6 488.8L52 488.2L52.4 487.3L52.8 486.4L53.2 485.3L53.6 484.2L54 483.2L54.4 481.9L54.8 480.2L55.2 478.3L55.6 476.5L56 475.1L56.4 474.2L56.8 474.2L57.2 474.8L57.6 475.7L58 476.1L58.4 473.7L58.8 467.5L59.2 459.9L59.6 453L60 444.3L60.4 437.4L60.8 436.4L61.2 439.8L61.6 444.9L62 449.8L62.4 453.7L62.8 457.6L63.2 461.2L63.6 464.3L64 467L64.4 469.4L64.8 471.7L65.2 473.9L65.6 475.9L66 478.1L66.4 480.5L66.8 482.5L67.2 483.9L67.6 483.8L68 480.5L68.4 474.9L68.8 468.5L69.2 462.7L69.6 458.6L70 454.8L70.4 451.2L70.8 448.2L71.2 446.4L71.6 446.2L72 448.1L72.4 451.2L72.8 454.4L73.2 457L73.6 459.6L74 462.2L74.4 464.4L74.8 465.8L75.2 465.9L75.6 463.6L76 459.5L76.4 454.4L76.8 449.1L77.2 444.2L77.6 437.6L78 430.9L78.4 426.1L78.8 425.2L79.2 427.7L79.6 431.6L80 435.6L80.4 439.5L80.8 444.1L81.2 448L81.6 450L82 447.7L82.4 441.2L82.8 434L83.2 430.1L83.6 431.1L84 434.3L84.4 438.8L84.8 443.4L85.2 447.3L85.6 451.3L86 455.4L86.4 459.3L86.8 462.5L87.2 464.7L87.6 466.7L88 468.6L88.4 470.3L88.8 471.8L89.2 473L89.6 473.7L90 474.1L90.4 473.8L90.8 473L91.2 471.6L91.6 469.8L92 467.8L92.4 465.6L92.8 463.5L93.2 461.4L93.6 458.8L94 455.6L94.4 452.2L94.8 448.9L95.2 446.1L95.6 444L96 443.1L96.4 443.7L96.8 445.7L97.2 448.6L97.6 451.5L98 453.7L98.4 455.2L98.8 456.6L99.2 457.9L99.6 458.9L100 459.7L100.4 460.1L100.8 457.6L101.2 450L101.6 441.7L102 431.9L102.4 424.2L102.8 417.1L103.2 405.5L103.6 380.8L104 360.5L104.4 344L104.8 322.9L105.2 299.6L105.6 276.1L106 253.6L106.4 248.2L106.8 262.5L107.2 277.9L107.6 293.5L108 307.8L108.4 319.5L108.8 318.9L109.2 315.5L109.6 311.9L110 308.2L110.4 304.3L110.8 302.1L111.2 310.4L111.6 330.6L112 351.5L112.4 370.5L112.8 383.8L113.2 394.7L113.6 405.2L114 416.3L114.4 424L114.8 424.1L115.2 418.3L115.6 410.8L116 405.6L116.4 401.3L116.8 397.6L117.2 395.3L117.6 396.2L118 401.9L118.4 406.6L118.8 405.6L119.2 401.5L119.6 396.3L120 391.9L120.4 388L120.8 383.9L121.2 380.4L121.6 378L122 377.6L122.4 380.3L122.8 385.5L123.2 391.9L123.6 398.2L124 404.5L124.4 411.9L124.8 418.4L125.2 422.3L125.6 424.8L126 426.7L126.4 428.4L126.8 429.8L127.2 431.1L127.6 432.5L128 433.8L128.4 434.9L128.8 436L129.2 437.1L129.6 438.5L130 440L130.4 441.8L130.8 443.7L131.2 445.6L131.6 447.3L132 448.8L132.4 450.1L132.8 451.3L133.2 452.5L133.6 453.6L134 454.8L134.4 455.9L134.8 457.1L135.2 458.2L135.6 459.4L136 460.4L136.4 461.5L136.8 462.4L137.2 463.2L137.6 464L138 464.9L138.4 465.6L138.8 466.4L139.2 467L139.6 467.5L140 467.9L140.4 468.1L140.8 468.3L141.2 468.5L141.6 468.7L142 468.8L142.4 468.9L142.8 469L143.2 469L143.6 468.3L144 466.6L144.4 464.3L144.8 461.8L145.2 459.3L145.6 457.3L146 456.1L146.4 456.3L146.8 458L147.2 460.8L147.6 464L148 466.9L148.4 469.1L148.8 471.1L149.2 473.1L149.6 474.9L150 476.7L150.4 478.5L150.8 480.3L151.2 482.1L151.6 484.2L152 486.4L152.4 487.8L152.8 487.6L153.2 485.2L153.6 481.1L154 476.4L154.4 471.8L154.8 467.8L155.2 462.9L155.6 458.3L156 455.4L156.4 455.4L156.8 457.6L157.2 461.1L157.6 465.1L158 468.7L158.4 471.3L158.8 474L159.2 476.7L159.6 479.3L160 481.5L160.4 483.4L160.8 484.6L161.2 485L161.6 484.6L162 483.7L162.4 482.1L162.8 480.2L163.2 477.9L163.6 473.1L164 465.4L164.4 457.3L164.8 450.7L165.2 444.8L165.6 439L166 433L166.4 425.6L166.8 416.5L167.2 413.8L167.6 417L168 422L168.4 426.2L168.8 430.4L169.2 434.1L169.6 437.3L170 440.3L170.4 443.1L170.8 445.7L171.2 448.1L171.6 450.2L172 452.1L172.4 453.8L172.8 455.4L173.2 456.8L173.6 458.1L174 459.4L174.4 460.5L174.8 461.6L175.2 462.6L175.6 463.5L176 464.4L176.4 465.1L176.8 465.9L177.2 466.6L177.6 467.4L178 468.1L178.4 468.8L178.8 469.6L179.2 470.3L179.6 471L180 471.6L180.4 472.3L180.8 472.8L181.2 473.3L181.6 473.8L182 474.1L182.4 474.5L182.8 474.8L183.2 475.2L183.6 475.6L184 476.1L184.4 476.6L184.8 477.3L185.2 478L185.6 478.7L186 479.6L186.4 480.5L186.8 481.5L187.2 482.8L187.6 484.7L188 487.1L188.4 489.6L188.8 491.7L189.2 492.9L189.6 493L190 492.3L190.4 491.1L190.8 489.6L191.2 488.2L191.6 486.9L192 486.1L192.4 485.8L192.8 485.5L193.2 485.3L193.6 485.1L194 484.9L194.4 484.7L194.8 484.4L195.2 483.6L195.6 481.1L196 477.3L196.4 472.8L196.8 468.6L197.2 465.4L197.6 464.1L198 464.8L198.4 466.7L198.8 469.5L199.2 472.6L199.6 475.6L200 478L200.4 480L200.8 482.1L201.2 484.1L201.6 485.5L202 486.1L202.4 485.9L202.8 485.5L203.2 484.7L203.6 483.8L204 482.8L204.4 481.7L204.8 480.7L205.2 479.7L205.6 478.5L206 477.1L206.4 475.7L206.8 474.4L207.2 473.2L207.6 472.4L208 472.1L208.4 472.1L208.8 472.1L209.2 472.1L209.6 472.1L210 472.1L210.4 472.1L210.8 472.1L211.2 470.7L211.6 458.5L212 442.8L212.4 430.6L212.8 419.1L213.2 408.6L213.6 397.8L214 390.2L214.4 387.6L214.8 389.8L215.2 401.7L215.6 413.2L216 421.9L216.4 425.1L216.8 427.1L217.2 427.4L217.6 424.2L218 419.7L218.4 416.7L218.8 417.8L219.2 421.5L219.6 425.4L220 428L220.4 430.3L220.8 432.3L221.2 434.1L221.6 435.5L222 436.8L222.4 438L222.8 439.2L223.2 440.3L223.6 441.4L224 442.3L224.4 443.2L224.8 444.2L225.2 445.2L225.6 446.3L226 447.7L226.4 449.4L226.8 451.5L227.2 454L227.6 456.6L228 459.4L228.4 462.4L228.8 466L229.2 469.7L229.6 473.1L230 475.6L230.4 477.3L230.8 478.7L231.2 480L231.6 481.1L232 482.1L232.4 483L232.8 483.7L233.2 484.3L233.6 484.9L234 485.4L234.4 485.8L234.8 486L235.2 486.1L235.6 485.4L236 484.2L236.4 482.5L236.8 480.7L237.2 478.8L237.6 477.3L238 476.2L238.4 475.7L238.8 475.2L239.2 474.9L239.6 474.6L240 474.3L240.4 474L240.8 473.5L241.2 472.9L241.6 471.7L242 470.1L242.4 468.4L242.8 466.9L243.2 465.8L243.6 465L244 464.1L244.4 463.4L244.8 462.7L245.2 462.3L245.6 462.1L246 462.3L246.4 463.3L246.8 464.7L247.2 466.4L247.6 468.2L248 469.8L248.4 471.1L248.8 472.4L249.2 473.7L249.6 475.1L250 476.4L250.4 477.7L250.8 479.1L251.2 480.5L251.6 482.1L252 483.9L252.4 485.7L252.8 487.3L253.2 488.5L253.6 489.1L254 489L254.4 488.4L254.8 487.5L255.2 486.4L255.6 485.3L256 484.3L256.4 483.5L256.8 482.8L257.2 482.1L257.6 481.4L258 480.7L258.4 479.9L258.8 478.9L259.2 477.8L259.6 476L260 473.7L260.4 471.2L260.8 469L261.2 467.5L261.6 467.1L262 468.4L262.4 470.8L262.8 473.7L263.2 476.3L263.6 477.9L264 478.3L264.4 478.5L264.8 478.6L265.2 478.7L265.6 478.8L266 479L266.4 479.4L266.8 480.2L267.2 481.3L267.6 482.6L268 483.8L268.4 485L268.8 486.5L269.2 488.1L269.6 489.4L270 490.1L270.4 489.8L270.8 488.6L271.2 486.7L271.6 484.8L272 483.1L272.4 482.2L272.8 482.3L273.2 482.9L273.6 483.9L274 485.1L274.4 486.1L274.8 486.9L275.2 487.1L275.6 486.3L276 484.5L276.4 482.3L276.8 480.1L277.2 478.2L277.6 477.2L278 477.5L278.4 479.4L278.8 482L279.2 484.5L279.6 486L280 485.9L280.4 484.7L280.8 482.9L281.2 480.7L281.6 478.5L282 476.6L282.4 475.2L282.8 473.6L283.2 472.1L283.6 470.7L284 469.7L284.4 469.1L284.8 469.3L285.2 470.7L285.6 472.7L286 475.1L286.4 477.3L286.8 479.4L287.2 482L287.6 484.6L288 486.8L288.4 488L288.8 488L289.2 487.6L289.6 487L290 486.4L290.4 485.7L290.8 485.3L291.2 485.1L291.6 485.4L292 485.9L292.4 486.5L292.8 486.9L293.2 487.1L293.6 486.8L294 486.1L294.4 485.2L294.8 484.3L295.2 483.6L295.6 483.1L296 483.2L296.4 484L296.8 485.2L297.2 486.6L297.6 487.9L298 488.9L298.4 489.4L298.8 489.8L299.2 490.1L299.6 490.5L300 490.7L300.4 490.9L300.8 491.1L301.2 491.1L301.6 491.1L302 490.9L302.4 490.7L302.8 490.5L303.2 490.4L303.6 490.2L304 490.1L304.4 490.2L304.8 490.4L305.2 490.8L305.6 491.3L306 491.7L306.4 492L306.8 492.1L307.2 489.9L307.6 485.2L308 480L308.4 476.5L308.8 476.4L309.2 478.1L309.6 480.3L310 481.9L310.4 481.9L310.8 480.8L311.2 479L311.6 477L312 475.3L312.4 474.2L312.8 474.2L313.2 474.6L313.6 475.4L314 476.2L314.4 477.1L314.8 478L315.2 479.1L315.6 480.2L316 481.4L316.4 482.6L316.8 483.6L317.2 484.6L317.6 485.5L318 486.3L318.4 487.2L318.8 488L319.2 488.7L319.6 489.4L320 490.1L320.4 490.8L320.8 491.5L321.2 492.2L321.6 492.9L322 493.4L322.4 493.9L322.8 494.1L323.2 494.1L323.6 494L324 493.8L324.4 493.4L324.8 493.1L325.2 492.6L325.6 492.1L326 491.2L326.4 489.7L326.8 488L327.2 486.7L327.6 486.1L328 486.7L328.4 488.2L328.8 489.9L329.2 491.5L329.6 492.1L330 491.9L330.4 491.4L330.8 490.5L331.2 489.4L331.6 488.2L332 486L332.4 482.4L332.8 478.1L333.2 473.8L333.6 470.2L334 467.1L334.4 463.9L334.8 461.1L335.2 459.4L335.6 459.3L336 461.5L336.4 465.1L336.8 469.6L337.2 473.9L337.6 477.8L338 482.2L338.4 487.1L338.8 491.5L339.2 494.7L339.6 496.1L340 495L340.4 491.8L340.8 487.6L341.2 483.4L341.6 480.3L342 478.3L342.4 476.7L342.8 475.3L343.2 473.9L343.6 472.2L344 470L344.4 467.1L344.8 464.3L345.2 462.1L345.6 461.1L346 462L346.4 464.7L346.8 468.4L347.2 472.4L347.6 475.8L348 478.9L348.4 482.3L348.8 485.6L349.2 488L349.6 489.1L350 488.6L350.4 487L350.8 484.8L351.2 482.7L351.6 480.9L352 480.1L352.4 480.3L352.8 480.8L353.2 481.6L353.6 482.5L354 483.3L354.4 484L354.8 484.6L355.2 485.1L355.6 485.6L356 486.1L356.4 486.5L356.8 486.9L357.2 487.2L357.6 487.6L358 488L358.4 488.3L358.8 488.6L359.2 488.9L359.6 489L360 489.1L360.4 488.6L360.8 487.1L361.2 484.9L361.6 482.7L362 481L362.4 480.1L362.8 480.3L363.2 481.1L363.6 482.1L364 483.3L364.4 484.3L364.8 485L365.2 484.9L365.6 482L366 476.8L366.4 470.3L366.8 463.8L367.2 458.3L367.6 452.5L368 446.9L368.4 442.6L368.8 439.7L369.2 437.6L369.6 437.3L370 440.6L370.4 446.4L370.8 452.6L371.2 457.5L371.6 462.1L372 466.7L372.4 470.9L372.8 474.4L373.2 476.7L373.6 478.8L374 480.6L374.4 482L374.8 482.9L375.2 483.1L375.6 482.6L376 481.6L376.4 480.3L376.8 479L377.2 477.7L377.6 476L378 474.1L378.4 472.2L378.8 470.7L379.2 469.9L379.6 469.5L380 469.2L380.4 469L380.8 468.5L381.2 467.6L381.6 463.2L382 456.7L382.4 450.9L382.8 447.2L383.2 443.7L383.6 440.5L384 438.2L384.4 437.1L384.8 437.9L385.2 441L385.6 445.6L386 450.6L386.4 455.2L386.8 459L387.2 463.1L387.6 467L388 470.6L388.4 473.5L388.8 475.7L389.2 477.8L389.6 479.7L390 481.3L390.4 482.6L390.8 483.6L391.2 484.2L391.6 484.7L392 485L392.4 485.4L392.8 485.7L393.2 485.9L393.6 486L394 486.1L394.4 485.9L394.8 485.3L395.2 484.4L395.6 483.4L396 482.6L396.4 482.1L396.8 482.2L397.2 482.7L397.6 483.2L398 483.8L398.4 484.1L398.8 483.5L399.2 481.4L399.6 478.4L400 475.7L400.4 474.2L400.8 474.5L401.2 476.1L401.6 478.6L402 481.2L402.4 483.6L402.8 485.4L403.2 487.4L403.6 489.5L404 491.4L404.4 492.9L404.8 493.9L405.2 494.1L405.6 493.8L406 493L406.4 492.1L406.8 491L407.2 489.9L407.6 488.4L408 486.5L408.4 484.8L408.8 483.5L409.2 483.1L409.6 484L410 485.5L410.4 487.3L410.8 488.7L411.2 489.1L411.6 488.8L412 488.1L412.4 487.2L412.8 486.3L413.2 485.5L413.6 485.1L414 485.3L414.4 486.2L414.8 487.6L415.2 489.2L415.6 490.7L416 491.9L416.4 492.5L416.8 493L417.2 493.5L417.6 494L418 494.3L418.4 494.7L418.8 494.9L419.2 495.1L419.6 495.3L420 495.5L420.4 495.7L420.8 495.9L421.2 496L421.6 496.1L422 496.1L422.4 496.1L422.8 496.1L423.2 496.1L423.6 496.1L424 496.1L424.4 496.1L424.8 496.1L425.2 496.1L425.6 496L426 495.8L426.4 495.6L426.8 495.2L427.2 494.8L427.6 494.3L428 493.7L428.4 492.5L428.8 491.1L429.2 489.9L429.6 489.2L430 489.3L430.4 490.3L430.8 491.8L431.2 493.5L431.6 495L432 496L432.4 496.3L432.8 496.5L433.2 496.7L433.6 496.8L434 497L434.4 497.1L434.8 497.1L435.2 497.1L435.6 496.9L436 496.6L436.4 496L436.8 495.4L437.2 494.8L437.6 494.4L438 494.1L438.4 494.2L438.8 494.6L439.2 495.2L439.6 496L440 496.8L440.4 497.5L440.8 498L441.2 498.1L441.6 497.9L442 497.4L442.4 496.6L442.8 495.8L443.2 494.9L443.6 494.1L444 493.5L444.4 493.2L444.8 493.2L445.2 493.8L445.6 494.8L446 496.1L446.4 497.3L446.8 498.4L447.2 499.2L447.6 499.7L448 500.3L448.4 500.8L448.8 501.3L449.2 501.7L449.6 502L450 502.1L450.4 502.1L450.8 502L451.2 501.7L451.6 501.5L452 501.1L452.4 500.5L452.8 499.5L453.2 498.3L453.6 497.2L454 496.4L454.4 496.1L454.8 496.6L455.2 497.6L455.6 498.7L456 499.1L456.4 499L456.8 498.8L457.2 498.3L457.6 497.7L458 497L458.4 496.1L458.8 493.4L459.2 488.2L459.6 482L460 476.1L460.4 470.5L460.8 464.6L461.2 458.9L461.6 454.1L462 449.7L462.4 445.3L462.8 441.6L463.2 439.4L463.6 439.5L464 442.8L464.4 447.9L464.8 453.5L465.2 458.7L465.6 464.8L466 468.1L466.4 466L466.8 460.8L467.2 454.6L467.6 449.3L468 447.1L468.4 448.3L468.8 451.4L469.2 455.7L469.6 460.2L470 464L470.4 467L470.8 469.9L471.2 472.7L471.6 475.4L472 478L472.4 480.9L472.8 484L473.2 487L473.6 489.2L474 490.1L474.4 490L474.8 489.6L475.2 489.1L475.6 488.5L476 487.9L476.4 487.4L476.8 487.2L477.2 487.2L477.6 487.6L478 488.4L478.4 489.4L478.8 490.5L479.2 491.4L479.6 492.1L480 492.5L480.4 492.9L480.8 493.2L481.2 493.5L481.6 493.8L482 494.1L482.4 494.4L482.8 494.8L483.2 495.1L483.6 495.5L484 495.7L484.4 496L484.8 496.1L485.2 495.9L485.6 493.6L486 489.6L486.4 484.9L486.8 480.1L487.2 473.7L487.6 466.8L488 460.6L488.4 455L488.8 449.7L489.2 447.1L489.6 447.8L490 449.7L490.4 452L490.8 453.7L491.2 454L491.6 453.3L492 452L492.4 450.3L492.8 446.1L493.2 438.4L493.6 430.8L494 425.6L494.4 419.7L494.8 405.5L495.2 396.1L495.6 392.2L496 396.9L496.4 403.8L496.8 410.2L497.2 419.1L497.6 434.3L498 448.7L498.4 457.5L498.8 465L499.2 471L499.6 475.6L500 479.1L500.4 482.5L500.8 485.3L501.2 487.2L501.6 488.1L502 487.6L502.4 486.2L502.8 484.5L503.2 482.9L503.6 482.1L504 482.6L504.4 484L504.8 486.1L505.2 488.2L505.6 489.9L506 491.2L506.4 492.5L506.8 493.8L507.2 494.7L507.6 495.1L508 493.9L508.4 490L508.8 484.8L509.2 479.8L509.6 476.4L510 474.8L510.4 473.4L510.8 472.3L511.2 471.5L511.6 471.1L512 471.3L512.4 472L512.8 473L513.2 474.4L513.6 475.8L514 477.9L514.4 481.4L514.8 485.2L515.2 488.4L515.6 490.1L516 489.3L516.4 486.6L516.8 482.7L517.2 478.5L517.6 474.7L518 471.5L518.4 467.8L518.8 464L519.2 460.7L519.6 458.3L520 457.1L520.4 458.1L520.8 461.9L521.2 466.9L521.6 472L522 475.6L522.4 477.5L522.8 479.2L523.2 480.6L523.6 481.6L524 482.1L524.4 481.7L524.8 480.4L525.2 479L525.6 478.1L526 478.5L526.4 480.2L526.8 482.6L527.2 485.3L527.6 487.9L528 489.8L528.4 491L528.8 492L529.2 493L529.6 493.8L530 494.6L530.4 495.2L530.8 495.8L531.2 496.2L531.6 496.6L532 497L532.4 497.3L532.8 497.6L533.2 497.9L533.6 498L534 498.1L534.4 497.5L534.8 494.9L535.2 491.2L535.6 487.2L536 483.9L536.4 482.2L536.8 482.4L537.2 483.3L537.6 484.4L538 485.1L538.4 482.6L538.8 473.6L539.2 462.8L539.6 453.8L540 445.1L540.4 433.9L540.8 415.3L541.2 386.5L541.6 357.1L542 330.7L542.4 314.1L542.8 320.2L543.2 330.3L543.6 340.1L544 350.3L544.4 359.8L544.8 373L545.2 391.2L545.6 409.1L546 425.5L546.4 440.9L546.8 453.9L547.2 458.1L547.6 457.8L548 457.3L548.4 456.7L548.8 456.2L549.2 456.1L549.6 457.3L550 459.5L550.4 461.4L550.8 462L551.2 459.8L551.6 455.6L552 450.9L552.4 447.2L552.8 446.1L553.2 447.5L553.6 450.3L554 453.7L554.4 457.1L554.8 459.9L555.2 462.7L555.6 465.5L556 468.3L556.4 471.2L556.8 474.1L557.2 477.6L557.6 481.2L558 484.3L558.4 486.5L558.8 487L559.2 483.1L559.6 475.7L560 468.1L560.4 462.5L560.8 456.5L561.2 451.3L561.6 448.3L562 448.6L562.4 451.1L562.8 454.6L563.2 457.9L563.6 459.9L564 459.6L564.4 457.8L564.8 455.8L565.2 455.1L565.6 456L566 458.2L566.4 460.9L566.8 463.8L567.2 466.4L567.6 468.9L568 471.6L568.4 474.3L568.8 476.6L569.2 478.3L569.6 479.7L570 481L570.4 482.1L570.8 482.9L571.2 483.1L571.6 482L572 479.5L572.4 476.2L572.8 472.8L573.2 469.8L573.6 467.1L574 464.4L574.4 461.8L574.8 459.2L575.2 456.9L575.6 455L576 453.2L576.4 451.1L576.8 447.6L577.2 441.1L577.6 434.1L578 429.5L578.4 429.5L578.8 432.1L579.2 436.4L579.6 441.4L580 446.2L580.4 450.5L580.8 455L581.2 459.7L581.6 464.2L582 468.4L582.4 472.3L582.8 476.6L583.2 480.7L583.6 484L584 485.9L584.4 486L584.8 485.1L585.2 483.8L585.6 482.3L586 481L586.4 480.2L586.8 480.3L587.2 481.4L587.6 483.1L588 485.3L588.4 487.4L588.8 489.1L589.2 490.1L589.6 490.7L590 491.3L590.4 491.7L590.8 492L591.2 492.1L591.6 489.2L592 486.1L592.4 485.4L592.8 484.8L593.2 484.4L593.6 484.2L594 484.1L594.4 484.6L594.8 485.9L595.2 487.6L595.6 489.3L596 490.6L596.4 491.1L596.8 491L597.2 490.5L597.6 489.9L598 489.1L598.4 488.1L598.8 486.1L599.2 482.8L599.6 479.1L600 476.1L600.4 473.5L600.8 471L601.2 469.3L601.6 469.4L602 471.7L602.4 475.1L602.8 478.7L603.2 481.4L603.6 484.2L604 487.1L604.4 489.5L604.8 490.9L605.2 490.8L605.6 488.8L606 485.3L606.4 481L606.8 476.4L607.2 471.6L607.6 464.7L608 458.1L608.4 455.1L608.8 457L609.2 461.4L609.6 465.9L610 468.1L610.4 466.4L610.8 461.9L611.2 456.1L611.6 450.3L612 443.9L612.4 436.4L612.8 430.1L613.2 426.8L613.6 424.4L614 422.7L614.4 422L614.8 424.6L615.2 430.7L615.6 436.9L616 440L616.4 437.7L616.8 431.9L617.2 426L617.6 423L618 426.7L618.4 435.8L618.8 445.8L619.2 452.7L619.6 459.1L620 464.8L620.4 468.4L620.8 468.4L621.2 463L621.6 454.7L622 446.6L622.4 439.1L622.8 431.1L623.2 424.5L623.6 420.7L624 417.9L624.4 415.9L624.8 415L625.2 417.5L625.6 423.9L626 431L626.4 435.8L626.8 437.6L627.2 439L627.6 440L628 440.9L628.4 441.8L628.8 442.5L629.2 443.1L629.6 443.9L630 444.9L630.4 446.9L630.8 450.3L631.2 454.4L631.6 458.5L632 461.8L632.4 464.4L632.8 467.1L633.2 469.7L633.6 471.9L634 473.4L634.4 474.1L634.8 473.3L635.2 470.9L635.6 467.6L636 463.8L636.4 460.4L636.8 457.6L637.2 455L637.6 452.2L638 449.1L638.4 445.6L638.8 440.3L639.2 433L639.6 426.1L640 422.2L640.4 421.4L640.8 420.8L641.2 420.4L641.6 420.1L642 420L642.4 422.3L642.8 429.3L643.2 437.9L643.6 445.2L644 450.5L644.4 455.9L644.8 460.8L645.2 464.4L645.6 466L646 465.6L646.4 464.1L646.8 461.9L647.2 459.7L647.6 458L648 457.1L648.4 457.4L648.8 458.3L649.2 459.7L649.6 461L650 462L650.4 462.5L650.8 462.9L651.2 463.3L651.6 463.6L652 464L652.4 464.5L652.8 465.1L653.2 465.8L653.6 466.4L654 466.9L654.4 467.1L654.8 466.5L655.2 464.5L655.6 461.9L656 459.3L656.4 457.5L656.8 457.2L657.2 458.9L657.6 462.1L658 466L658.4 469.5L658.8 472.6L659.2 476.3L659.6 479.9L660 482.7L660.4 484.1L660.8 483.8L661.2 482.9L661.6 481.8L662 480.7L662.4 480.1L662.8 480.2L663.2 480.4L663.6 480.9L664 481.4L664.4 482L664.8 482.7L665.2 483.3L665.6 484L666 484.8L666.4 485.7L666.8 486.5L667.2 487.3L667.6 488.1L668 489L668.4 489.9L668.8 490.6L669.2 491L669.6 491.1L670 490.1L670.4 488.4L670.8 486.2L671.2 484L671.6 482.4L672 481.3L672.4 480.3L672.8 479.5L673.2 479.1L673.6 479.6L674 481.4L674.4 483.7L674.8 485.6L675.2 486.1L675.6 484.9L676 482.7L676.4 480.1L676.8 477.6L677.2 475.7L677.6 474.1L678 472.5L678.4 471.2L678.8 470.3L679.2 470.1L679.6 471.2L680 473.2L680.4 475.8L680.8 478.4L681.2 480.5L681.6 482.6L682 484.6L682.4 486.6L682.8 488.2L683.2 489.3L683.6 490.2L684 491L684.4 491.6L684.8 492L685.2 492.1L685.6 491.6L686 490.5L686.4 489.2L686.8 487.8L687.2 486.7L687.6 486.1L688 486.2L688.4 486.7L688.8 487.4L689.2 488.1L689.6 488.7L690 489.1L690.4 489L690.8 488.7L691.2 488.3L691.6 487.8L692 487.4L692.4 487.1L692.8 487.2L693.2 487.6L693.6 488.2L694 488.9L694.4 489.5L694.8 490L695.2 490.1L695.6 489.6L696 488.6L696.4 487.3L696.8 485.9L697.2 484.2L697.6 482.2L698 479.9" fill="none" stroke="#3f3191" stroke-width="2.3" stroke-linejoin="round" stroke-linecap="round" stroke-opacity="0.95" filter="url(#sh)"/>
<g fill="#2fa8b0" fill-opacity="0.36"><circle cx="37" cy="500.4" r="1.65"/><circle cx="37.1" cy="496.6" r="1.65"/><circle cx="37.4" cy="486.8" r="1.65"/><circle cx="37.6" cy="502.7" r="1.65"/><circle cx="37.7" cy="493.3" r="1.65"/><circle cx="37.9" cy="495.4" r="1.65"/><circle cx="38.1" cy="503.1" r="1.65"/><circle cx="38.5" cy="487.7" r="1.65"/><circle cx="38.7" cy="497.9" r="1.65"/><circle cx="38.8" cy="468" r="1.65"/><circle cx="39.3" cy="485.3" r="1.65"/><circle cx="40" cy="491.4" r="1.65"/><circle cx="40.2" cy="477.6" r="1.65"/><circle cx="40.3" cy="469" r="1.65"/><circle cx="40.5" cy="495.5" r="1.65"/><circle cx="40.6" cy="493.8" r="1.65"/><circle cx="40.8" cy="505.5" r="1.65"/><circle cx="40.9" cy="501.5" r="1.65"/><circle cx="41.1" cy="479.6" r="1.65"/><circle cx="41.2" cy="486.4" r="1.65"/><circle cx="41.5" cy="495.3" r="1.65"/><circle cx="41.8" cy="490.9" r="1.65"/><circle cx="42.1" cy="505.2" r="1.65"/><circle cx="42.3" cy="505" r="1.65"/><circle cx="43.1" cy="501.8" r="1.65"/><circle cx="43.2" cy="489.1" r="1.65"/><circle cx="43.4" cy="476" r="1.65"/><circle cx="43.5" cy="484.4" r="1.65"/><circle cx="43.8" cy="478.3" r="1.65"/><circle cx="44.1" cy="470.9" r="1.65"/><circle cx="44.6" cy="474.6" r="1.65"/><circle cx="44.7" cy="476" r="1.65"/><circle cx="45" cy="422.4" r="1.65"/><circle cx="45.3" cy="467.2" r="1.65"/><circle cx="45.5" cy="482.1" r="1.65"/><circle cx="45.9" cy="451.6" r="1.65"/><circle cx="46.1" cy="497" r="1.65"/><circle cx="46.2" cy="464.3" r="1.65"/><circle cx="46.7" cy="475" r="1.65"/><circle cx="46.8" cy="495.6" r="1.65"/><circle cx="47" cy="471.2" r="1.65"/><circle cx="47.1" cy="481" r="1.65"/><circle cx="47.5" cy="496.3" r="1.65"/><circle cx="47.6" cy="489.3" r="1.65"/><circle cx="47.8" cy="494.7" r="1.65"/><circle cx="47.9" cy="477.4" r="1.65"/><circle cx="48.2" cy="490.6" r="1.65"/><circle cx="48.5" cy="488.5" r="1.65"/><circle cx="48.7" cy="505" r="1.65"/><circle cx="48.8" cy="491.9" r="1.65"/><circle cx="49" cy="495.3" r="1.65"/><circle cx="49.4" cy="466.1" r="1.65"/><circle cx="49.7" cy="496.6" r="1.65"/><circle cx="49.9" cy="487" r="1.65"/><circle cx="50.3" cy="491.2" r="1.65"/><circle cx="50.6" cy="499.4" r="1.65"/><circle cx="50.8" cy="499.3" r="1.65"/><circle cx="51.1" cy="500.9" r="1.65"/><circle cx="51.2" cy="500.2" r="1.65"/><circle cx="51.4" cy="465.9" r="1.65"/><circle cx="51.5" cy="471.4" r="1.65"/><circle cx="51.7" cy="498.7" r="1.65"/><circle cx="51.8" cy="481" r="1.65"/><circle cx="52.1" cy="493.7" r="1.65"/><circle cx="52.3" cy="493.2" r="1.65"/><circle cx="52.6" cy="480.8" r="1.65"/><circle cx="52.8" cy="484.6" r="1.65"/><circle cx="53.1" cy="473.8" r="1.65"/><circle cx="53.2" cy="488.1" r="1.65"/><circle cx="53.7" cy="487.8" r="1.65"/><circle cx="53.8" cy="484" r="1.65"/><circle cx="54.3" cy="489.9" r="1.65"/><circle cx="54.9" cy="488.1" r="1.65"/><circle cx="55" cy="502.3" r="1.65"/><circle cx="55.2" cy="487.7" r="1.65"/><circle cx="55.5" cy="477.1" r="1.65"/><circle cx="55.8" cy="486.1" r="1.65"/><circle cx="56.1" cy="489.9" r="1.65"/><circle cx="56.2" cy="476.1" r="1.65"/><circle cx="56.4" cy="492.1" r="1.65"/><circle cx="56.7" cy="486.8" r="1.65"/><circle cx="56.8" cy="498.7" r="1.65"/><circle cx="57" cy="482.4" r="1.65"/><circle cx="57.5" cy="476.3" r="1.65"/><circle cx="57.8" cy="488.7" r="1.65"/><circle cx="57.9" cy="480.3" r="1.65"/><circle cx="58.1" cy="481.9" r="1.65"/><circle cx="58.2" cy="483.2" r="1.65"/><circle cx="58.4" cy="482.1" r="1.65"/><circle cx="58.5" cy="497.9" r="1.65"/><circle cx="58.7" cy="490.7" r="1.65"/><circle cx="58.8" cy="479" r="1.65"/><circle cx="59" cy="451.6" r="1.65"/><circle cx="59.1" cy="469" r="1.65"/><circle cx="59.9" cy="448" r="1.65"/><circle cx="60" cy="449.1" r="1.65"/><circle cx="60.2" cy="428.3" r="1.65"/><circle cx="60.3" cy="414.3" r="1.65"/><circle cx="60.9" cy="462.2" r="1.65"/><circle cx="61.2" cy="480.6" r="1.65"/><circle cx="61.5" cy="469.4" r="1.65"/><circle cx="61.9" cy="457.5" r="1.65"/><circle cx="62" cy="470.3" r="1.65"/><circle cx="63.1" cy="433" r="1.65"/><circle cx="63.7" cy="475.5" r="1.65"/><circle cx="64.1" cy="475.4" r="1.65"/><circle cx="64.4" cy="431.9" r="1.65"/><circle cx="64.6" cy="482.3" r="1.65"/><circle cx="64.9" cy="470.5" r="1.65"/><circle cx="65.6" cy="492.1" r="1.65"/><circle cx="65.9" cy="484.5" r="1.65"/><circle cx="66.1" cy="494.7" r="1.65"/><circle cx="66.4" cy="491.7" r="1.65"/><circle cx="66.7" cy="498.1" r="1.65"/><circle cx="67" cy="482.5" r="1.65"/><circle cx="67.2" cy="481.2" r="1.65"/><circle cx="67.5" cy="489.1" r="1.65"/><circle cx="67.9" cy="488.3" r="1.65"/><circle cx="68.1" cy="483.6" r="1.65"/><circle cx="68.2" cy="475.1" r="1.65"/><circle cx="68.5" cy="483.9" r="1.65"/><circle cx="68.7" cy="443.1" r="1.65"/><circle cx="69.1" cy="452.9" r="1.65"/><circle cx="69.4" cy="467.3" r="1.65"/><circle cx="69.7" cy="478.1" r="1.65"/><circle cx="69.9" cy="419.1" r="1.65"/><circle cx="70.5" cy="396.3" r="1.65"/><circle cx="70.6" cy="468.6" r="1.65"/><circle cx="70.8" cy="475.2" r="1.65"/><circle cx="70.9" cy="459.8" r="1.65"/><circle cx="71.1" cy="422.3" r="1.65"/><circle cx="71.9" cy="447" r="1.65"/><circle cx="72" cy="459.1" r="1.65"/><circle cx="72.2" cy="424.2" r="1.65"/><circle cx="72.3" cy="478.2" r="1.65"/><circle cx="72.5" cy="412.6" r="1.65"/><circle cx="72.6" cy="451.9" r="1.65"/><circle cx="72.9" cy="465.3" r="1.65"/><circle cx="73.1" cy="456.8" r="1.65"/><circle cx="73.5" cy="485.5" r="1.65"/><circle cx="73.7" cy="468.7" r="1.65"/><circle cx="73.8" cy="469.7" r="1.65"/><circle cx="74.1" cy="470.8" r="1.65"/><circle cx="74.4" cy="482.5" r="1.65"/><circle cx="74.6" cy="491.1" r="1.65"/><circle cx="74.9" cy="463.7" r="1.65"/><circle cx="75" cy="470.6" r="1.65"/><circle cx="75.2" cy="489.6" r="1.65"/><circle cx="75.3" cy="464.2" r="1.65"/><circle cx="75.6" cy="456.7" r="1.65"/><circle cx="75.8" cy="442.9" r="1.65"/><circle cx="75.9" cy="492.2" r="1.65"/><circle cx="76.3" cy="408" r="1.65"/><circle cx="77.2" cy="473" r="1.65"/><circle cx="77.3" cy="460.4" r="1.65"/><circle cx="77.5" cy="447.3" r="1.65"/><circle cx="77.6" cy="452.8" r="1.65"/><circle cx="77.8" cy="458.3" r="1.65"/><circle cx="78.1" cy="432.7" r="1.65"/><circle cx="78.2" cy="437.2" r="1.65"/><circle cx="78.4" cy="421.1" r="1.65"/><circle cx="78.7" cy="386" r="1.65"/><circle cx="79.1" cy="347.5" r="1.65"/><circle cx="79.6" cy="443.8" r="1.65"/><circle cx="80" cy="470.6" r="1.65"/><circle cx="80.2" cy="483.6" r="1.65"/><circle cx="80.6" cy="421.6" r="1.65"/><circle cx="80.8" cy="400.7" r="1.65"/><circle cx="81.4" cy="431.2" r="1.65"/><circle cx="81.7" cy="394.2" r="1.65"/><circle cx="82.5" cy="448" r="1.65"/><circle cx="83.1" cy="440.8" r="1.65"/><circle cx="83.4" cy="461.7" r="1.65"/><circle cx="83.8" cy="436.7" r="1.65"/><circle cx="84" cy="474.6" r="1.65"/><circle cx="84.1" cy="476.6" r="1.65"/><circle cx="84.3" cy="457.9" r="1.65"/><circle cx="84.6" cy="446.2" r="1.65"/><circle cx="84.7" cy="461.3" r="1.65"/><circle cx="85" cy="468.2" r="1.65"/><circle cx="85.3" cy="472.7" r="1.65"/><circle cx="85.5" cy="448.7" r="1.65"/><circle cx="85.8" cy="454.1" r="1.65"/><circle cx="86" cy="455.2" r="1.65"/><circle cx="86.1" cy="408.9" r="1.65"/><circle cx="86.9" cy="479.7" r="1.65"/><circle cx="87.2" cy="422" r="1.65"/><circle cx="87.3" cy="429.5" r="1.65"/><circle cx="87.5" cy="482.4" r="1.65"/><circle cx="87.6" cy="482" r="1.65"/><circle cx="88.1" cy="478.8" r="1.65"/><circle cx="88.4" cy="476" r="1.65"/><circle cx="88.5" cy="483.4" r="1.65"/><circle cx="88.7" cy="445.9" r="1.65"/><circle cx="89.1" cy="481.7" r="1.65"/><circle cx="89.6" cy="447.2" r="1.65"/><circle cx="89.7" cy="485.1" r="1.65"/><circle cx="89.9" cy="460.6" r="1.65"/><circle cx="90" cy="475.7" r="1.65"/><circle cx="90.2" cy="490.2" r="1.65"/><circle cx="90.5" cy="488.9" r="1.65"/><circle cx="90.8" cy="481.2" r="1.65"/><circle cx="91" cy="474.9" r="1.65"/><circle cx="91.3" cy="483.3" r="1.65"/><circle cx="91.4" cy="468.6" r="1.65"/><circle cx="91.7" cy="485.5" r="1.65"/><circle cx="91.9" cy="452.8" r="1.65"/><circle cx="92" cy="453.7" r="1.65"/><circle cx="92.5" cy="440.5" r="1.65"/><circle cx="92.6" cy="473.8" r="1.65"/><circle cx="92.8" cy="488.9" r="1.65"/><circle cx="92.9" cy="465.2" r="1.65"/><circle cx="93.4" cy="452" r="1.65"/><circle cx="93.5" cy="430.4" r="1.65"/><circle cx="93.7" cy="485" r="1.65"/><circle cx="94.1" cy="471.1" r="1.65"/><circle cx="94.4" cy="444.9" r="1.65"/><circle cx="94.6" cy="446.7" r="1.65"/><circle cx="94.7" cy="480.1" r="1.65"/><circle cx="95" cy="468.3" r="1.65"/><circle cx="95.2" cy="419.8" r="1.65"/><circle cx="95.5" cy="452.2" r="1.65"/><circle cx="95.8" cy="434.8" r="1.65"/><circle cx="96" cy="450.9" r="1.65"/><circle cx="96.1" cy="432.9" r="1.65"/><circle cx="96.3" cy="481.7" r="1.65"/><circle cx="96.4" cy="460.1" r="1.65"/><circle cx="96.6" cy="444.4" r="1.65"/><circle cx="96.7" cy="479.3" r="1.65"/><circle cx="96.9" cy="453.1" r="1.65"/><circle cx="97" cy="470.5" r="1.65"/><circle cx="97.2" cy="469.7" r="1.65"/><circle cx="97.3" cy="475.3" r="1.65"/><circle cx="97.8" cy="471.8" r="1.65"/><circle cx="98.4" cy="440.1" r="1.65"/><circle cx="99" cy="477.5" r="1.65"/><circle cx="99.1" cy="436.4" r="1.65"/><circle cx="99.4" cy="470.5" r="1.65"/><circle cx="99.9" cy="475.2" r="1.65"/><circle cx="100.1" cy="481.9" r="1.65"/><circle cx="100.4" cy="485.2" r="1.65"/><circle cx="100.5" cy="460.2" r="1.65"/><circle cx="100.8" cy="468.4" r="1.65"/><circle cx="101.1" cy="465.9" r="1.65"/><circle cx="101.3" cy="406.1" r="1.65"/><circle cx="101.6" cy="380.8" r="1.65"/><circle cx="101.7" cy="426" r="1.65"/><circle cx="102.3" cy="413.9" r="1.65"/><circle cx="102.5" cy="451.4" r="1.65"/><circle cx="102.8" cy="468.6" r="1.65"/><circle cx="103.1" cy="453.2" r="1.65"/><circle cx="103.2" cy="440.2" r="1.65"/><circle cx="103.4" cy="417.9" r="1.65"/><circle cx="103.5" cy="399.7" r="1.65"/><circle cx="103.7" cy="357" r="1.65"/><circle cx="103.8" cy="268" r="1.65"/><circle cx="104" cy="322.2" r="1.65"/><circle cx="104.1" cy="396.5" r="1.65"/><circle cx="104.3" cy="406.5" r="1.65"/><circle cx="104.4" cy="416.8" r="1.65"/><circle cx="105.1" cy="355.1" r="1.65"/><circle cx="105.2" cy="354" r="1.65"/><circle cx="105.5" cy="314.8" r="1.65"/><circle cx="105.8" cy="314.7" r="1.65"/><circle cx="106" cy="258.8" r="1.65"/><circle cx="106.1" cy="273.4" r="1.65"/><circle cx="106.3" cy="279.6" r="1.65"/><circle cx="106.6" cy="309.7" r="1.65"/><circle cx="107" cy="329" r="1.65"/><circle cx="107.2" cy="312" r="1.65"/><circle cx="107.5" cy="363.7" r="1.65"/><circle cx="107.6" cy="420.6" r="1.65"/><circle cx="107.8" cy="254.5" r="1.65"/><circle cx="107.9" cy="228.3" r="1.65"/><circle cx="108.1" cy="349.4" r="1.65"/><circle cx="109" cy="323.5" r="1.65"/><circle cx="109.1" cy="298.9" r="1.65"/><circle cx="109.3" cy="251.4" r="1.65"/><circle cx="109.8" cy="398.7" r="1.65"/><circle cx="110.5" cy="346.1" r="1.65"/><circle cx="111.4" cy="415.9" r="1.65"/><circle cx="111.7" cy="347.8" r="1.65"/><circle cx="111.9" cy="376.2" r="1.65"/><circle cx="112" cy="421.5" r="1.65"/><circle cx="112.2" cy="426.7" r="1.65"/><circle cx="112.3" cy="298.4" r="1.65"/><circle cx="112.8" cy="309.6" r="1.65"/><circle cx="113.2" cy="413.6" r="1.65"/><circle cx="113.5" cy="399.9" r="1.65"/><circle cx="113.7" cy="471.7" r="1.65"/><circle cx="113.8" cy="363.5" r="1.65"/><circle cx="114.8" cy="478" r="1.65"/><circle cx="115.2" cy="414.6" r="1.65"/><circle cx="115.4" cy="373.1" r="1.65"/><circle cx="115.5" cy="415.5" r="1.65"/><circle cx="115.7" cy="438.6" r="1.65"/><circle cx="115.8" cy="405" r="1.65"/><circle cx="116" cy="445.1" r="1.65"/><circle cx="116.1" cy="397.7" r="1.65"/><circle cx="116.4" cy="433.3" r="1.65"/><circle cx="116.6" cy="412.3" r="1.65"/><circle cx="116.9" cy="384.3" r="1.65"/><circle cx="117.5" cy="442.8" r="1.65"/><circle cx="117.6" cy="451.7" r="1.65"/><circle cx="117.9" cy="409.8" r="1.65"/><circle cx="118.2" cy="389.9" r="1.65"/><circle cx="118.4" cy="369" r="1.65"/><circle cx="118.5" cy="346.3" r="1.65"/><circle cx="118.7" cy="418.9" r="1.65"/><circle cx="119" cy="481.5" r="1.65"/><circle cx="119.3" cy="431.7" r="1.65"/><circle cx="119.5" cy="400.1" r="1.65"/><circle cx="119.6" cy="417.7" r="1.65"/><circle cx="119.8" cy="309.3" r="1.65"/><circle cx="119.9" cy="359.2" r="1.65"/><circle cx="120.2" cy="327.6" r="1.65"/><circle cx="120.4" cy="364.3" r="1.65"/><circle cx="120.7" cy="421.7" r="1.65"/><circle cx="120.8" cy="456.9" r="1.65"/><circle cx="121" cy="380.9" r="1.65"/><circle cx="121.1" cy="430.2" r="1.65"/><circle cx="121.3" cy="435.6" r="1.65"/><circle cx="121.6" cy="330.6" r="1.65"/><circle cx="122" cy="388.7" r="1.65"/><circle cx="122.5" cy="458.2" r="1.65"/><circle cx="122.8" cy="313" r="1.65"/><circle cx="122.9" cy="399.8" r="1.65"/><circle cx="123.2" cy="386" r="1.65"/><circle cx="123.4" cy="383.2" r="1.65"/><circle cx="123.9" cy="427.5" r="1.65"/><circle cx="124.5" cy="436.6" r="1.65"/><circle cx="124.8" cy="434.9" r="1.65"/><circle cx="124.9" cy="409.4" r="1.65"/><circle cx="125.1" cy="449.6" r="1.65"/><circle cx="125.2" cy="430.1" r="1.65"/><circle cx="125.4" cy="357.5" r="1.65"/><circle cx="125.5" cy="394.6" r="1.65"/><circle cx="125.8" cy="390.7" r="1.65"/><circle cx="126" cy="463.3" r="1.65"/><circle cx="126.1" cy="389.8" r="1.65"/><circle cx="126.3" cy="423.1" r="1.65"/><circle cx="126.6" cy="466.4" r="1.65"/><circle cx="127.2" cy="484.6" r="1.65"/><circle cx="127.3" cy="440.6" r="1.65"/><circle cx="127.9" cy="389.5" r="1.65"/><circle cx="128.1" cy="419.7" r="1.65"/><circle cx="128.4" cy="479.2" r="1.65"/><circle cx="128.5" cy="460.2" r="1.65"/><circle cx="129" cy="393.3" r="1.65"/><circle cx="129.2" cy="467.5" r="1.65"/><circle cx="129.8" cy="459.8" r="1.65"/><circle cx="129.9" cy="475.6" r="1.65"/><circle cx="130.1" cy="456" r="1.65"/><circle cx="130.2" cy="493" r="1.65"/><circle cx="130.5" cy="473.5" r="1.65"/><circle cx="130.7" cy="467.6" r="1.65"/><circle cx="130.8" cy="429" r="1.65"/><circle cx="131" cy="391.7" r="1.65"/><circle cx="131.3" cy="437.4" r="1.65"/><circle cx="131.6" cy="477.8" r="1.65"/><circle cx="131.7" cy="469.9" r="1.65"/><circle cx="131.9" cy="474" r="1.65"/><circle cx="132" cy="413" r="1.65"/><circle cx="132.5" cy="447.5" r="1.65"/><circle cx="132.6" cy="479.4" r="1.65"/><circle cx="133.2" cy="453.5" r="1.65"/><circle cx="133.4" cy="438.6" r="1.65"/><circle cx="133.6" cy="423.3" r="1.65"/><circle cx="133.9" cy="481.2" r="1.65"/><circle cx="134.3" cy="452.4" r="1.65"/><circle cx="134.5" cy="479.5" r="1.65"/><circle cx="134.9" cy="460.4" r="1.65"/><circle cx="135.1" cy="466" r="1.65"/><circle cx="135.2" cy="443.1" r="1.65"/><circle cx="135.5" cy="483.5" r="1.65"/><circle cx="135.7" cy="476.5" r="1.65"/><circle cx="135.8" cy="432.3" r="1.65"/><circle cx="136" cy="435.4" r="1.65"/><circle cx="136.3" cy="490.8" r="1.65"/><circle cx="136.6" cy="485" r="1.65"/><circle cx="136.7" cy="473.7" r="1.65"/><circle cx="137" cy="462" r="1.65"/><circle cx="137.2" cy="492.1" r="1.65"/><circle cx="137.6" cy="444.8" r="1.65"/><circle cx="137.8" cy="470.3" r="1.65"/><circle cx="137.9" cy="451.3" r="1.65"/><circle cx="138.3" cy="475.9" r="1.65"/><circle cx="138.4" cy="467.5" r="1.65"/><circle cx="138.7" cy="483.5" r="1.65"/><circle cx="139.3" cy="482.1" r="1.65"/><circle cx="139.6" cy="460" r="1.65"/><circle cx="139.8" cy="463.3" r="1.65"/><circle cx="139.9" cy="430" r="1.65"/><circle cx="140.4" cy="500.4" r="1.65"/><circle cx="140.5" cy="489.8" r="1.65"/><circle cx="140.7" cy="491.5" r="1.65"/><circle cx="140.8" cy="489" r="1.65"/><circle cx="141" cy="479.3" r="1.65"/><circle cx="141.1" cy="461.8" r="1.65"/><circle cx="141.3" cy="473.3" r="1.65"/><circle cx="141.4" cy="483.7" r="1.65"/><circle cx="141.7" cy="453.5" r="1.65"/><circle cx="142" cy="482.8" r="1.65"/><circle cx="142.2" cy="494.3" r="1.65"/><circle cx="142.6" cy="475.7" r="1.65"/><circle cx="142.8" cy="483.7" r="1.65"/><circle cx="143" cy="468.7" r="1.65"/><circle cx="143.1" cy="485.7" r="1.65"/><circle cx="143.3" cy="485.6" r="1.65"/><circle cx="143.9" cy="477.3" r="1.65"/><circle cx="144" cy="440.5" r="1.65"/><circle cx="144.3" cy="481.1" r="1.65"/><circle cx="144.5" cy="470" r="1.65"/><circle cx="144.9" cy="459.1" r="1.65"/><circle cx="145.2" cy="465.1" r="1.65"/><circle cx="145.7" cy="448.3" r="1.65"/><circle cx="145.8" cy="464.1" r="1.65"/><circle cx="146.1" cy="476.5" r="1.65"/><circle cx="146.4" cy="460.4" r="1.65"/><circle cx="146.6" cy="475.6" r="1.65"/><circle cx="147" cy="472.6" r="1.65"/><circle cx="147.2" cy="478.7" r="1.65"/><circle cx="147.8" cy="470.3" r="1.65"/><circle cx="149.2" cy="472.6" r="1.65"/><circle cx="149.6" cy="454.6" r="1.65"/><circle cx="149.8" cy="485.3" r="1.65"/><circle cx="149.9" cy="418.5" r="1.65"/><circle cx="150.4" cy="488.3" r="1.65"/><circle cx="150.5" cy="490.1" r="1.65"/><circle cx="150.7" cy="478.2" r="1.65"/><circle cx="150.8" cy="485.7" r="1.65"/><circle cx="151" cy="495.2" r="1.65"/><circle cx="151.3" cy="475.3" r="1.65"/><circle cx="151.4" cy="484.7" r="1.65"/><circle cx="151.6" cy="485" r="1.65"/><circle cx="152" cy="482.2" r="1.65"/><circle cx="152.2" cy="492.7" r="1.65"/><circle cx="152.3" cy="501.4" r="1.65"/><circle cx="152.5" cy="474.1" r="1.65"/><circle cx="152.8" cy="493.5" r="1.65"/><circle cx="153" cy="490" r="1.65"/><circle cx="153.1" cy="495.5" r="1.65"/><circle cx="153.3" cy="492.3" r="1.65"/><circle cx="153.4" cy="491.7" r="1.65"/><circle cx="153.7" cy="444.5" r="1.65"/><circle cx="153.9" cy="490" r="1.65"/><circle cx="154" cy="485.4" r="1.65"/><circle cx="154.2" cy="484.6" r="1.65"/><circle cx="154.3" cy="492.1" r="1.65"/><circle cx="154.6" cy="491.3" r="1.65"/><circle cx="154.8" cy="479.8" r="1.65"/><circle cx="155.1" cy="464.9" r="1.65"/><circle cx="155.2" cy="471.7" r="1.65"/><circle cx="155.7" cy="476.2" r="1.65"/><circle cx="155.8" cy="440.4" r="1.65"/><circle cx="156.1" cy="477.7" r="1.65"/><circle cx="156.3" cy="466.8" r="1.65"/><circle cx="156.4" cy="485.5" r="1.65"/><circle cx="156.9" cy="476.8" r="1.65"/><circle cx="157" cy="454.1" r="1.65"/><circle cx="157.2" cy="481.2" r="1.65"/><circle cx="157.4" cy="444.6" r="1.65"/><circle cx="157.8" cy="473.7" r="1.65"/><circle cx="158" cy="474.3" r="1.65"/><circle cx="158.1" cy="475.6" r="1.65"/><circle cx="158.3" cy="482.1" r="1.65"/><circle cx="158.9" cy="471.5" r="1.65"/><circle cx="159" cy="495.9" r="1.65"/><circle cx="159.2" cy="473.2" r="1.65"/><circle cx="159.3" cy="451.3" r="1.65"/><circle cx="159.6" cy="461.8" r="1.65"/><circle cx="160.1" cy="489.1" r="1.65"/><circle cx="160.2" cy="434.2" r="1.65"/><circle cx="160.4" cy="501" r="1.65"/><circle cx="160.7" cy="487.9" r="1.65"/><circle cx="161.3" cy="500.1" r="1.65"/><circle cx="161.4" cy="492" r="1.65"/><circle cx="161.7" cy="494.8" r="1.65"/><circle cx="161.9" cy="480.2" r="1.65"/><circle cx="162.1" cy="476" r="1.65"/><circle cx="162.4" cy="469.2" r="1.65"/><circle cx="162.7" cy="477" r="1.65"/><circle cx="163" cy="499.5" r="1.65"/><circle cx="163.3" cy="495.2" r="1.65"/><circle cx="163.6" cy="451.3" r="1.65"/><circle cx="163.7" cy="477.6" r="1.65"/><circle cx="163.9" cy="442.5" r="1.65"/><circle cx="164" cy="469.8" r="1.65"/><circle cx="164.3" cy="474.7" r="1.65"/><circle cx="164.5" cy="488.7" r="1.65"/><circle cx="164.6" cy="468.1" r="1.65"/><circle cx="164.8" cy="474.9" r="1.65"/><circle cx="164.9" cy="456.5" r="1.65"/><circle cx="165.2" cy="410.8" r="1.65"/><circle cx="165.5" cy="485.7" r="1.65"/><circle cx="165.7" cy="428.5" r="1.65"/><circle cx="165.8" cy="392.9" r="1.65"/><circle cx="166.4" cy="411.8" r="1.65"/><circle cx="166.6" cy="480.4" r="1.65"/><circle cx="166.9" cy="407.4" r="1.65"/><circle cx="167.1" cy="449.4" r="1.65"/><circle cx="167.2" cy="476.9" r="1.65"/><circle cx="167.4" cy="346.9" r="1.65"/><circle cx="167.8" cy="471.7" r="1.65"/><circle cx="168.1" cy="443.4" r="1.65"/><circle cx="168.3" cy="455.2" r="1.65"/><circle cx="168.4" cy="366.7" r="1.65"/><circle cx="168.6" cy="439.7" r="1.65"/><circle cx="168.7" cy="468.4" r="1.65"/><circle cx="168.9" cy="470.7" r="1.65"/><circle cx="169.2" cy="422.4" r="1.65"/><circle cx="169.3" cy="386.8" r="1.65"/><circle cx="169.6" cy="446.8" r="1.65"/><circle cx="169.9" cy="456.4" r="1.65"/><circle cx="170.2" cy="448.7" r="1.65"/><circle cx="170.5" cy="420.6" r="1.65"/><circle cx="170.7" cy="461.8" r="1.65"/><circle cx="170.8" cy="389.2" r="1.65"/><circle cx="171.3" cy="472.6" r="1.65"/><circle cx="171.4" cy="460.8" r="1.65"/><circle cx="171.8" cy="468.1" r="1.65"/><circle cx="171.9" cy="459.7" r="1.65"/><circle cx="172.1" cy="462.5" r="1.65"/><circle cx="172.2" cy="407.9" r="1.65"/><circle cx="172.4" cy="480.3" r="1.65"/><circle cx="172.5" cy="460.8" r="1.65"/><circle cx="172.7" cy="453.4" r="1.65"/><circle cx="173" cy="483.5" r="1.65"/><circle cx="173.1" cy="465.4" r="1.65"/><circle cx="173.7" cy="472.9" r="1.65"/><circle cx="173.9" cy="444.2" r="1.65"/><circle cx="174" cy="469.9" r="1.65"/><circle cx="174.2" cy="492.4" r="1.65"/><circle cx="174.3" cy="485.1" r="1.65"/><circle cx="175.2" cy="482.2" r="1.65"/><circle cx="175.4" cy="493.4" r="1.65"/><circle cx="175.5" cy="478.2" r="1.65"/><circle cx="175.8" cy="473.8" r="1.65"/><circle cx="176" cy="462.4" r="1.65"/><circle cx="176.1" cy="434.4" r="1.65"/><circle cx="176.8" cy="448.8" r="1.65"/><circle cx="177.2" cy="483.4" r="1.65"/><circle cx="177.4" cy="481.8" r="1.65"/><circle cx="177.5" cy="443.7" r="1.65"/><circle cx="177.7" cy="458.8" r="1.65"/><circle cx="178.1" cy="470.9" r="1.65"/><circle cx="178.6" cy="493.8" r="1.65"/><circle cx="179" cy="494.8" r="1.65"/><circle cx="179.2" cy="494.8" r="1.65"/><circle cx="179.3" cy="473" r="1.65"/><circle cx="179.5" cy="425" r="1.65"/><circle cx="179.8" cy="447" r="1.65"/><circle cx="180.1" cy="486.4" r="1.65"/><circle cx="180.2" cy="468.8" r="1.65"/><circle cx="180.4" cy="477.7" r="1.65"/><circle cx="180.7" cy="475.8" r="1.65"/><circle cx="181" cy="495.6" r="1.65"/><circle cx="181.2" cy="497.2" r="1.65"/><circle cx="181.3" cy="480.5" r="1.65"/><circle cx="181.5" cy="464.1" r="1.65"/><circle cx="182.2" cy="451.9" r="1.65"/><circle cx="182.5" cy="483.9" r="1.65"/><circle cx="182.8" cy="487.2" r="1.65"/><circle cx="183" cy="484" r="1.65"/><circle cx="183.3" cy="486.4" r="1.65"/><circle cx="183.4" cy="480" r="1.65"/><circle cx="183.6" cy="444.5" r="1.65"/><circle cx="183.7" cy="470.9" r="1.65"/><circle cx="183.9" cy="484.4" r="1.65"/><circle cx="184.5" cy="486.7" r="1.65"/><circle cx="184.9" cy="488" r="1.65"/><circle cx="185.1" cy="485.4" r="1.65"/><circle cx="185.4" cy="498.9" r="1.65"/><circle cx="185.5" cy="438.6" r="1.65"/><circle cx="185.7" cy="493.3" r="1.65"/><circle cx="185.8" cy="489.9" r="1.65"/><circle cx="186" cy="486" r="1.65"/><circle cx="186.2" cy="483.7" r="1.65"/><circle cx="186.3" cy="492.3" r="1.65"/><circle cx="186.5" cy="493.4" r="1.65"/><circle cx="186.6" cy="482.2" r="1.65"/><circle cx="186.8" cy="483.8" r="1.65"/><circle cx="186.9" cy="496.2" r="1.65"/><circle cx="187.2" cy="477.1" r="1.65"/><circle cx="187.5" cy="481.6" r="1.65"/><circle cx="188" cy="486.3" r="1.65"/><circle cx="188.1" cy="492.7" r="1.65"/><circle cx="188.9" cy="491.5" r="1.65"/><circle cx="189.5" cy="481.6" r="1.65"/><circle cx="189.6" cy="477.2" r="1.65"/><circle cx="189.8" cy="496.8" r="1.65"/><circle cx="190.1" cy="495.8" r="1.65"/><circle cx="190.2" cy="492.8" r="1.65"/><circle cx="190.4" cy="501.9" r="1.65"/><circle cx="190.7" cy="452.2" r="1.65"/><circle cx="190.9" cy="502" r="1.65"/><circle cx="191.5" cy="493.2" r="1.65"/><circle cx="191.8" cy="504.4" r="1.65"/><circle cx="191.9" cy="494.4" r="1.65"/><circle cx="192.1" cy="491.9" r="1.65"/><circle cx="192.2" cy="493.1" r="1.65"/><circle cx="192.4" cy="484" r="1.65"/><circle cx="192.5" cy="491.4" r="1.65"/><circle cx="192.7" cy="485.4" r="1.65"/><circle cx="192.8" cy="491.5" r="1.65"/><circle cx="193.1" cy="503.6" r="1.65"/><circle cx="193.3" cy="496.1" r="1.65"/><circle cx="193.4" cy="477.2" r="1.65"/><circle cx="193.6" cy="499.3" r="1.65"/><circle cx="193.7" cy="499" r="1.65"/><circle cx="193.9" cy="481" r="1.65"/><circle cx="194.6" cy="501.3" r="1.65"/><circle cx="194.9" cy="493.2" r="1.65"/><circle cx="195.2" cy="476.3" r="1.65"/><circle cx="195.6" cy="490.7" r="1.65"/><circle cx="195.9" cy="492.7" r="1.65"/><circle cx="196" cy="472.6" r="1.65"/><circle cx="196.3" cy="452.9" r="1.65"/><circle cx="196.5" cy="484.6" r="1.65"/><circle cx="196.6" cy="447" r="1.65"/><circle cx="196.8" cy="483.2" r="1.65"/><circle cx="196.9" cy="456.9" r="1.65"/><circle cx="197.4" cy="457.6" r="1.65"/><circle cx="197.5" cy="483.3" r="1.65"/><circle cx="197.7" cy="444.3" r="1.65"/><circle cx="197.8" cy="416.4" r="1.65"/><circle cx="198" cy="493.3" r="1.65"/><circle cx="198.3" cy="479" r="1.65"/><circle cx="198.4" cy="465.2" r="1.65"/><circle cx="198.9" cy="490.5" r="1.65"/><circle cx="199" cy="476" r="1.65"/><circle cx="199.2" cy="473.5" r="1.65"/><circle cx="199.6" cy="473.5" r="1.65"/><circle cx="199.9" cy="479" r="1.65"/><circle cx="200.1" cy="483.8" r="1.65"/><circle cx="200.3" cy="487.1" r="1.65"/><circle cx="200.7" cy="490" r="1.65"/><circle cx="201" cy="487.6" r="1.65"/><circle cx="201.3" cy="499.3" r="1.65"/><circle cx="201.5" cy="482.2" r="1.65"/><circle cx="201.8" cy="481.5" r="1.65"/><circle cx="202.4" cy="457.8" r="1.65"/><circle cx="202.8" cy="475.2" r="1.65"/><circle cx="203" cy="452.9" r="1.65"/><circle cx="203.1" cy="483.9" r="1.65"/><circle cx="203.3" cy="495.6" r="1.65"/><circle cx="203.6" cy="492.3" r="1.65"/><circle cx="203.7" cy="442.5" r="1.65"/><circle cx="203.9" cy="501.1" r="1.65"/><circle cx="204.3" cy="493.1" r="1.65"/><circle cx="204.8" cy="434.6" r="1.65"/><circle cx="204.9" cy="498.7" r="1.65"/><circle cx="205.1" cy="480.2" r="1.65"/><circle cx="205.6" cy="484.1" r="1.65"/><circle cx="205.9" cy="488.6" r="1.65"/><circle cx="206.2" cy="485.3" r="1.65"/><circle cx="206.3" cy="485.3" r="1.65"/><circle cx="206.5" cy="494.5" r="1.65"/><circle cx="206.6" cy="478.4" r="1.65"/><circle cx="206.8" cy="487.5" r="1.65"/><circle cx="206.9" cy="488" r="1.65"/><circle cx="207.1" cy="452.3" r="1.65"/><circle cx="207.4" cy="490.7" r="1.65"/><circle cx="207.5" cy="486.8" r="1.65"/><circle cx="207.8" cy="479.5" r="1.65"/><circle cx="208" cy="475.5" r="1.65"/><circle cx="208.1" cy="471.9" r="1.65"/><circle cx="208.3" cy="480.2" r="1.65"/><circle cx="208.7" cy="454.4" r="1.65"/><circle cx="208.9" cy="470.2" r="1.65"/><circle cx="209.2" cy="456.3" r="1.65"/><circle cx="209.5" cy="458.9" r="1.65"/><circle cx="209.6" cy="480.4" r="1.65"/><circle cx="209.8" cy="488.7" r="1.65"/><circle cx="210.1" cy="493.1" r="1.65"/><circle cx="210.6" cy="460.6" r="1.65"/><circle cx="210.7" cy="481.9" r="1.65"/><circle cx="211.2" cy="491.5" r="1.65"/><circle cx="211.5" cy="478.4" r="1.65"/><circle cx="211.8" cy="447.4" r="1.65"/><circle cx="212.1" cy="477.9" r="1.65"/><circle cx="212.2" cy="427.1" r="1.65"/><circle cx="212.8" cy="435.4" r="1.65"/><circle cx="213" cy="429.2" r="1.65"/><circle cx="213.1" cy="340.1" r="1.65"/><circle cx="213.3" cy="447" r="1.65"/><circle cx="213.4" cy="379.1" r="1.65"/><circle cx="213.6" cy="395.3" r="1.65"/><circle cx="213.7" cy="443.8" r="1.65"/><circle cx="214" cy="454" r="1.65"/><circle cx="214.3" cy="383.5" r="1.65"/><circle cx="214.5" cy="432.4" r="1.65"/><circle cx="214.7" cy="440.6" r="1.65"/><circle cx="214.8" cy="303.1" r="1.65"/><circle cx="215" cy="441.3" r="1.65"/><circle cx="215.1" cy="327.7" r="1.65"/><circle cx="215.3" cy="397.9" r="1.65"/><circle cx="215.6" cy="430.8" r="1.65"/><circle cx="215.9" cy="436.6" r="1.65"/><circle cx="216" cy="415.7" r="1.65"/><circle cx="216.3" cy="368" r="1.65"/><circle cx="216.5" cy="409.1" r="1.65"/><circle cx="216.6" cy="441" r="1.65"/><circle cx="216.8" cy="406.2" r="1.65"/><circle cx="216.9" cy="443.7" r="1.65"/><circle cx="217.2" cy="454.8" r="1.65"/><circle cx="217.4" cy="465.3" r="1.65"/><circle cx="217.5" cy="370.4" r="1.65"/><circle cx="217.7" cy="370.9" r="1.65"/><circle cx="218" cy="436.1" r="1.65"/><circle cx="218.1" cy="360.1" r="1.65"/><circle cx="218.3" cy="444.1" r="1.65"/><circle cx="218.9" cy="460.3" r="1.65"/><circle cx="219" cy="370.6" r="1.65"/><circle cx="219.2" cy="402.6" r="1.65"/><circle cx="219.4" cy="394.3" r="1.65"/><circle cx="219.7" cy="455.2" r="1.65"/><circle cx="219.8" cy="439" r="1.65"/><circle cx="220.3" cy="449.1" r="1.65"/><circle cx="220.4" cy="387.1" r="1.65"/><circle cx="220.7" cy="408.3" r="1.65"/><circle cx="220.9" cy="442.5" r="1.65"/><circle cx="221.2" cy="445.6" r="1.65"/><circle cx="221.3" cy="391.7" r="1.65"/><circle cx="221.5" cy="406.2" r="1.65"/><circle cx="221.6" cy="445.1" r="1.65"/><circle cx="221.8" cy="448" r="1.65"/><circle cx="221.9" cy="474.5" r="1.65"/><circle cx="222.5" cy="435.6" r="1.65"/><circle cx="222.7" cy="448" r="1.65"/><circle cx="222.8" cy="444" r="1.65"/><circle cx="223" cy="470.7" r="1.65"/><circle cx="223.1" cy="388" r="1.65"/><circle cx="223.4" cy="469" r="1.65"/><circle cx="223.6" cy="392.3" r="1.65"/><circle cx="224" cy="473.2" r="1.65"/><circle cx="224.2" cy="467.8" r="1.65"/><circle cx="224.5" cy="478.3" r="1.65"/><circle cx="224.7" cy="442" r="1.65"/><circle cx="225.1" cy="459.6" r="1.65"/><circle cx="225.4" cy="453.5" r="1.65"/><circle cx="225.6" cy="462.2" r="1.65"/><circle cx="225.9" cy="459.9" r="1.65"/><circle cx="226.2" cy="475.7" r="1.65"/><circle cx="226.3" cy="397.3" r="1.65"/><circle cx="226.5" cy="460.4" r="1.65"/><circle cx="226.6" cy="486.6" r="1.65"/><circle cx="226.8" cy="487.7" r="1.65"/><circle cx="226.9" cy="479.6" r="1.65"/><circle cx="227.1" cy="457.8" r="1.65"/><circle cx="227.2" cy="487.3" r="1.65"/><circle cx="227.4" cy="475.9" r="1.65"/><circle cx="227.5" cy="463.9" r="1.65"/><circle cx="228.1" cy="477.3" r="1.65"/><circle cx="228.3" cy="491.6" r="1.65"/><circle cx="228.4" cy="462.4" r="1.65"/><circle cx="228.7" cy="480" r="1.65"/><circle cx="228.9" cy="459.1" r="1.65"/><circle cx="229.1" cy="486.6" r="1.65"/><circle cx="229.2" cy="487.1" r="1.65"/><circle cx="229.4" cy="487.2" r="1.65"/><circle cx="229.5" cy="472.3" r="1.65"/><circle cx="230" cy="479.5" r="1.65"/><circle cx="230.1" cy="492.3" r="1.65"/><circle cx="230.3" cy="467.2" r="1.65"/><circle cx="230.6" cy="461.3" r="1.65"/><circle cx="231.2" cy="492.6" r="1.65"/><circle cx="231.3" cy="474.5" r="1.65"/><circle cx="231.5" cy="476.7" r="1.65"/><circle cx="231.6" cy="497.5" r="1.65"/><circle cx="231.9" cy="493.8" r="1.65"/><circle cx="232.2" cy="501.8" r="1.65"/><circle cx="232.4" cy="489.5" r="1.65"/><circle cx="232.5" cy="460" r="1.65"/><circle cx="232.7" cy="500.4" r="1.65"/><circle cx="232.8" cy="481.1" r="1.65"/><circle cx="233" cy="473.7" r="1.65"/><circle cx="233.1" cy="494" r="1.65"/><circle cx="233.3" cy="489.3" r="1.65"/><circle cx="233.4" cy="439.7" r="1.65"/><circle cx="233.6" cy="486.5" r="1.65"/><circle cx="233.8" cy="497.6" r="1.65"/><circle cx="233.9" cy="494.4" r="1.65"/><circle cx="234.2" cy="489.1" r="1.65"/><circle cx="234.7" cy="479.8" r="1.65"/><circle cx="234.8" cy="440.6" r="1.65"/><circle cx="235" cy="500.8" r="1.65"/><circle cx="235.3" cy="468.5" r="1.65"/><circle cx="235.4" cy="487.2" r="1.65"/><circle cx="235.7" cy="492.9" r="1.65"/><circle cx="235.9" cy="497.3" r="1.65"/><circle cx="236" cy="488.9" r="1.65"/><circle cx="236.2" cy="494.1" r="1.65"/><circle cx="236.3" cy="473.1" r="1.65"/><circle cx="236.5" cy="469" r="1.65"/><circle cx="236.8" cy="449.5" r="1.65"/><circle cx="237.2" cy="492" r="1.65"/><circle cx="237.7" cy="472.9" r="1.65"/><circle cx="238.5" cy="438.7" r="1.65"/><circle cx="238.8" cy="471.7" r="1.65"/><circle cx="238.9" cy="481.7" r="1.65"/><circle cx="239.1" cy="489.8" r="1.65"/><circle cx="239.2" cy="480.7" r="1.65"/><circle cx="239.4" cy="496.6" r="1.65"/><circle cx="239.5" cy="485.3" r="1.65"/><circle cx="239.7" cy="475" r="1.65"/><circle cx="239.8" cy="490" r="1.65"/><circle cx="240" cy="467.4" r="1.65"/><circle cx="240.1" cy="469.2" r="1.65"/><circle cx="240.3" cy="472.6" r="1.65"/><circle cx="240.4" cy="496.4" r="1.65"/><circle cx="240.7" cy="479.4" r="1.65"/><circle cx="240.9" cy="485.2" r="1.65"/><circle cx="241" cy="479.2" r="1.65"/><circle cx="241.2" cy="490.2" r="1.65"/><circle cx="241.3" cy="492.7" r="1.65"/><circle cx="241.5" cy="453.8" r="1.65"/><circle cx="241.8" cy="456.8" r="1.65"/><circle cx="242.1" cy="490.8" r="1.65"/><circle cx="242.2" cy="494.2" r="1.65"/><circle cx="242.4" cy="477.4" r="1.65"/><circle cx="242.5" cy="491.1" r="1.65"/><circle cx="242.7" cy="471.2" r="1.65"/><circle cx="242.8" cy="464.6" r="1.65"/><circle cx="243" cy="488.6" r="1.65"/><circle cx="243.1" cy="476.3" r="1.65"/><circle cx="243.3" cy="489.7" r="1.65"/><circle cx="243.5" cy="496.7" r="1.65"/><circle cx="243.6" cy="490.8" r="1.65"/><circle cx="243.8" cy="462.8" r="1.65"/><circle cx="243.9" cy="492" r="1.65"/><circle cx="244.2" cy="432" r="1.65"/><circle cx="244.4" cy="462.4" r="1.65"/><circle cx="244.7" cy="482.6" r="1.65"/><circle cx="244.8" cy="480.7" r="1.65"/><circle cx="245.3" cy="474.9" r="1.65"/><circle cx="245.4" cy="475" r="1.65"/><circle cx="246.2" cy="474.6" r="1.65"/><circle cx="246.3" cy="464.1" r="1.65"/><circle cx="246.5" cy="476.6" r="1.65"/><circle cx="246.9" cy="493.5" r="1.65"/><circle cx="247.2" cy="485.5" r="1.65"/><circle cx="247.4" cy="475.2" r="1.65"/><circle cx="247.5" cy="496.6" r="1.65"/><circle cx="247.7" cy="466.4" r="1.65"/><circle cx="247.8" cy="461.5" r="1.65"/><circle cx="248.2" cy="476.5" r="1.65"/><circle cx="248.3" cy="474.8" r="1.65"/><circle cx="248.5" cy="485.2" r="1.65"/><circle cx="248.8" cy="486.1" r="1.65"/><circle cx="248.9" cy="440.7" r="1.65"/><circle cx="249.1" cy="497.4" r="1.65"/><circle cx="249.2" cy="472.1" r="1.65"/><circle cx="249.4" cy="499.6" r="1.65"/><circle cx="249.5" cy="491.1" r="1.65"/><circle cx="249.8" cy="453.7" r="1.65"/><circle cx="250.1" cy="487.8" r="1.65"/><circle cx="250.6" cy="483.7" r="1.65"/><circle cx="250.7" cy="470.8" r="1.65"/><circle cx="251" cy="484.7" r="1.65"/><circle cx="251.9" cy="484" r="1.65"/><circle cx="252.2" cy="496.6" r="1.65"/><circle cx="252.4" cy="450.5" r="1.65"/><circle cx="252.5" cy="478.1" r="1.65"/><circle cx="252.7" cy="500.8" r="1.65"/><circle cx="253" cy="483.1" r="1.65"/><circle cx="253.2" cy="502.1" r="1.65"/><circle cx="253.3" cy="482.4" r="1.65"/><circle cx="253.5" cy="490.2" r="1.65"/><circle cx="253.6" cy="494.6" r="1.65"/><circle cx="253.8" cy="481.6" r="1.65"/><circle cx="253.9" cy="494" r="1.65"/><circle cx="254.1" cy="491.9" r="1.65"/><circle cx="254.2" cy="496.5" r="1.65"/><circle cx="254.4" cy="499.6" r="1.65"/><circle cx="254.7" cy="493.9" r="1.65"/><circle cx="254.8" cy="489.8" r="1.65"/><circle cx="255.1" cy="490.7" r="1.65"/><circle cx="255.3" cy="499.5" r="1.65"/><circle cx="255.7" cy="483.7" r="1.65"/><circle cx="255.9" cy="493.2" r="1.65"/><circle cx="256" cy="484.6" r="1.65"/><circle cx="256.3" cy="487.8" r="1.65"/><circle cx="256.6" cy="490.2" r="1.65"/><circle cx="256.9" cy="484.8" r="1.65"/><circle cx="257.1" cy="474.1" r="1.65"/><circle cx="257.7" cy="482.6" r="1.65"/><circle cx="257.9" cy="492" r="1.65"/><circle cx="258.6" cy="456.1" r="1.65"/><circle cx="258.8" cy="481.1" r="1.65"/><circle cx="259.1" cy="470.8" r="1.65"/><circle cx="259.2" cy="482.7" r="1.65"/><circle cx="259.4" cy="486.2" r="1.65"/><circle cx="259.5" cy="485.4" r="1.65"/><circle cx="260" cy="474.8" r="1.65"/><circle cx="260.3" cy="470.8" r="1.65"/><circle cx="260.6" cy="481.8" r="1.65"/><circle cx="261" cy="464.7" r="1.65"/><circle cx="261.3" cy="426.8" r="1.65"/><circle cx="261.5" cy="437.8" r="1.65"/><circle cx="261.6" cy="466.2" r="1.65"/><circle cx="262.1" cy="464.9" r="1.65"/><circle cx="262.2" cy="446.2" r="1.65"/><circle cx="262.4" cy="431" r="1.65"/><circle cx="262.6" cy="495.5" r="1.65"/><circle cx="262.7" cy="469.1" r="1.65"/><circle cx="262.9" cy="462.1" r="1.65"/><circle cx="263" cy="480.5" r="1.65"/><circle cx="263.5" cy="470.1" r="1.65"/><circle cx="263.6" cy="493.4" r="1.65"/><circle cx="264.2" cy="477.9" r="1.65"/><circle cx="264.5" cy="495.2" r="1.65"/><circle cx="264.8" cy="496.1" r="1.65"/><circle cx="265" cy="431" r="1.65"/><circle cx="265.1" cy="485.1" r="1.65"/><circle cx="265.4" cy="497.9" r="1.65"/><circle cx="265.6" cy="478.1" r="1.65"/><circle cx="265.7" cy="487.9" r="1.65"/><circle cx="265.9" cy="479.4" r="1.65"/><circle cx="266" cy="486.7" r="1.65"/><circle cx="266.2" cy="458.2" r="1.65"/><circle cx="266.3" cy="493.5" r="1.65"/><circle cx="266.6" cy="484.2" r="1.65"/><circle cx="266.8" cy="474.9" r="1.65"/><circle cx="266.9" cy="492.9" r="1.65"/><circle cx="267.1" cy="469.3" r="1.65"/><circle cx="267.3" cy="486.6" r="1.65"/><circle cx="267.4" cy="476.6" r="1.65"/><circle cx="267.6" cy="496.4" r="1.65"/><circle cx="267.9" cy="475.2" r="1.65"/><circle cx="268" cy="489.7" r="1.65"/><circle cx="268.2" cy="497" r="1.65"/><circle cx="268.3" cy="492.1" r="1.65"/><circle cx="268.6" cy="472.2" r="1.65"/><circle cx="268.9" cy="481.3" r="1.65"/><circle cx="269.1" cy="462.2" r="1.65"/><circle cx="269.4" cy="498" r="1.65"/><circle cx="269.5" cy="489.6" r="1.65"/><circle cx="269.7" cy="497.9" r="1.65"/><circle cx="270.1" cy="480.4" r="1.65"/><circle cx="270.7" cy="490.9" r="1.65"/><circle cx="271.2" cy="504.7" r="1.65"/><circle cx="271.3" cy="488.3" r="1.65"/><circle cx="271.5" cy="495" r="1.65"/><circle cx="271.6" cy="473.6" r="1.65"/><circle cx="271.8" cy="491" r="1.65"/><circle cx="272" cy="487.3" r="1.65"/><circle cx="272.3" cy="453.2" r="1.65"/><circle cx="272.4" cy="502.6" r="1.65"/><circle cx="272.6" cy="501.6" r="1.65"/><circle cx="272.7" cy="494.8" r="1.65"/><circle cx="273" cy="486.4" r="1.65"/><circle cx="273.2" cy="493.4" r="1.65"/><circle cx="273.8" cy="484.3" r="1.65"/><circle cx="274.5" cy="489.6" r="1.65"/><circle cx="274.8" cy="496.8" r="1.65"/><circle cx="275.1" cy="456.1" r="1.65"/><circle cx="275.4" cy="495.7" r="1.65"/><circle cx="275.6" cy="496.3" r="1.65"/><circle cx="275.7" cy="481.8" r="1.65"/><circle cx="275.9" cy="490.7" r="1.65"/><circle cx="276" cy="496.3" r="1.65"/><circle cx="276.5" cy="489.1" r="1.65"/><circle cx="276.8" cy="448.1" r="1.65"/><circle cx="277" cy="489.3" r="1.65"/><circle cx="277.3" cy="494" r="1.65"/><circle cx="277.4" cy="483.9" r="1.65"/><circle cx="277.6" cy="489.3" r="1.65"/><circle cx="277.9" cy="484.5" r="1.65"/><circle cx="278.2" cy="495" r="1.65"/><circle cx="278.5" cy="480" r="1.65"/><circle cx="278.6" cy="473.7" r="1.65"/><circle cx="278.8" cy="496" r="1.65"/><circle cx="278.9" cy="491.8" r="1.65"/><circle cx="279.1" cy="487.3" r="1.65"/><circle cx="279.2" cy="486.1" r="1.65"/><circle cx="279.4" cy="498.1" r="1.65"/><circle cx="279.5" cy="490.4" r="1.65"/><circle cx="279.7" cy="487.1" r="1.65"/><circle cx="279.8" cy="452.6" r="1.65"/><circle cx="280.1" cy="497.4" r="1.65"/><circle cx="280.4" cy="495.1" r="1.65"/><circle cx="280.7" cy="477.6" r="1.65"/><circle cx="281" cy="493.8" r="1.65"/><circle cx="281.3" cy="490.3" r="1.65"/><circle cx="281.5" cy="485.8" r="1.65"/><circle cx="281.8" cy="491.9" r="1.65"/><circle cx="282" cy="474.7" r="1.65"/><circle cx="282.4" cy="477.5" r="1.65"/><circle cx="282.6" cy="462.3" r="1.65"/><circle cx="282.7" cy="490.7" r="1.65"/><circle cx="283" cy="500.9" r="1.65"/><circle cx="283.3" cy="484.9" r="1.65"/><circle cx="283.6" cy="436.9" r="1.65"/><circle cx="284.4" cy="493.8" r="1.65"/><circle cx="284.5" cy="473.4" r="1.65"/><circle cx="284.7" cy="476.1" r="1.65"/><circle cx="285.1" cy="465.6" r="1.65"/><circle cx="285.4" cy="455.5" r="1.65"/><circle cx="285.6" cy="478.6" r="1.65"/><circle cx="285.7" cy="441.3" r="1.65"/><circle cx="286" cy="476.4" r="1.65"/><circle cx="286.2" cy="477.5" r="1.65"/><circle cx="286.4" cy="485.8" r="1.65"/><circle cx="286.7" cy="493.7" r="1.65"/><circle cx="286.8" cy="481.8" r="1.65"/><circle cx="287" cy="497.1" r="1.65"/><circle cx="287.3" cy="492.7" r="1.65"/><circle cx="287.4" cy="496.9" r="1.65"/><circle cx="287.9" cy="492.5" r="1.65"/><circle cx="288.3" cy="485.8" r="1.65"/><circle cx="288.6" cy="492.3" r="1.65"/><circle cx="288.9" cy="497.2" r="1.65"/><circle cx="289.1" cy="493.8" r="1.65"/><circle cx="290" cy="444" r="1.65"/><circle cx="290.3" cy="500.5" r="1.65"/><circle cx="290.7" cy="496.5" r="1.65"/><circle cx="291.1" cy="484.1" r="1.65"/><circle cx="291.2" cy="471.2" r="1.65"/><circle cx="291.5" cy="496.3" r="1.65"/><circle cx="291.7" cy="500.4" r="1.65"/><circle cx="292" cy="486.8" r="1.65"/><circle cx="292.1" cy="482.8" r="1.65"/><circle cx="292.4" cy="490.7" r="1.65"/><circle cx="292.6" cy="497" r="1.65"/><circle cx="293.2" cy="486.2" r="1.65"/><circle cx="293.6" cy="484" r="1.65"/><circle cx="293.8" cy="497.8" r="1.65"/><circle cx="293.9" cy="468.1" r="1.65"/><circle cx="294.1" cy="493.4" r="1.65"/><circle cx="294.2" cy="485.1" r="1.65"/><circle cx="294.7" cy="491.5" r="1.65"/><circle cx="294.8" cy="482" r="1.65"/><circle cx="295" cy="485.7" r="1.65"/><circle cx="295.6" cy="474.7" r="1.65"/><circle cx="295.9" cy="494.1" r="1.65"/><circle cx="296.5" cy="500.9" r="1.65"/><circle cx="296.8" cy="501.6" r="1.65"/><circle cx="297" cy="491.2" r="1.65"/><circle cx="297.1" cy="496.4" r="1.65"/><circle cx="297.3" cy="496.3" r="1.65"/><circle cx="297.6" cy="500.7" r="1.65"/><circle cx="298" cy="491.8" r="1.65"/><circle cx="298.2" cy="495.1" r="1.65"/><circle cx="298.5" cy="483.9" r="1.65"/><circle cx="298.6" cy="478.6" r="1.65"/><circle cx="298.8" cy="501.1" r="1.65"/><circle cx="299.2" cy="495.3" r="1.65"/><circle cx="299.4" cy="487.4" r="1.65"/><circle cx="300" cy="499.5" r="1.65"/><circle cx="300.1" cy="491.5" r="1.65"/><circle cx="300.3" cy="501.8" r="1.65"/><circle cx="300.4" cy="499.1" r="1.65"/><circle cx="300.8" cy="491.8" r="1.65"/><circle cx="301.1" cy="498.5" r="1.65"/><circle cx="301.2" cy="494.9" r="1.65"/><circle cx="301.4" cy="503.9" r="1.65"/><circle cx="301.7" cy="495.3" r="1.65"/><circle cx="302" cy="497" r="1.65"/><circle cx="302.1" cy="488.5" r="1.65"/><circle cx="302.3" cy="498" r="1.65"/><circle cx="302.6" cy="499.8" r="1.65"/><circle cx="303" cy="496.8" r="1.65"/><circle cx="303.3" cy="487.3" r="1.65"/><circle cx="303.8" cy="492.3" r="1.65"/><circle cx="303.9" cy="486.6" r="1.65"/><circle cx="304.1" cy="498.1" r="1.65"/><circle cx="304.2" cy="491.6" r="1.65"/><circle cx="304.4" cy="500" r="1.65"/><circle cx="304.7" cy="490.1" r="1.65"/><circle cx="305.1" cy="484.2" r="1.65"/><circle cx="305.3" cy="485.4" r="1.65"/><circle cx="305.5" cy="496.2" r="1.65"/><circle cx="305.8" cy="497.9" r="1.65"/><circle cx="305.9" cy="500.8" r="1.65"/><circle cx="306.1" cy="491.1" r="1.65"/><circle cx="306.5" cy="489.3" r="1.65"/><circle cx="306.7" cy="500.1" r="1.65"/><circle cx="306.8" cy="503.6" r="1.65"/><circle cx="307.1" cy="503.8" r="1.65"/><circle cx="307.3" cy="479.6" r="1.65"/><circle cx="307.4" cy="501.1" r="1.65"/><circle cx="307.9" cy="469.4" r="1.65"/><circle cx="308.3" cy="453.6" r="1.65"/><circle cx="308.6" cy="488.4" r="1.65"/><circle cx="308.8" cy="492.6" r="1.65"/><circle cx="308.9" cy="493.6" r="1.65"/><circle cx="309.1" cy="481.7" r="1.65"/><circle cx="310" cy="490.4" r="1.65"/><circle cx="310.8" cy="498.8" r="1.65"/><circle cx="310.9" cy="469" r="1.65"/><circle cx="311.1" cy="474.2" r="1.65"/><circle cx="311.4" cy="481.8" r="1.65"/><circle cx="311.7" cy="491.8" r="1.65"/><circle cx="311.8" cy="486.8" r="1.65"/><circle cx="312" cy="480.5" r="1.65"/><circle cx="312.1" cy="468.7" r="1.65"/><circle cx="312.4" cy="502" r="1.65"/><circle cx="312.6" cy="495.5" r="1.65"/><circle cx="313.2" cy="492.1" r="1.65"/><circle cx="313.8" cy="491.8" r="1.65"/><circle cx="313.9" cy="481.8" r="1.65"/><circle cx="314.1" cy="459.7" r="1.65"/><circle cx="314.7" cy="462.4" r="1.65"/><circle cx="314.9" cy="446" r="1.65"/><circle cx="315" cy="451.1" r="1.65"/><circle cx="315.2" cy="495.1" r="1.65"/><circle cx="315.3" cy="494.2" r="1.65"/><circle cx="315.6" cy="483.4" r="1.65"/><circle cx="315.8" cy="492.1" r="1.65"/><circle cx="315.9" cy="465.8" r="1.65"/><circle cx="316.1" cy="488.9" r="1.65"/><circle cx="316.2" cy="492.7" r="1.65"/><circle cx="316.4" cy="483" r="1.65"/><circle cx="316.5" cy="447.8" r="1.65"/><circle cx="316.7" cy="476.1" r="1.65"/><circle cx="317" cy="495.3" r="1.65"/><circle cx="317.1" cy="466" r="1.65"/><circle cx="317.3" cy="479.9" r="1.65"/><circle cx="317.4" cy="495.4" r="1.65"/><circle cx="317.6" cy="490.9" r="1.65"/><circle cx="317.7" cy="497.1" r="1.65"/><circle cx="317.9" cy="475.3" r="1.65"/><circle cx="318.2" cy="492.1" r="1.65"/><circle cx="318.5" cy="495.2" r="1.65"/><circle cx="318.8" cy="494.4" r="1.65"/><circle cx="318.9" cy="488.1" r="1.65"/><circle cx="319.5" cy="483.3" r="1.65"/><circle cx="319.7" cy="501.8" r="1.65"/><circle cx="319.9" cy="499.2" r="1.65"/><circle cx="320.5" cy="503.6" r="1.65"/><circle cx="320.6" cy="486.7" r="1.65"/><circle cx="320.8" cy="494.7" r="1.65"/><circle cx="320.9" cy="501.4" r="1.65"/><circle cx="321.1" cy="483.7" r="1.65"/><circle cx="321.7" cy="504.2" r="1.65"/><circle cx="321.8" cy="483.9" r="1.65"/><circle cx="322" cy="483.1" r="1.65"/><circle cx="322.1" cy="497.9" r="1.65"/><circle cx="322.3" cy="492.3" r="1.65"/><circle cx="322.6" cy="501.8" r="1.65"/><circle cx="322.7" cy="496.7" r="1.65"/><circle cx="323.3" cy="495" r="1.65"/><circle cx="323.5" cy="493" r="1.65"/><circle cx="323.8" cy="499.2" r="1.65"/><circle cx="323.9" cy="497.5" r="1.65"/><circle cx="324.2" cy="491.6" r="1.65"/><circle cx="324.4" cy="492.7" r="1.65"/><circle cx="324.6" cy="499.8" r="1.65"/><circle cx="324.7" cy="485.3" r="1.65"/><circle cx="324.9" cy="499.7" r="1.65"/><circle cx="325" cy="500.3" r="1.65"/><circle cx="325.2" cy="494.7" r="1.65"/><circle cx="325.3" cy="499.2" r="1.65"/><circle cx="325.6" cy="498.8" r="1.65"/><circle cx="325.8" cy="460.4" r="1.65"/><circle cx="325.9" cy="499.4" r="1.65"/><circle cx="326.1" cy="495.1" r="1.65"/><circle cx="326.2" cy="503.3" r="1.65"/><circle cx="326.4" cy="494.6" r="1.65"/><circle cx="326.5" cy="487.9" r="1.65"/><circle cx="326.7" cy="494.7" r="1.65"/><circle cx="326.8" cy="452" r="1.65"/><circle cx="327" cy="482.4" r="1.65"/><circle cx="327.3" cy="501" r="1.65"/><circle cx="327.4" cy="476.1" r="1.65"/><circle cx="327.6" cy="501.8" r="1.65"/><circle cx="327.9" cy="474.5" r="1.65"/><circle cx="328" cy="500.2" r="1.65"/><circle cx="328.3" cy="496.1" r="1.65"/><circle cx="328.5" cy="489.3" r="1.65"/><circle cx="328.6" cy="495.7" r="1.65"/><circle cx="328.8" cy="503" r="1.65"/><circle cx="329.1" cy="506.1" r="1.65"/><circle cx="329.3" cy="495.3" r="1.65"/><circle cx="329.4" cy="502.8" r="1.65"/><circle cx="329.6" cy="493.1" r="1.65"/><circle cx="329.9" cy="499.2" r="1.65"/><circle cx="330" cy="501.5" r="1.65"/><circle cx="330.2" cy="500.8" r="1.65"/><circle cx="330.3" cy="505.6" r="1.65"/><circle cx="330.6" cy="496.2" r="1.65"/><circle cx="330.9" cy="479.7" r="1.65"/><circle cx="331.1" cy="498.6" r="1.65"/><circle cx="331.4" cy="484.1" r="1.65"/><circle cx="331.8" cy="496" r="1.65"/><circle cx="332" cy="486.3" r="1.65"/><circle cx="332.6" cy="495.1" r="1.65"/><circle cx="332.9" cy="488" r="1.65"/><circle cx="333.2" cy="492.2" r="1.65"/><circle cx="333.6" cy="469.1" r="1.65"/><circle cx="334.1" cy="457.2" r="1.65"/><circle cx="334.3" cy="455.9" r="1.65"/><circle cx="334.6" cy="437.5" r="1.65"/><circle cx="335.2" cy="455.9" r="1.65"/><circle cx="335.5" cy="427.4" r="1.65"/><circle cx="335.8" cy="472.5" r="1.65"/><circle cx="335.9" cy="471.1" r="1.65"/><circle cx="336.1" cy="412.5" r="1.65"/><circle cx="336.2" cy="455.9" r="1.65"/><circle cx="336.4" cy="483.8" r="1.65"/><circle cx="336.7" cy="456.7" r="1.65"/><circle cx="336.8" cy="475.5" r="1.65"/><circle cx="337.3" cy="470" r="1.65"/><circle cx="337.4" cy="501.2" r="1.65"/><circle cx="337.6" cy="470.4" r="1.65"/><circle cx="337.7" cy="481.9" r="1.65"/><circle cx="338" cy="500.9" r="1.65"/><circle cx="338.3" cy="496.4" r="1.65"/><circle cx="338.5" cy="454.4" r="1.65"/><circle cx="338.6" cy="478.6" r="1.65"/><circle cx="339" cy="491.9" r="1.65"/><circle cx="339.3" cy="482.8" r="1.65"/><circle cx="339.4" cy="499.8" r="1.65"/><circle cx="339.6" cy="494" r="1.65"/><circle cx="339.7" cy="491.6" r="1.65"/><circle cx="340.2" cy="459.7" r="1.65"/><circle cx="340.5" cy="499.1" r="1.65"/><circle cx="340.8" cy="496.6" r="1.65"/><circle cx="341.1" cy="496.1" r="1.65"/><circle cx="341.2" cy="496.3" r="1.65"/><circle cx="341.4" cy="489.1" r="1.65"/><circle cx="341.5" cy="464.6" r="1.65"/><circle cx="341.7" cy="485" r="1.65"/><circle cx="341.8" cy="484.9" r="1.65"/><circle cx="342" cy="465.9" r="1.65"/><circle cx="342.1" cy="474.3" r="1.65"/><circle cx="342.3" cy="486.7" r="1.65"/><circle cx="342.4" cy="485.7" r="1.65"/><circle cx="342.7" cy="461.5" r="1.65"/><circle cx="342.9" cy="474.7" r="1.65"/><circle cx="343" cy="487.2" r="1.65"/><circle cx="343.3" cy="481" r="1.65"/><circle cx="343.7" cy="473.6" r="1.65"/><circle cx="343.8" cy="470.3" r="1.65"/><circle cx="344.1" cy="434.8" r="1.65"/><circle cx="344.3" cy="477.3" r="1.65"/><circle cx="344.4" cy="475.2" r="1.65"/><circle cx="344.7" cy="474.2" r="1.65"/><circle cx="345" cy="464.1" r="1.65"/><circle cx="345.3" cy="465.1" r="1.65"/><circle cx="345.8" cy="476.7" r="1.65"/><circle cx="345.9" cy="475.7" r="1.65"/><circle cx="346.1" cy="473.9" r="1.65"/><circle cx="346.4" cy="487.1" r="1.65"/><circle cx="346.5" cy="480.9" r="1.65"/><circle cx="346.8" cy="467.3" r="1.65"/><circle cx="347.1" cy="485" r="1.65"/><circle cx="347.3" cy="481.7" r="1.65"/><circle cx="347.4" cy="481.2" r="1.65"/><circle cx="347.6" cy="490.5" r="1.65"/><circle cx="348.2" cy="484.4" r="1.65"/><circle cx="348.5" cy="494.5" r="1.65"/><circle cx="348.7" cy="449.7" r="1.65"/><circle cx="348.8" cy="483.2" r="1.65"/><circle cx="349.1" cy="484" r="1.65"/><circle cx="349.4" cy="495.3" r="1.65"/><circle cx="350" cy="492.3" r="1.65"/><circle cx="350.5" cy="482" r="1.65"/><circle cx="350.9" cy="478.5" r="1.65"/><circle cx="351.1" cy="492.2" r="1.65"/><circle cx="351.2" cy="499.8" r="1.65"/><circle cx="351.4" cy="487.3" r="1.65"/><circle cx="351.5" cy="493.9" r="1.65"/><circle cx="351.7" cy="475" r="1.65"/><circle cx="351.8" cy="454.6" r="1.65"/><circle cx="352" cy="449.1" r="1.65"/><circle cx="352.1" cy="467.8" r="1.65"/><circle cx="352.3" cy="469.9" r="1.65"/><circle cx="352.4" cy="478.5" r="1.65"/><circle cx="352.6" cy="495.6" r="1.65"/><circle cx="352.7" cy="479.2" r="1.65"/><circle cx="353.1" cy="490.9" r="1.65"/><circle cx="353.7" cy="495.1" r="1.65"/><circle cx="354" cy="494.6" r="1.65"/><circle cx="354.6" cy="448" r="1.65"/><circle cx="354.7" cy="479.4" r="1.65"/><circle cx="355" cy="489" r="1.65"/><circle cx="355.3" cy="454.2" r="1.65"/><circle cx="355.5" cy="501.7" r="1.65"/><circle cx="355.6" cy="498" r="1.65"/><circle cx="356.1" cy="496" r="1.65"/><circle cx="356.2" cy="500.2" r="1.65"/><circle cx="356.4" cy="492.8" r="1.65"/><circle cx="356.5" cy="494.1" r="1.65"/><circle cx="356.8" cy="498.1" r="1.65"/><circle cx="357.3" cy="495.8" r="1.65"/><circle cx="357.6" cy="494.3" r="1.65"/><circle cx="357.7" cy="464.7" r="1.65"/><circle cx="357.9" cy="496.6" r="1.65"/><circle cx="358.2" cy="487.9" r="1.65"/><circle cx="358.5" cy="491.8" r="1.65"/><circle cx="358.8" cy="501.1" r="1.65"/><circle cx="359" cy="489.4" r="1.65"/><circle cx="359.1" cy="495.1" r="1.65"/><circle cx="359.9" cy="473.3" r="1.65"/><circle cx="360" cy="502.9" r="1.65"/><circle cx="360.2" cy="491.9" r="1.65"/><circle cx="360.3" cy="482.1" r="1.65"/><circle cx="360.5" cy="502.8" r="1.65"/><circle cx="360.6" cy="499.1" r="1.65"/><circle cx="360.8" cy="487.3" r="1.65"/><circle cx="360.9" cy="474.2" r="1.65"/><circle cx="361.2" cy="491.5" r="1.65"/><circle cx="361.4" cy="492" r="1.65"/><circle cx="361.5" cy="484.9" r="1.65"/><circle cx="361.7" cy="499" r="1.65"/><circle cx="361.8" cy="485.7" r="1.65"/><circle cx="362.1" cy="483.9" r="1.65"/><circle cx="362.3" cy="495.8" r="1.65"/><circle cx="362.4" cy="479.9" r="1.65"/><circle cx="362.6" cy="474.2" r="1.65"/><circle cx="363.8" cy="484" r="1.65"/><circle cx="364" cy="488.4" r="1.65"/><circle cx="364.1" cy="496.7" r="1.65"/><circle cx="364.9" cy="499.1" r="1.65"/><circle cx="365" cy="478.3" r="1.65"/><circle cx="365.3" cy="478.2" r="1.65"/><circle cx="365.5" cy="497.5" r="1.65"/><circle cx="365.9" cy="465.4" r="1.65"/><circle cx="366.1" cy="452.8" r="1.65"/><circle cx="366.5" cy="475.1" r="1.65"/><circle cx="366.7" cy="498.1" r="1.65"/><circle cx="367.1" cy="451.8" r="1.65"/><circle cx="367.3" cy="445.5" r="1.65"/><circle cx="367.9" cy="418.3" r="1.65"/><circle cx="368.1" cy="446.1" r="1.65"/><circle cx="368.2" cy="456.7" r="1.65"/><circle cx="368.4" cy="412.5" r="1.65"/><circle cx="368.7" cy="437.9" r="1.65"/><circle cx="368.8" cy="444.6" r="1.65"/><circle cx="369" cy="420.6" r="1.65"/><circle cx="369.1" cy="465.5" r="1.65"/><circle cx="369.4" cy="467" r="1.65"/><circle cx="369.6" cy="456.5" r="1.65"/><circle cx="369.9" cy="402.5" r="1.65"/><circle cx="370" cy="448.2" r="1.65"/><circle cx="370.2" cy="441.6" r="1.65"/><circle cx="370.3" cy="435.1" r="1.65"/><circle cx="370.6" cy="463.8" r="1.65"/><circle cx="370.8" cy="487.5" r="1.65"/><circle cx="371.1" cy="399.7" r="1.65"/><circle cx="371.2" cy="467.3" r="1.65"/><circle cx="371.4" cy="482.2" r="1.65"/><circle cx="371.7" cy="475.2" r="1.65"/><circle cx="371.8" cy="428.8" r="1.65"/><circle cx="372" cy="449.5" r="1.65"/><circle cx="372.2" cy="472.3" r="1.65"/><circle cx="372.8" cy="479" r="1.65"/><circle cx="372.9" cy="481.3" r="1.65"/><circle cx="373.2" cy="468.9" r="1.65"/><circle cx="373.4" cy="485.6" r="1.65"/><circle cx="373.5" cy="489.2" r="1.65"/><circle cx="373.8" cy="496.3" r="1.65"/><circle cx="374" cy="470.7" r="1.65"/><circle cx="374.4" cy="450.2" r="1.65"/><circle cx="374.6" cy="489.7" r="1.65"/><circle cx="375" cy="498.6" r="1.65"/><circle cx="375.3" cy="489.4" r="1.65"/><circle cx="375.5" cy="503.8" r="1.65"/><circle cx="375.6" cy="485.7" r="1.65"/><circle cx="375.9" cy="489.5" r="1.65"/><circle cx="376.2" cy="488.1" r="1.65"/><circle cx="376.4" cy="491.2" r="1.65"/><circle cx="376.5" cy="483.6" r="1.65"/><circle cx="376.7" cy="486.7" r="1.65"/><circle cx="377" cy="493.8" r="1.65"/><circle cx="377.2" cy="473" r="1.65"/><circle cx="377.8" cy="489.2" r="1.65"/><circle cx="378.1" cy="485" r="1.65"/><circle cx="378.5" cy="470.5" r="1.65"/><circle cx="378.7" cy="490" r="1.65"/><circle cx="379.4" cy="484" r="1.65"/><circle cx="379.6" cy="466.2" r="1.65"/><circle cx="379.7" cy="460.2" r="1.65"/><circle cx="379.9" cy="489.1" r="1.65"/><circle cx="380.2" cy="492.9" r="1.65"/><circle cx="380.3" cy="476.9" r="1.65"/><circle cx="380.5" cy="418.5" r="1.65"/><circle cx="380.6" cy="485.4" r="1.65"/><circle cx="380.8" cy="431.9" r="1.65"/><circle cx="380.9" cy="473" r="1.65"/><circle cx="381.1" cy="488" r="1.65"/><circle cx="381.2" cy="480.8" r="1.65"/><circle cx="381.4" cy="481.6" r="1.65"/><circle cx="381.5" cy="470.7" r="1.65"/><circle cx="381.9" cy="470.6" r="1.65"/><circle cx="382.2" cy="450.1" r="1.65"/><circle cx="382.3" cy="387.9" r="1.65"/><circle cx="382.5" cy="417.1" r="1.65"/><circle cx="382.6" cy="455.7" r="1.65"/><circle cx="383.1" cy="467.1" r="1.65"/><circle cx="383.2" cy="451.7" r="1.65"/><circle cx="383.4" cy="460.7" r="1.65"/><circle cx="383.5" cy="434.5" r="1.65"/><circle cx="383.7" cy="437.6" r="1.65"/><circle cx="384.1" cy="437.3" r="1.65"/><circle cx="384.6" cy="465.4" r="1.65"/><circle cx="384.7" cy="435.3" r="1.65"/><circle cx="385.2" cy="450.3" r="1.65"/><circle cx="385.5" cy="481.8" r="1.65"/><circle cx="385.6" cy="470.1" r="1.65"/><circle cx="385.8" cy="436.4" r="1.65"/><circle cx="385.9" cy="434" r="1.65"/><circle cx="386.2" cy="459.9" r="1.65"/><circle cx="386.4" cy="475.3" r="1.65"/><circle cx="386.6" cy="488.2" r="1.65"/><circle cx="386.9" cy="480.5" r="1.65"/><circle cx="387.2" cy="458.6" r="1.65"/><circle cx="387.3" cy="482.1" r="1.65"/><circle cx="387.5" cy="483.3" r="1.65"/><circle cx="387.6" cy="463.8" r="1.65"/><circle cx="387.8" cy="486.1" r="1.65"/><circle cx="387.9" cy="478.5" r="1.65"/><circle cx="388.2" cy="485.2" r="1.65"/><circle cx="388.4" cy="469.3" r="1.65"/><circle cx="388.7" cy="493.9" r="1.65"/><circle cx="388.8" cy="466" r="1.65"/><circle cx="389.1" cy="498.7" r="1.65"/><circle cx="389.3" cy="488.2" r="1.65"/><circle cx="389.4" cy="475.9" r="1.65"/><circle cx="389.6" cy="496.3" r="1.65"/><circle cx="389.7" cy="491" r="1.65"/><circle cx="390" cy="498.6" r="1.65"/><circle cx="390.6" cy="497.7" r="1.65"/><circle cx="390.8" cy="489.1" r="1.65"/><circle cx="391.1" cy="494" r="1.65"/><circle cx="391.3" cy="468.9" r="1.65"/><circle cx="391.6" cy="503" r="1.65"/><circle cx="391.7" cy="497" r="1.65"/><circle cx="391.9" cy="492.9" r="1.65"/><circle cx="392.2" cy="494.8" r="1.65"/><circle cx="392.3" cy="495.8" r="1.65"/><circle cx="392.6" cy="482.4" r="1.65"/><circle cx="392.8" cy="500.2" r="1.65"/><circle cx="392.9" cy="490.2" r="1.65"/><circle cx="393.2" cy="491.8" r="1.65"/><circle cx="393.4" cy="494.4" r="1.65"/><circle cx="393.5" cy="463" r="1.65"/><circle cx="393.7" cy="498.6" r="1.65"/><circle cx="393.8" cy="484.6" r="1.65"/><circle cx="394" cy="493.9" r="1.65"/><circle cx="394.3" cy="503.5" r="1.65"/><circle cx="394.4" cy="482.9" r="1.65"/><circle cx="394.6" cy="486.7" r="1.65"/><circle cx="394.7" cy="488.1" r="1.65"/><circle cx="395.2" cy="475.7" r="1.65"/><circle cx="395.3" cy="475.6" r="1.65"/><circle cx="395.5" cy="493.2" r="1.65"/><circle cx="395.8" cy="477.5" r="1.65"/><circle cx="396.3" cy="479.6" r="1.65"/><circle cx="396.6" cy="488.9" r="1.65"/><circle cx="396.7" cy="470.2" r="1.65"/><circle cx="396.9" cy="479.5" r="1.65"/><circle cx="397.2" cy="486.4" r="1.65"/><circle cx="397.3" cy="469.1" r="1.65"/><circle cx="397.5" cy="464.1" r="1.65"/><circle cx="397.8" cy="481.4" r="1.65"/><circle cx="397.9" cy="454.9" r="1.65"/><circle cx="398.1" cy="489.6" r="1.65"/><circle cx="398.2" cy="459" r="1.65"/><circle cx="399.7" cy="498.4" r="1.65"/><circle cx="400" cy="490.1" r="1.65"/><circle cx="400.2" cy="473.6" r="1.65"/><circle cx="400.5" cy="462.9" r="1.65"/><circle cx="400.6" cy="484.5" r="1.65"/><circle cx="400.8" cy="494.2" r="1.65"/><circle cx="401.7" cy="481.9" r="1.65"/><circle cx="402" cy="484.7" r="1.65"/><circle cx="402.5" cy="492.4" r="1.65"/><circle cx="402.6" cy="491.2" r="1.65"/><circle cx="403.4" cy="499.6" r="1.65"/><circle cx="403.7" cy="493.8" r="1.65"/><circle cx="404.4" cy="495.4" r="1.65"/><circle cx="404.9" cy="469.7" r="1.65"/><circle cx="405" cy="471.6" r="1.65"/><circle cx="405.2" cy="488.4" r="1.65"/><circle cx="405.3" cy="495.8" r="1.65"/><circle cx="405.5" cy="498.7" r="1.65"/><circle cx="405.8" cy="502.3" r="1.65"/><circle cx="406.4" cy="497" r="1.65"/><circle cx="406.6" cy="492.7" r="1.65"/><circle cx="406.7" cy="484.8" r="1.65"/><circle cx="406.9" cy="459.9" r="1.65"/><circle cx="407.5" cy="498.4" r="1.65"/><circle cx="407.9" cy="491.8" r="1.65"/><circle cx="408.7" cy="481.4" r="1.65"/><circle cx="408.8" cy="445.8" r="1.65"/><circle cx="409" cy="444.3" r="1.65"/><circle cx="409.1" cy="490.6" r="1.65"/><circle cx="409.3" cy="493.1" r="1.65"/><circle cx="409.6" cy="498.4" r="1.65"/><circle cx="409.7" cy="485.2" r="1.65"/><circle cx="410" cy="490.8" r="1.65"/><circle cx="410.2" cy="483.3" r="1.65"/><circle cx="410.4" cy="476.2" r="1.65"/><circle cx="410.5" cy="495.4" r="1.65"/><circle cx="410.7" cy="492.2" r="1.65"/><circle cx="410.8" cy="486.4" r="1.65"/><circle cx="411" cy="495.2" r="1.65"/><circle cx="411.1" cy="494.5" r="1.65"/><circle cx="411.3" cy="493.2" r="1.65"/><circle cx="411.7" cy="491.4" r="1.65"/><circle cx="411.9" cy="487.5" r="1.65"/><circle cx="412" cy="481.1" r="1.65"/><circle cx="412.2" cy="486.5" r="1.65"/><circle cx="412.5" cy="482.7" r="1.65"/><circle cx="412.6" cy="481.5" r="1.65"/><circle cx="413.1" cy="493.5" r="1.65"/><circle cx="413.7" cy="489.8" r="1.65"/><circle cx="413.8" cy="498.7" r="1.65"/><circle cx="414.1" cy="469.3" r="1.65"/><circle cx="414.3" cy="502.1" r="1.65"/><circle cx="414.6" cy="499.7" r="1.65"/><circle cx="414.7" cy="503.1" r="1.65"/><circle cx="414.9" cy="482.8" r="1.65"/><circle cx="415" cy="494.7" r="1.65"/><circle cx="415.5" cy="488.2" r="1.65"/><circle cx="416.1" cy="496.4" r="1.65"/><circle cx="416.3" cy="495.9" r="1.65"/><circle cx="416.4" cy="502.6" r="1.65"/><circle cx="416.6" cy="497.9" r="1.65"/><circle cx="417" cy="493.9" r="1.65"/><circle cx="417.2" cy="491.4" r="1.65"/><circle cx="417.3" cy="499.4" r="1.65"/><circle cx="417.6" cy="500.3" r="1.65"/><circle cx="417.8" cy="498.1" r="1.65"/><circle cx="417.9" cy="494.8" r="1.65"/><circle cx="418.1" cy="501.4" r="1.65"/><circle cx="418.4" cy="500.8" r="1.65"/><circle cx="419" cy="493.2" r="1.65"/><circle cx="419.3" cy="485.2" r="1.65"/><circle cx="419.4" cy="498.4" r="1.65"/><circle cx="419.6" cy="503.2" r="1.65"/><circle cx="419.7" cy="505.7" r="1.65"/><circle cx="419.9" cy="480.3" r="1.65"/><circle cx="420.1" cy="482.7" r="1.65"/><circle cx="420.2" cy="473.6" r="1.65"/><circle cx="420.4" cy="502.3" r="1.65"/><circle cx="420.8" cy="502" r="1.65"/><circle cx="421" cy="499.8" r="1.65"/><circle cx="421.1" cy="507.1" r="1.65"/><circle cx="421.4" cy="493.5" r="1.65"/><circle cx="421.6" cy="475.5" r="1.65"/><circle cx="421.7" cy="492.8" r="1.65"/><circle cx="422" cy="490.5" r="1.65"/><circle cx="422.2" cy="503.2" r="1.65"/><circle cx="422.3" cy="506.9" r="1.65"/><circle cx="422.6" cy="495.1" r="1.65"/><circle cx="423.1" cy="497.3" r="1.65"/><circle cx="423.2" cy="502.3" r="1.65"/><circle cx="423.4" cy="502.1" r="1.65"/><circle cx="423.5" cy="496.2" r="1.65"/><circle cx="423.7" cy="486.5" r="1.65"/><circle cx="424" cy="500.8" r="1.65"/><circle cx="424.1" cy="497.5" r="1.65"/><circle cx="424.4" cy="500.3" r="1.65"/><circle cx="424.6" cy="494.5" r="1.65"/><circle cx="424.9" cy="503.8" r="1.65"/><circle cx="425.1" cy="497" r="1.65"/><circle cx="425.7" cy="501.1" r="1.65"/><circle cx="426.1" cy="494.6" r="1.65"/><circle cx="426.9" cy="496.1" r="1.65"/><circle cx="427.2" cy="503.5" r="1.65"/><circle cx="427.5" cy="499" r="1.65"/><circle cx="427.8" cy="508.8" r="1.65"/><circle cx="428.1" cy="483.6" r="1.65"/><circle cx="428.2" cy="490.3" r="1.65"/><circle cx="428.5" cy="497.3" r="1.65"/><circle cx="428.8" cy="482.7" r="1.65"/><circle cx="429" cy="491.4" r="1.65"/><circle cx="429.3" cy="501.5" r="1.65"/><circle cx="429.6" cy="467.6" r="1.65"/><circle cx="429.8" cy="452.7" r="1.65"/><circle cx="430.2" cy="497.8" r="1.65"/><circle cx="430.4" cy="502.4" r="1.65"/><circle cx="431" cy="501.2" r="1.65"/><circle cx="431.1" cy="506.5" r="1.65"/><circle cx="431.4" cy="500.1" r="1.65"/><circle cx="431.6" cy="498" r="1.65"/><circle cx="431.9" cy="474.9" r="1.65"/><circle cx="432.2" cy="473.3" r="1.65"/><circle cx="432.6" cy="503.8" r="1.65"/><circle cx="432.8" cy="505.2" r="1.65"/><circle cx="432.9" cy="502" r="1.65"/><circle cx="433.1" cy="506.6" r="1.65"/><circle cx="433.2" cy="498" r="1.65"/><circle cx="433.8" cy="493.2" r="1.65"/><circle cx="434.1" cy="502.3" r="1.65"/><circle cx="434.3" cy="500.4" r="1.65"/><circle cx="434.6" cy="485.8" r="1.65"/><circle cx="434.8" cy="503.8" r="1.65"/><circle cx="435.1" cy="487.5" r="1.65"/><circle cx="435.4" cy="502.8" r="1.65"/><circle cx="435.7" cy="499" r="1.65"/><circle cx="435.8" cy="501.2" r="1.65"/><circle cx="436.4" cy="500.5" r="1.65"/><circle cx="436.6" cy="481.4" r="1.65"/><circle cx="436.7" cy="503.4" r="1.65"/><circle cx="436.9" cy="501.3" r="1.65"/><circle cx="437" cy="505.9" r="1.65"/><circle cx="437.2" cy="494.8" r="1.65"/><circle cx="437.5" cy="473.5" r="1.65"/><circle cx="437.6" cy="504.7" r="1.65"/><circle cx="438.1" cy="464.8" r="1.65"/><circle cx="438.2" cy="497.1" r="1.65"/><circle cx="438.4" cy="498.2" r="1.65"/><circle cx="438.5" cy="493.7" r="1.65"/><circle cx="439" cy="493.1" r="1.65"/><circle cx="439.2" cy="508.8" r="1.65"/><circle cx="439.5" cy="496.9" r="1.65"/><circle cx="439.9" cy="502.8" r="1.65"/><circle cx="440.4" cy="496.9" r="1.65"/><circle cx="440.7" cy="500.9" r="1.65"/><circle cx="440.8" cy="478.1" r="1.65"/><circle cx="441" cy="487" r="1.65"/><circle cx="441.1" cy="497.1" r="1.65"/><circle cx="441.4" cy="497.1" r="1.65"/><circle cx="441.9" cy="492" r="1.65"/><circle cx="442" cy="500.9" r="1.65"/><circle cx="442.3" cy="506.7" r="1.65"/><circle cx="442.6" cy="500.1" r="1.65"/><circle cx="442.8" cy="480.3" r="1.65"/><circle cx="442.9" cy="500.8" r="1.65"/><circle cx="443.5" cy="503.3" r="1.65"/><circle cx="443.7" cy="501" r="1.65"/><circle cx="444" cy="501.3" r="1.65"/><circle cx="444.5" cy="484.9" r="1.65"/><circle cx="444.6" cy="495.7" r="1.65"/><circle cx="444.8" cy="505.4" r="1.65"/><circle cx="445.1" cy="488.5" r="1.65"/><circle cx="445.4" cy="499.5" r="1.65"/><circle cx="445.7" cy="505.7" r="1.65"/><circle cx="445.8" cy="492.3" r="1.65"/><circle cx="446" cy="493.2" r="1.65"/><circle cx="446.1" cy="504.4" r="1.65"/><circle cx="446.3" cy="469.8" r="1.65"/><circle cx="446.9" cy="506" r="1.65"/><circle cx="447" cy="495.5" r="1.65"/><circle cx="447.2" cy="489.2" r="1.65"/><circle cx="447.5" cy="502.1" r="1.65"/><circle cx="447.6" cy="485.9" r="1.65"/><circle cx="448.1" cy="507.2" r="1.65"/><circle cx="448.2" cy="508.2" r="1.65"/><circle cx="448.4" cy="502.5" r="1.65"/><circle cx="448.6" cy="494.8" r="1.65"/><circle cx="448.7" cy="506.2" r="1.65"/><circle cx="448.9" cy="507.5" r="1.65"/><circle cx="449" cy="500.1" r="1.65"/><circle cx="449.2" cy="504.4" r="1.65"/><circle cx="449.3" cy="506.5" r="1.65"/><circle cx="449.5" cy="505.4" r="1.65"/><circle cx="449.6" cy="504.1" r="1.65"/><circle cx="449.8" cy="483.4" r="1.65"/><circle cx="449.9" cy="504" r="1.65"/><circle cx="450.1" cy="502.1" r="1.65"/><circle cx="450.4" cy="503.2" r="1.65"/><circle cx="450.5" cy="484.7" r="1.65"/><circle cx="450.7" cy="506.2" r="1.65"/><circle cx="451.6" cy="496.6" r="1.65"/><circle cx="451.7" cy="504.4" r="1.65"/><circle cx="451.9" cy="490" r="1.65"/><circle cx="452" cy="508.1" r="1.65"/><circle cx="452.2" cy="500.3" r="1.65"/><circle cx="452.3" cy="506.4" r="1.65"/><circle cx="452.5" cy="506.4" r="1.65"/><circle cx="452.9" cy="501.4" r="1.65"/><circle cx="453.1" cy="505.9" r="1.65"/><circle cx="453.2" cy="495" r="1.65"/><circle cx="453.4" cy="502.2" r="1.65"/><circle cx="453.9" cy="502.8" r="1.65"/><circle cx="454" cy="500" r="1.65"/><circle cx="454.9" cy="498.4" r="1.65"/><circle cx="455.1" cy="505.2" r="1.65"/><circle cx="455.2" cy="507.6" r="1.65"/><circle cx="456" cy="494.8" r="1.65"/><circle cx="456.1" cy="500.2" r="1.65"/><circle cx="456.4" cy="491.4" r="1.65"/><circle cx="456.6" cy="507.2" r="1.65"/><circle cx="456.7" cy="507.2" r="1.65"/><circle cx="457" cy="500.2" r="1.65"/><circle cx="457.3" cy="502.1" r="1.65"/><circle cx="457.6" cy="507" r="1.65"/><circle cx="457.8" cy="500.4" r="1.65"/><circle cx="457.9" cy="507" r="1.65"/><circle cx="458.3" cy="470" r="1.65"/><circle cx="458.4" cy="506.4" r="1.65"/><circle cx="458.7" cy="497.7" r="1.65"/><circle cx="459" cy="488.7" r="1.65"/><circle cx="459.2" cy="497.8" r="1.65"/><circle cx="459.3" cy="501.2" r="1.65"/><circle cx="459.5" cy="442.6" r="1.65"/><circle cx="459.9" cy="481.6" r="1.65"/><circle cx="460.1" cy="492.4" r="1.65"/><circle cx="460.2" cy="481" r="1.65"/><circle cx="460.4" cy="470.6" r="1.65"/><circle cx="460.5" cy="469.1" r="1.65"/><circle cx="460.8" cy="482.9" r="1.65"/><circle cx="461" cy="453.5" r="1.65"/><circle cx="461.3" cy="472.8" r="1.65"/><circle cx="461.4" cy="495" r="1.65"/><circle cx="461.7" cy="466.5" r="1.65"/><circle cx="462" cy="380.1" r="1.65"/><circle cx="462.2" cy="455.9" r="1.65"/><circle cx="462.5" cy="463.9" r="1.65"/><circle cx="463.1" cy="376.1" r="1.65"/><circle cx="463.3" cy="420.8" r="1.65"/><circle cx="463.6" cy="456.2" r="1.65"/><circle cx="463.7" cy="422.7" r="1.65"/><circle cx="463.9" cy="427.2" r="1.65"/><circle cx="464" cy="445" r="1.65"/><circle cx="464.2" cy="447.9" r="1.65"/><circle cx="464.5" cy="449.2" r="1.65"/><circle cx="464.6" cy="481.6" r="1.65"/><circle cx="464.9" cy="501.2" r="1.65"/><circle cx="465.5" cy="471.8" r="1.65"/><circle cx="465.7" cy="464.9" r="1.65"/><circle cx="465.8" cy="473.3" r="1.65"/><circle cx="466.1" cy="478.4" r="1.65"/><circle cx="466.4" cy="469.1" r="1.65"/><circle cx="466.6" cy="495.7" r="1.65"/><circle cx="466.9" cy="462" r="1.65"/><circle cx="467" cy="472.4" r="1.65"/><circle cx="467.5" cy="413.1" r="1.65"/><circle cx="467.7" cy="458.1" r="1.65"/><circle cx="467.8" cy="444.9" r="1.65"/><circle cx="468" cy="481.7" r="1.65"/><circle cx="468.9" cy="448.3" r="1.65"/><circle cx="469.2" cy="474.7" r="1.65"/><circle cx="469.3" cy="418.3" r="1.65"/><circle cx="469.5" cy="433.7" r="1.65"/><circle cx="469.6" cy="438.1" r="1.65"/><circle cx="469.8" cy="469.9" r="1.65"/><circle cx="469.9" cy="469.4" r="1.65"/><circle cx="470.1" cy="463.1" r="1.65"/><circle cx="470.4" cy="413.1" r="1.65"/><circle cx="470.5" cy="477.2" r="1.65"/><circle cx="470.7" cy="503.7" r="1.65"/><circle cx="470.8" cy="483.2" r="1.65"/><circle cx="471.1" cy="468.3" r="1.65"/><circle cx="471.3" cy="494.5" r="1.65"/><circle cx="471.4" cy="465.7" r="1.65"/><circle cx="471.7" cy="479" r="1.65"/><circle cx="471.9" cy="486.1" r="1.65"/><circle cx="472" cy="493.7" r="1.65"/><circle cx="472.3" cy="490.6" r="1.65"/><circle cx="472.7" cy="495.1" r="1.65"/><circle cx="472.8" cy="494.1" r="1.65"/><circle cx="473" cy="490.6" r="1.65"/><circle cx="473.9" cy="460.5" r="1.65"/><circle cx="474.2" cy="495" r="1.65"/><circle cx="474.3" cy="504.2" r="1.65"/><circle cx="474.5" cy="505.8" r="1.65"/><circle cx="474.6" cy="491.8" r="1.65"/><circle cx="474.9" cy="493.2" r="1.65"/><circle cx="475.1" cy="497" r="1.65"/><circle cx="475.2" cy="502.8" r="1.65"/><circle cx="475.8" cy="500.3" r="1.65"/><circle cx="476" cy="487.9" r="1.65"/><circle cx="476.1" cy="472.1" r="1.65"/><circle cx="476.3" cy="499.8" r="1.65"/><circle cx="476.4" cy="495.7" r="1.65"/><circle cx="476.6" cy="470.5" r="1.65"/><circle cx="476.9" cy="497.2" r="1.65"/><circle cx="477" cy="475.8" r="1.65"/><circle cx="477.2" cy="475.4" r="1.65"/><circle cx="477.4" cy="497.6" r="1.65"/><circle cx="477.5" cy="485.7" r="1.65"/><circle cx="477.7" cy="496.1" r="1.65"/><circle cx="477.8" cy="495.1" r="1.65"/><circle cx="478" cy="488.5" r="1.65"/><circle cx="478.1" cy="497.1" r="1.65"/><circle cx="478.3" cy="482.6" r="1.65"/><circle cx="478.6" cy="484.3" r="1.65"/><circle cx="478.7" cy="465.4" r="1.65"/><circle cx="478.9" cy="478.7" r="1.65"/><circle cx="479.2" cy="500.4" r="1.65"/><circle cx="479.3" cy="491.1" r="1.65"/><circle cx="479.5" cy="497.1" r="1.65"/><circle cx="479.8" cy="501.9" r="1.65"/><circle cx="479.9" cy="491.8" r="1.65"/><circle cx="480.2" cy="502.7" r="1.65"/><circle cx="480.7" cy="499.4" r="1.65"/><circle cx="480.8" cy="490.2" r="1.65"/><circle cx="481" cy="507.1" r="1.65"/><circle cx="481.7" cy="507.2" r="1.65"/><circle cx="481.9" cy="493.9" r="1.65"/><circle cx="482.4" cy="502.7" r="1.65"/><circle cx="483" cy="502.3" r="1.65"/><circle cx="483.6" cy="496.4" r="1.65"/><circle cx="484.5" cy="497.4" r="1.65"/><circle cx="484.6" cy="495.9" r="1.65"/><circle cx="484.8" cy="493.4" r="1.65"/><circle cx="484.9" cy="493.7" r="1.65"/><circle cx="485.2" cy="502.2" r="1.65"/><circle cx="485.5" cy="486.8" r="1.65"/><circle cx="485.7" cy="502.1" r="1.65"/><circle cx="486" cy="503.9" r="1.65"/><circle cx="486.1" cy="506.7" r="1.65"/><circle cx="486.6" cy="466.9" r="1.65"/><circle cx="486.8" cy="493.9" r="1.65"/><circle cx="487.1" cy="496" r="1.65"/><circle cx="487.4" cy="466.8" r="1.65"/><circle cx="487.5" cy="494.4" r="1.65"/><circle cx="487.7" cy="492.1" r="1.65"/><circle cx="487.8" cy="492.8" r="1.65"/><circle cx="488" cy="496" r="1.65"/><circle cx="488.1" cy="474" r="1.65"/><circle cx="488.3" cy="480.4" r="1.65"/><circle cx="488.4" cy="441.3" r="1.65"/><circle cx="488.9" cy="464.2" r="1.65"/><circle cx="489.2" cy="460.6" r="1.65"/><circle cx="489.3" cy="471.7" r="1.65"/><circle cx="489.9" cy="441.2" r="1.65"/><circle cx="490.1" cy="501" r="1.65"/><circle cx="490.2" cy="457.3" r="1.65"/><circle cx="490.4" cy="411.5" r="1.65"/><circle cx="490.7" cy="398.3" r="1.65"/><circle cx="491" cy="479.3" r="1.65"/><circle cx="491.4" cy="391.8" r="1.65"/><circle cx="491.8" cy="396.4" r="1.65"/><circle cx="491.9" cy="485.8" r="1.65"/><circle cx="492.1" cy="480.2" r="1.65"/><circle cx="492.2" cy="477" r="1.65"/><circle cx="492.5" cy="439.3" r="1.65"/><circle cx="493" cy="469.3" r="1.65"/><circle cx="493.1" cy="417.4" r="1.65"/><circle cx="493.3" cy="433.1" r="1.65"/><circle cx="493.4" cy="478.6" r="1.65"/><circle cx="493.9" cy="359.6" r="1.65"/><circle cx="494.2" cy="439.3" r="1.65"/><circle cx="494.3" cy="426.3" r="1.65"/><circle cx="494.6" cy="472" r="1.65"/><circle cx="494.8" cy="398.2" r="1.65"/><circle cx="494.9" cy="427.3" r="1.65"/><circle cx="495.1" cy="431.8" r="1.65"/><circle cx="495.2" cy="417.3" r="1.65"/><circle cx="495.4" cy="440.3" r="1.65"/><circle cx="495.5" cy="361.8" r="1.65"/><circle cx="496" cy="458.4" r="1.65"/><circle cx="496.1" cy="362.1" r="1.65"/><circle cx="496.8" cy="352.3" r="1.65"/><circle cx="496.9" cy="383.5" r="1.65"/><circle cx="497.5" cy="423.8" r="1.65"/><circle cx="498" cy="444" r="1.65"/><circle cx="498.1" cy="478.2" r="1.65"/><circle cx="498.3" cy="451.7" r="1.65"/><circle cx="498.4" cy="480.5" r="1.65"/><circle cx="498.7" cy="445.9" r="1.65"/><circle cx="498.9" cy="433.2" r="1.65"/><circle cx="499" cy="440.4" r="1.65"/><circle cx="499.2" cy="472" r="1.65"/><circle cx="499.9" cy="480.8" r="1.65"/><circle cx="500.1" cy="490.3" r="1.65"/><circle cx="500.2" cy="443.8" r="1.65"/><circle cx="500.5" cy="474.2" r="1.65"/><circle cx="500.8" cy="483.1" r="1.65"/><circle cx="501" cy="482.8" r="1.65"/><circle cx="501.2" cy="491.6" r="1.65"/><circle cx="501.3" cy="474.8" r="1.65"/><circle cx="501.6" cy="497.1" r="1.65"/><circle cx="501.8" cy="498.7" r="1.65"/><circle cx="501.9" cy="476.6" r="1.65"/><circle cx="502.2" cy="476" r="1.65"/><circle cx="502.4" cy="483.7" r="1.65"/><circle cx="502.5" cy="499.3" r="1.65"/><circle cx="503" cy="503.2" r="1.65"/><circle cx="503.1" cy="481.9" r="1.65"/><circle cx="503.3" cy="485.3" r="1.65"/><circle cx="503.6" cy="480.4" r="1.65"/><circle cx="503.7" cy="489.8" r="1.65"/><circle cx="504" cy="486" r="1.65"/><circle cx="504.2" cy="493.6" r="1.65"/><circle cx="504.3" cy="485.3" r="1.65"/><circle cx="504.8" cy="485" r="1.65"/><circle cx="505.1" cy="485.4" r="1.65"/><circle cx="505.2" cy="495.2" r="1.65"/><circle cx="505.5" cy="474.1" r="1.65"/><circle cx="505.9" cy="493.6" r="1.65"/><circle cx="506" cy="493" r="1.65"/><circle cx="506.3" cy="490.2" r="1.65"/><circle cx="506.5" cy="497.1" r="1.65"/><circle cx="506.8" cy="472.5" r="1.65"/><circle cx="507.2" cy="507.7" r="1.65"/><circle cx="507.4" cy="496.3" r="1.65"/><circle cx="507.7" cy="496.4" r="1.65"/><circle cx="507.8" cy="494" r="1.65"/><circle cx="508.1" cy="470.8" r="1.65"/><circle cx="508.4" cy="496.7" r="1.65"/><circle cx="509" cy="481.8" r="1.65"/><circle cx="509.6" cy="437.2" r="1.65"/><circle cx="509.8" cy="486.6" r="1.65"/><circle cx="509.9" cy="454" r="1.65"/><circle cx="510.1" cy="468.6" r="1.65"/><circle cx="510.5" cy="492.4" r="1.65"/><circle cx="510.7" cy="477.8" r="1.65"/><circle cx="510.9" cy="468.1" r="1.65"/><circle cx="511" cy="480.5" r="1.65"/><circle cx="511.5" cy="480.8" r="1.65"/><circle cx="511.6" cy="440" r="1.65"/><circle cx="512.1" cy="487.4" r="1.65"/><circle cx="512.2" cy="475.2" r="1.65"/><circle cx="512.4" cy="474.5" r="1.65"/><circle cx="512.5" cy="496.6" r="1.65"/><circle cx="512.8" cy="483" r="1.65"/><circle cx="513.1" cy="483.3" r="1.65"/><circle cx="513.3" cy="492.6" r="1.65"/><circle cx="513.4" cy="458.5" r="1.65"/><circle cx="513.9" cy="495" r="1.65"/><circle cx="514.2" cy="476.9" r="1.65"/><circle cx="515.1" cy="494.8" r="1.65"/><circle cx="515.4" cy="490.2" r="1.65"/><circle cx="515.6" cy="483.1" r="1.65"/><circle cx="515.7" cy="504" r="1.65"/><circle cx="516" cy="503.8" r="1.65"/><circle cx="516.2" cy="500.6" r="1.65"/><circle cx="516.9" cy="490.5" r="1.65"/><circle cx="517.2" cy="481.6" r="1.65"/><circle cx="517.4" cy="482.2" r="1.65"/><circle cx="517.5" cy="482" r="1.65"/><circle cx="518" cy="496.1" r="1.65"/><circle cx="518.1" cy="482.3" r="1.65"/><circle cx="518.3" cy="472.7" r="1.65"/><circle cx="518.4" cy="488.3" r="1.65"/><circle cx="518.9" cy="485.8" r="1.65"/><circle cx="519" cy="448.7" r="1.65"/><circle cx="519.3" cy="451.2" r="1.65"/><circle cx="519.6" cy="460.7" r="1.65"/><circle cx="519.8" cy="456.2" r="1.65"/><circle cx="519.9" cy="469.2" r="1.65"/><circle cx="520.1" cy="488.6" r="1.65"/><circle cx="520.3" cy="463" r="1.65"/><circle cx="520.4" cy="472.6" r="1.65"/><circle cx="520.7" cy="468" r="1.65"/><circle cx="521.2" cy="458.3" r="1.65"/><circle cx="521.3" cy="478.5" r="1.65"/><circle cx="521.5" cy="469.2" r="1.65"/><circle cx="521.6" cy="473.4" r="1.65"/><circle cx="522.1" cy="454.5" r="1.65"/><circle cx="522.2" cy="420.2" r="1.65"/><circle cx="522.4" cy="493" r="1.65"/><circle cx="522.5" cy="495.4" r="1.65"/><circle cx="522.7" cy="488.4" r="1.65"/><circle cx="522.8" cy="496" r="1.65"/><circle cx="523" cy="499.1" r="1.65"/><circle cx="523.3" cy="484.3" r="1.65"/><circle cx="523.7" cy="491.7" r="1.65"/><circle cx="523.9" cy="478.6" r="1.65"/><circle cx="524.2" cy="486" r="1.65"/><circle cx="524.3" cy="494.6" r="1.65"/><circle cx="524.5" cy="497.3" r="1.65"/><circle cx="524.6" cy="499.6" r="1.65"/><circle cx="524.8" cy="478.5" r="1.65"/><circle cx="525" cy="487.1" r="1.65"/><circle cx="525.3" cy="460.1" r="1.65"/><circle cx="526" cy="497.2" r="1.65"/><circle cx="526.5" cy="484.6" r="1.65"/><circle cx="526.6" cy="484.4" r="1.65"/><circle cx="526.8" cy="489.1" r="1.65"/><circle cx="526.9" cy="477.4" r="1.65"/><circle cx="527.4" cy="489.4" r="1.65"/><circle cx="527.8" cy="496.3" r="1.65"/><circle cx="528" cy="506.1" r="1.65"/><circle cx="528.1" cy="496.3" r="1.65"/><circle cx="528.3" cy="506.5" r="1.65"/><circle cx="528.6" cy="498.2" r="1.65"/><circle cx="528.7" cy="490.9" r="1.65"/><circle cx="528.9" cy="500.7" r="1.65"/><circle cx="529" cy="493.7" r="1.65"/><circle cx="529.2" cy="498.9" r="1.65"/><circle cx="529.5" cy="464.5" r="1.65"/><circle cx="530" cy="494" r="1.65"/><circle cx="530.1" cy="505.1" r="1.65"/><circle cx="530.3" cy="492.8" r="1.65"/><circle cx="530.6" cy="501.8" r="1.65"/><circle cx="530.7" cy="501" r="1.65"/><circle cx="531" cy="494.9" r="1.65"/><circle cx="531.3" cy="506.4" r="1.65"/><circle cx="531.5" cy="473.1" r="1.65"/><circle cx="531.6" cy="504.3" r="1.65"/><circle cx="531.8" cy="489.8" r="1.65"/><circle cx="531.9" cy="503.3" r="1.65"/><circle cx="532.2" cy="486.3" r="1.65"/><circle cx="532.4" cy="496.5" r="1.65"/><circle cx="532.5" cy="481.1" r="1.65"/><circle cx="532.7" cy="507.5" r="1.65"/><circle cx="532.8" cy="503.4" r="1.65"/><circle cx="533" cy="504.9" r="1.65"/><circle cx="533.4" cy="503.7" r="1.65"/><circle cx="533.6" cy="499.1" r="1.65"/><circle cx="534" cy="495.4" r="1.65"/><circle cx="534.7" cy="498.8" r="1.65"/><circle cx="534.8" cy="503.2" r="1.65"/><circle cx="535" cy="494.3" r="1.65"/><circle cx="535.1" cy="496.3" r="1.65"/><circle cx="535.6" cy="502.8" r="1.65"/><circle cx="535.7" cy="499.1" r="1.65"/><circle cx="535.9" cy="488.9" r="1.65"/><circle cx="536" cy="488.3" r="1.65"/><circle cx="536.6" cy="475.1" r="1.65"/><circle cx="536.8" cy="497.5" r="1.65"/><circle cx="536.9" cy="490.7" r="1.65"/><circle cx="537.1" cy="497.6" r="1.65"/><circle cx="537.2" cy="492.8" r="1.65"/><circle cx="537.7" cy="500" r="1.65"/><circle cx="537.8" cy="495.5" r="1.65"/><circle cx="538" cy="470.3" r="1.65"/><circle cx="538.1" cy="500.3" r="1.65"/><circle cx="538.3" cy="472" r="1.65"/><circle cx="538.4" cy="486.2" r="1.65"/><circle cx="538.6" cy="473.6" r="1.65"/><circle cx="538.7" cy="497.9" r="1.65"/><circle cx="538.9" cy="492" r="1.65"/><circle cx="539.4" cy="488.1" r="1.65"/><circle cx="539.5" cy="457.4" r="1.65"/><circle cx="539.7" cy="482.1" r="1.65"/><circle cx="539.8" cy="450.8" r="1.65"/><circle cx="540" cy="459.9" r="1.65"/><circle cx="540.1" cy="439.4" r="1.65"/><circle cx="540.4" cy="372.1" r="1.65"/><circle cx="540.6" cy="434.1" r="1.65"/><circle cx="540.7" cy="436.4" r="1.65"/><circle cx="540.9" cy="371.4" r="1.65"/><circle cx="541.2" cy="436.5" r="1.65"/><circle cx="541.6" cy="307.8" r="1.65"/><circle cx="541.8" cy="425.4" r="1.65"/><circle cx="541.9" cy="369.4" r="1.65"/><circle cx="542.4" cy="351.7" r="1.65"/><circle cx="542.5" cy="362.1" r="1.65"/><circle cx="542.7" cy="347.8" r="1.65"/><circle cx="542.8" cy="375.6" r="1.65"/><circle cx="543.1" cy="419.8" r="1.65"/><circle cx="544.1" cy="438.5" r="1.65"/><circle cx="544.4" cy="283.8" r="1.65"/><circle cx="544.7" cy="420.2" r="1.65"/><circle cx="544.8" cy="481.1" r="1.65"/><circle cx="545" cy="343.6" r="1.65"/><circle cx="545.4" cy="407.9" r="1.65"/><circle cx="545.9" cy="424.1" r="1.65"/><circle cx="546" cy="416.9" r="1.65"/><circle cx="546.2" cy="444.8" r="1.65"/><circle cx="546.3" cy="458" r="1.65"/><circle cx="546.5" cy="430.1" r="1.65"/><circle cx="546.8" cy="456.9" r="1.65"/><circle cx="547.1" cy="444.8" r="1.65"/><circle cx="547.2" cy="472.4" r="1.65"/><circle cx="547.5" cy="484.7" r="1.65"/><circle cx="547.7" cy="468.5" r="1.65"/><circle cx="547.8" cy="479.2" r="1.65"/><circle cx="548" cy="470.3" r="1.65"/><circle cx="548.1" cy="469" r="1.65"/><circle cx="548.3" cy="468.5" r="1.65"/><circle cx="548.4" cy="481.4" r="1.65"/><circle cx="548.6" cy="481.7" r="1.65"/><circle cx="548.7" cy="476.5" r="1.65"/><circle cx="548.9" cy="453.2" r="1.65"/><circle cx="549.2" cy="480" r="1.65"/><circle cx="549.4" cy="460.1" r="1.65"/><circle cx="549.5" cy="490.5" r="1.65"/><circle cx="549.7" cy="483.4" r="1.65"/><circle cx="549.8" cy="482.2" r="1.65"/><circle cx="550" cy="452.1" r="1.65"/><circle cx="550.1" cy="477.8" r="1.65"/><circle cx="550.3" cy="472.1" r="1.65"/><circle cx="550.4" cy="485.2" r="1.65"/><circle cx="550.6" cy="470.4" r="1.65"/><circle cx="550.7" cy="466.3" r="1.65"/><circle cx="551" cy="427.4" r="1.65"/><circle cx="551.2" cy="445.1" r="1.65"/><circle cx="551.3" cy="481.5" r="1.65"/><circle cx="551.5" cy="431.6" r="1.65"/><circle cx="551.6" cy="450.4" r="1.65"/><circle cx="551.9" cy="426" r="1.65"/><circle cx="552.1" cy="477.2" r="1.65"/><circle cx="552.2" cy="462.6" r="1.65"/><circle cx="552.5" cy="440.4" r="1.65"/><circle cx="553.4" cy="451.6" r="1.65"/><circle cx="553.6" cy="470.7" r="1.65"/><circle cx="553.8" cy="441.2" r="1.65"/><circle cx="553.9" cy="473.9" r="1.65"/><circle cx="554.4" cy="477.3" r="1.65"/><circle cx="554.8" cy="468" r="1.65"/><circle cx="555.1" cy="482.8" r="1.65"/><circle cx="555.3" cy="458.3" r="1.65"/><circle cx="555.4" cy="474.1" r="1.65"/><circle cx="555.7" cy="490.2" r="1.65"/><circle cx="555.9" cy="451.8" r="1.65"/><circle cx="556" cy="446.8" r="1.65"/><circle cx="556.3" cy="475.3" r="1.65"/><circle cx="556.6" cy="450.5" r="1.65"/><circle cx="556.9" cy="471.8" r="1.65"/><circle cx="557.1" cy="471.3" r="1.65"/><circle cx="557.7" cy="482.4" r="1.65"/><circle cx="557.8" cy="490.2" r="1.65"/><circle cx="558.3" cy="489.1" r="1.65"/><circle cx="558.6" cy="493.7" r="1.65"/><circle cx="558.8" cy="474.8" r="1.65"/><circle cx="558.9" cy="494.9" r="1.65"/><circle cx="559.1" cy="477.6" r="1.65"/><circle cx="559.2" cy="473.7" r="1.65"/><circle cx="559.7" cy="469.9" r="1.65"/><circle cx="559.8" cy="486.2" r="1.65"/><circle cx="560" cy="473.2" r="1.65"/><circle cx="560.3" cy="488.7" r="1.65"/><circle cx="560.4" cy="459.1" r="1.65"/><circle cx="560.6" cy="474.6" r="1.65"/><circle cx="560.7" cy="447.2" r="1.65"/><circle cx="560.9" cy="470.6" r="1.65"/><circle cx="561" cy="491.9" r="1.65"/><circle cx="561.8" cy="393.9" r="1.65"/><circle cx="561.9" cy="439.7" r="1.65"/><circle cx="562.1" cy="472.7" r="1.65"/><circle cx="562.5" cy="474.3" r="1.65"/><circle cx="562.8" cy="488.8" r="1.65"/><circle cx="563" cy="481.9" r="1.65"/><circle cx="563.2" cy="433.1" r="1.65"/><circle cx="563.3" cy="445.5" r="1.65"/><circle cx="563.8" cy="455.4" r="1.65"/><circle cx="563.9" cy="420.3" r="1.65"/><circle cx="564.1" cy="471.9" r="1.65"/><circle cx="564.5" cy="477.1" r="1.65"/><circle cx="564.7" cy="447.4" r="1.65"/><circle cx="565.3" cy="429.9" r="1.65"/><circle cx="565.7" cy="446.1" r="1.65"/><circle cx="565.9" cy="465.6" r="1.65"/><circle cx="566" cy="461.5" r="1.65"/><circle cx="566.3" cy="479.2" r="1.65"/><circle cx="566.6" cy="478.8" r="1.65"/><circle cx="566.9" cy="438" r="1.65"/><circle cx="567.1" cy="454.4" r="1.65"/><circle cx="568.2" cy="476.5" r="1.65"/><circle cx="568.3" cy="472.4" r="1.65"/><circle cx="568.9" cy="497.4" r="1.65"/><circle cx="569.1" cy="475.2" r="1.65"/><circle cx="569.4" cy="488.6" r="1.65"/><circle cx="569.8" cy="482.4" r="1.65"/><circle cx="570.4" cy="453.8" r="1.65"/><circle cx="570.7" cy="492.6" r="1.65"/><circle cx="571.3" cy="500.4" r="1.65"/><circle cx="571.5" cy="490.4" r="1.65"/><circle cx="571.6" cy="490.1" r="1.65"/><circle cx="571.9" cy="445.6" r="1.65"/><circle cx="572.1" cy="443.9" r="1.65"/><circle cx="572.2" cy="466.3" r="1.65"/><circle cx="572.4" cy="493.2" r="1.65"/><circle cx="572.5" cy="491.6" r="1.65"/><circle cx="572.7" cy="473.2" r="1.65"/><circle cx="572.9" cy="478.8" r="1.65"/><circle cx="573" cy="454.7" r="1.65"/><circle cx="573.6" cy="461.1" r="1.65"/><circle cx="574.4" cy="417.7" r="1.65"/><circle cx="574.5" cy="446.7" r="1.65"/><circle cx="574.7" cy="460.7" r="1.65"/><circle cx="575" cy="478" r="1.65"/><circle cx="576.3" cy="414.7" r="1.65"/><circle cx="576.5" cy="484.3" r="1.65"/><circle cx="577.2" cy="457.7" r="1.65"/><circle cx="577.4" cy="435" r="1.65"/><circle cx="578" cy="478.5" r="1.65"/><circle cx="578.6" cy="452.5" r="1.65"/><circle cx="578.9" cy="472.5" r="1.65"/><circle cx="579.1" cy="442.3" r="1.65"/><circle cx="579.2" cy="457.2" r="1.65"/><circle cx="579.4" cy="461.7" r="1.65"/><circle cx="579.7" cy="476.5" r="1.65"/><circle cx="579.8" cy="483.3" r="1.65"/><circle cx="580.1" cy="448.6" r="1.65"/><circle cx="580.3" cy="397.3" r="1.65"/><circle cx="580.4" cy="470.7" r="1.65"/><circle cx="580.6" cy="400.4" r="1.65"/><circle cx="580.7" cy="480.1" r="1.65"/><circle cx="580.9" cy="431.6" r="1.65"/><circle cx="581.2" cy="471.9" r="1.65"/><circle cx="581.5" cy="461.1" r="1.65"/><circle cx="581.6" cy="442.2" r="1.65"/><circle cx="581.8" cy="485.9" r="1.65"/><circle cx="581.9" cy="482.4" r="1.65"/><circle cx="582.1" cy="475.5" r="1.65"/><circle cx="582.4" cy="478.5" r="1.65"/><circle cx="582.6" cy="470.5" r="1.65"/><circle cx="582.7" cy="493.1" r="1.65"/><circle cx="582.9" cy="494.3" r="1.65"/><circle cx="583" cy="492.6" r="1.65"/><circle cx="583.2" cy="492.6" r="1.65"/><circle cx="583.3" cy="478.3" r="1.65"/><circle cx="583.5" cy="493.9" r="1.65"/><circle cx="584.1" cy="479.3" r="1.65"/><circle cx="584.5" cy="487.9" r="1.65"/><circle cx="584.7" cy="486.1" r="1.65"/><circle cx="585.4" cy="488.9" r="1.65"/><circle cx="585.6" cy="488.4" r="1.65"/><circle cx="586" cy="490.4" r="1.65"/><circle cx="586.3" cy="486.6" r="1.65"/><circle cx="586.5" cy="502.1" r="1.65"/><circle cx="586.8" cy="491.6" r="1.65"/><circle cx="586.9" cy="487.5" r="1.65"/><circle cx="587.3" cy="491.3" r="1.65"/><circle cx="587.4" cy="488.6" r="1.65"/><circle cx="587.6" cy="500.6" r="1.65"/><circle cx="587.9" cy="486.6" r="1.65"/><circle cx="588.8" cy="494" r="1.65"/><circle cx="589.1" cy="493.1" r="1.65"/><circle cx="589.2" cy="488.8" r="1.65"/><circle cx="589.4" cy="496.8" r="1.65"/><circle cx="589.5" cy="503.7" r="1.65"/><circle cx="589.8" cy="504.1" r="1.65"/><circle cx="590.1" cy="498.9" r="1.65"/><circle cx="590.3" cy="497.5" r="1.65"/><circle cx="590.6" cy="490.6" r="1.65"/><circle cx="591" cy="503.7" r="1.65"/><circle cx="591.2" cy="458.7" r="1.65"/><circle cx="591.3" cy="473.4" r="1.65"/><circle cx="591.6" cy="496.1" r="1.65"/><circle cx="591.8" cy="483.5" r="1.65"/><circle cx="592.3" cy="495.9" r="1.65"/><circle cx="592.7" cy="471.1" r="1.65"/><circle cx="593" cy="500.3" r="1.65"/><circle cx="593.2" cy="475.1" r="1.65"/><circle cx="593.3" cy="438.7" r="1.65"/><circle cx="593.5" cy="478.4" r="1.65"/><circle cx="593.6" cy="486.8" r="1.65"/><circle cx="593.9" cy="498.2" r="1.65"/><circle cx="594.2" cy="438.9" r="1.65"/><circle cx="594.4" cy="489.7" r="1.65"/><circle cx="594.5" cy="495.5" r="1.65"/><circle cx="595.1" cy="481.2" r="1.65"/><circle cx="595.3" cy="503.8" r="1.65"/><circle cx="595.4" cy="496.5" r="1.65"/><circle cx="595.6" cy="449.9" r="1.65"/><circle cx="596.2" cy="491.3" r="1.65"/><circle cx="596.3" cy="503.3" r="1.65"/><circle cx="596.5" cy="500.9" r="1.65"/><circle cx="596.7" cy="500" r="1.65"/><circle cx="596.8" cy="498" r="1.65"/><circle cx="597" cy="489.9" r="1.65"/><circle cx="597.1" cy="492.2" r="1.65"/><circle cx="597.3" cy="498.9" r="1.65"/><circle cx="597.6" cy="489.6" r="1.65"/><circle cx="597.9" cy="492.2" r="1.65"/><circle cx="598" cy="498.1" r="1.65"/><circle cx="598.2" cy="502.9" r="1.65"/><circle cx="598.6" cy="494.3" r="1.65"/><circle cx="598.9" cy="481.8" r="1.65"/><circle cx="599.5" cy="497.6" r="1.65"/><circle cx="599.7" cy="482.6" r="1.65"/><circle cx="600.3" cy="491.3" r="1.65"/><circle cx="600.4" cy="487.9" r="1.65"/><circle cx="600.6" cy="474.9" r="1.65"/><circle cx="600.9" cy="478.7" r="1.65"/><circle cx="601" cy="431.1" r="1.65"/><circle cx="601.2" cy="470.7" r="1.65"/><circle cx="601.5" cy="458.5" r="1.65"/><circle cx="601.7" cy="454.6" r="1.65"/><circle cx="601.8" cy="480.6" r="1.65"/><circle cx="602" cy="492.9" r="1.65"/><circle cx="602.1" cy="486.7" r="1.65"/><circle cx="602.6" cy="480.4" r="1.65"/><circle cx="602.7" cy="492.3" r="1.65"/><circle cx="602.9" cy="491" r="1.65"/><circle cx="603" cy="477.9" r="1.65"/><circle cx="603.3" cy="492" r="1.65"/><circle cx="603.6" cy="485.1" r="1.65"/><circle cx="603.8" cy="491.9" r="1.65"/><circle cx="604.1" cy="488.7" r="1.65"/><circle cx="604.2" cy="499.3" r="1.65"/><circle cx="604.4" cy="496.1" r="1.65"/><circle cx="605" cy="493" r="1.65"/><circle cx="605.1" cy="458.3" r="1.65"/><circle cx="605.3" cy="499.8" r="1.65"/><circle cx="605.4" cy="453.6" r="1.65"/><circle cx="605.6" cy="454.1" r="1.65"/><circle cx="605.7" cy="501.9" r="1.65"/><circle cx="606" cy="466.9" r="1.65"/><circle cx="606.2" cy="486.3" r="1.65"/><circle cx="606.4" cy="466.9" r="1.65"/><circle cx="607" cy="473.2" r="1.65"/><circle cx="607.3" cy="479.3" r="1.65"/><circle cx="607.7" cy="475.1" r="1.65"/><circle cx="607.9" cy="475.3" r="1.65"/><circle cx="608" cy="456.3" r="1.65"/><circle cx="608.2" cy="464.6" r="1.65"/><circle cx="608.6" cy="480.9" r="1.65"/><circle cx="608.8" cy="467.1" r="1.65"/><circle cx="609.1" cy="480.6" r="1.65"/><circle cx="609.2" cy="480.6" r="1.65"/><circle cx="609.4" cy="476.2" r="1.65"/><circle cx="610" cy="494" r="1.65"/><circle cx="610.1" cy="481" r="1.65"/><circle cx="610.3" cy="456.3" r="1.65"/><circle cx="610.4" cy="456.8" r="1.65"/><circle cx="610.6" cy="466" r="1.65"/><circle cx="611.2" cy="469.7" r="1.65"/><circle cx="612" cy="434.1" r="1.65"/><circle cx="612.1" cy="406.8" r="1.65"/><circle cx="612.3" cy="382.3" r="1.65"/><circle cx="612.6" cy="404.3" r="1.65"/><circle cx="612.9" cy="466.4" r="1.65"/><circle cx="613" cy="480.8" r="1.65"/><circle cx="613.9" cy="370.7" r="1.65"/><circle cx="614.2" cy="462.8" r="1.65"/><circle cx="614.7" cy="458.8" r="1.65"/><circle cx="614.8" cy="447.2" r="1.65"/><circle cx="615" cy="476" r="1.65"/><circle cx="615.1" cy="448.1" r="1.65"/><circle cx="615.3" cy="406" r="1.65"/><circle cx="615.4" cy="410.1" r="1.65"/><circle cx="615.6" cy="376.8" r="1.65"/><circle cx="616.2" cy="456.6" r="1.65"/><circle cx="616.4" cy="467.5" r="1.65"/><circle cx="616.5" cy="392.5" r="1.65"/><circle cx="616.8" cy="447.7" r="1.65"/><circle cx="617" cy="440.3" r="1.65"/><circle cx="617.1" cy="474.7" r="1.65"/><circle cx="617.3" cy="466" r="1.65"/><circle cx="617.4" cy="438.1" r="1.65"/><circle cx="617.6" cy="466.5" r="1.65"/><circle cx="617.7" cy="412.3" r="1.65"/><circle cx="617.9" cy="471.3" r="1.65"/><circle cx="618" cy="441.8" r="1.65"/><circle cx="618.6" cy="414.2" r="1.65"/><circle cx="618.8" cy="466.4" r="1.65"/><circle cx="618.9" cy="467.3" r="1.65"/><circle cx="619.2" cy="455.6" r="1.65"/><circle cx="619.7" cy="472" r="1.65"/><circle cx="619.8" cy="497.3" r="1.65"/><circle cx="620" cy="472.5" r="1.65"/><circle cx="620.5" cy="414.9" r="1.65"/><circle cx="620.6" cy="462.9" r="1.65"/><circle cx="620.8" cy="430.9" r="1.65"/><circle cx="620.9" cy="473.9" r="1.65"/><circle cx="621.1" cy="472.3" r="1.65"/><circle cx="621.4" cy="477.5" r="1.65"/><circle cx="621.5" cy="483.3" r="1.65"/><circle cx="621.7" cy="472" r="1.65"/><circle cx="621.8" cy="451.8" r="1.65"/><circle cx="622.3" cy="437.6" r="1.65"/><circle cx="622.4" cy="454.1" r="1.65"/><circle cx="622.6" cy="472.7" r="1.65"/><circle cx="622.7" cy="454.1" r="1.65"/><circle cx="623.3" cy="466" r="1.65"/><circle cx="623.6" cy="417.6" r="1.65"/><circle cx="623.9" cy="446.5" r="1.65"/><circle cx="624.5" cy="450.9" r="1.65"/><circle cx="624.8" cy="373.4" r="1.65"/><circle cx="625" cy="408" r="1.65"/><circle cx="625.3" cy="452.7" r="1.65"/><circle cx="625.5" cy="438.1" r="1.65"/><circle cx="625.6" cy="399.9" r="1.65"/><circle cx="625.9" cy="475.5" r="1.65"/><circle cx="626.1" cy="445" r="1.65"/><circle cx="626.4" cy="407.2" r="1.65"/><circle cx="626.7" cy="394.6" r="1.65"/><circle cx="626.8" cy="412.1" r="1.65"/><circle cx="628" cy="382.5" r="1.65"/><circle cx="628.2" cy="433" r="1.65"/><circle cx="628.3" cy="461.6" r="1.65"/><circle cx="628.5" cy="455.4" r="1.65"/><circle cx="628.6" cy="473.9" r="1.65"/><circle cx="629.2" cy="468.4" r="1.65"/><circle cx="629.4" cy="438.2" r="1.65"/><circle cx="629.5" cy="441.4" r="1.65"/><circle cx="629.7" cy="449.3" r="1.65"/><circle cx="630" cy="442.1" r="1.65"/><circle cx="630.2" cy="429.9" r="1.65"/><circle cx="630.5" cy="402.5" r="1.65"/><circle cx="630.8" cy="486.8" r="1.65"/><circle cx="630.9" cy="486.8" r="1.65"/><circle cx="631.1" cy="471.3" r="1.65"/><circle cx="631.2" cy="478" r="1.65"/><circle cx="631.4" cy="469.9" r="1.65"/><circle cx="631.8" cy="413.2" r="1.65"/><circle cx="632" cy="435.4" r="1.65"/><circle cx="632.1" cy="462" r="1.65"/><circle cx="632.3" cy="433.8" r="1.65"/><circle cx="632.4" cy="480.7" r="1.65"/><circle cx="632.7" cy="467.4" r="1.65"/><circle cx="632.9" cy="465.8" r="1.65"/><circle cx="633" cy="438.6" r="1.65"/><circle cx="633.2" cy="475.1" r="1.65"/><circle cx="633.3" cy="481.6" r="1.65"/><circle cx="633.5" cy="470.9" r="1.65"/><circle cx="633.6" cy="473.9" r="1.65"/><circle cx="633.8" cy="477.4" r="1.65"/><circle cx="634.4" cy="429.4" r="1.65"/><circle cx="634.7" cy="475.5" r="1.65"/><circle cx="634.9" cy="482.9" r="1.65"/><circle cx="635.2" cy="485.3" r="1.65"/><circle cx="635.5" cy="473.8" r="1.65"/><circle cx="635.9" cy="469.4" r="1.65"/><circle cx="636.2" cy="437.6" r="1.65"/><circle cx="636.4" cy="479.8" r="1.65"/><circle cx="636.5" cy="491.1" r="1.65"/><circle cx="637" cy="472.6" r="1.65"/><circle cx="637.4" cy="483.7" r="1.65"/><circle cx="637.9" cy="478.7" r="1.65"/><circle cx="638" cy="463.6" r="1.65"/><circle cx="638.2" cy="475" r="1.65"/><circle cx="638.3" cy="464.6" r="1.65"/><circle cx="638.9" cy="356.8" r="1.65"/><circle cx="639.6" cy="439.9" r="1.65"/><circle cx="639.9" cy="454.9" r="1.65"/><circle cx="640" cy="475.1" r="1.65"/><circle cx="640.5" cy="448.8" r="1.65"/><circle cx="640.8" cy="456.6" r="1.65"/><circle cx="640.9" cy="452.7" r="1.65"/><circle cx="641.1" cy="450.3" r="1.65"/><circle cx="641.2" cy="376.2" r="1.65"/><circle cx="641.4" cy="407.5" r="1.65"/><circle cx="641.7" cy="422.6" r="1.65"/><circle cx="642" cy="357" r="1.65"/><circle cx="642.1" cy="442.7" r="1.65"/><circle cx="642.4" cy="436.1" r="1.65"/><circle cx="642.7" cy="481.4" r="1.65"/><circle cx="643.2" cy="469.5" r="1.65"/><circle cx="643.5" cy="394.3" r="1.65"/><circle cx="643.6" cy="462.4" r="1.65"/><circle cx="643.8" cy="470.9" r="1.65"/><circle cx="643.9" cy="416.7" r="1.65"/><circle cx="644.2" cy="414.7" r="1.65"/><circle cx="644.4" cy="401.9" r="1.65"/><circle cx="644.6" cy="463.4" r="1.65"/><circle cx="644.7" cy="494.1" r="1.65"/><circle cx="645" cy="458.8" r="1.65"/><circle cx="645.2" cy="452.7" r="1.65"/><circle cx="645.5" cy="466.3" r="1.65"/><circle cx="645.6" cy="429.4" r="1.65"/><circle cx="645.8" cy="477.6" r="1.65"/><circle cx="646.1" cy="471.9" r="1.65"/><circle cx="646.4" cy="481.3" r="1.65"/><circle cx="646.5" cy="451.4" r="1.65"/><circle cx="646.7" cy="487.6" r="1.65"/><circle cx="646.8" cy="476.5" r="1.65"/><circle cx="647" cy="495.9" r="1.65"/><circle cx="647.1" cy="468.9" r="1.65"/><circle cx="647.4" cy="468" r="1.65"/><circle cx="647.7" cy="488.9" r="1.65"/><circle cx="648.2" cy="475.8" r="1.65"/><circle cx="648.5" cy="479.2" r="1.65"/><circle cx="648.6" cy="482.4" r="1.65"/><circle cx="648.8" cy="447.2" r="1.65"/><circle cx="649.1" cy="480" r="1.65"/><circle cx="649.4" cy="438.4" r="1.65"/><circle cx="649.7" cy="431.4" r="1.65"/><circle cx="650" cy="456" r="1.65"/><circle cx="650.2" cy="482.1" r="1.65"/><circle cx="650.3" cy="472" r="1.65"/><circle cx="650.5" cy="484.8" r="1.65"/><circle cx="650.6" cy="470.3" r="1.65"/><circle cx="650.8" cy="481.5" r="1.65"/><circle cx="651.2" cy="475" r="1.65"/><circle cx="651.5" cy="466.7" r="1.65"/><circle cx="651.7" cy="483.6" r="1.65"/><circle cx="652" cy="464.2" r="1.65"/><circle cx="652.1" cy="478.7" r="1.65"/><circle cx="652.3" cy="473.6" r="1.65"/><circle cx="652.4" cy="444.9" r="1.65"/><circle cx="652.7" cy="459.6" r="1.65"/><circle cx="652.9" cy="479.6" r="1.65"/><circle cx="653" cy="446.5" r="1.65"/><circle cx="653.2" cy="457.9" r="1.65"/><circle cx="653.3" cy="486" r="1.65"/><circle cx="653.5" cy="491.1" r="1.65"/><circle cx="654.1" cy="461.5" r="1.65"/><circle cx="654.6" cy="462.6" r="1.65"/><circle cx="654.7" cy="457.9" r="1.65"/><circle cx="654.9" cy="467.4" r="1.65"/><circle cx="655" cy="480" r="1.65"/><circle cx="655.3" cy="469.9" r="1.65"/><circle cx="655.5" cy="474.6" r="1.65"/><circle cx="655.6" cy="453.6" r="1.65"/><circle cx="655.9" cy="485.5" r="1.65"/><circle cx="656.1" cy="466.8" r="1.65"/><circle cx="656.2" cy="441.8" r="1.65"/><circle cx="656.4" cy="435.8" r="1.65"/><circle cx="656.5" cy="482.5" r="1.65"/><circle cx="656.7" cy="482.4" r="1.65"/><circle cx="657" cy="468.5" r="1.65"/><circle cx="657.3" cy="484" r="1.65"/><circle cx="657.7" cy="481.4" r="1.65"/><circle cx="658" cy="482.4" r="1.65"/><circle cx="658.2" cy="485" r="1.65"/><circle cx="658.3" cy="490.1" r="1.65"/><circle cx="658.5" cy="476.6" r="1.65"/><circle cx="658.8" cy="488.8" r="1.65"/><circle cx="659" cy="495.9" r="1.65"/><circle cx="659.1" cy="485.6" r="1.65"/><circle cx="659.3" cy="471" r="1.65"/><circle cx="659.4" cy="446.8" r="1.65"/><circle cx="659.6" cy="497.2" r="1.65"/><circle cx="659.9" cy="477" r="1.65"/><circle cx="660" cy="489.2" r="1.65"/><circle cx="660.6" cy="483.2" r="1.65"/><circle cx="660.8" cy="500.7" r="1.65"/><circle cx="661.4" cy="494.1" r="1.65"/><circle cx="661.7" cy="492.8" r="1.65"/><circle cx="661.8" cy="495.5" r="1.65"/><circle cx="662" cy="498.1" r="1.65"/><circle cx="662.1" cy="494.9" r="1.65"/><circle cx="662.3" cy="492.8" r="1.65"/><circle cx="662.4" cy="473.1" r="1.65"/><circle cx="662.7" cy="485.2" r="1.65"/><circle cx="663.2" cy="485.7" r="1.65"/><circle cx="663.5" cy="470.5" r="1.65"/><circle cx="663.7" cy="497.3" r="1.65"/><circle cx="663.8" cy="492.4" r="1.65"/><circle cx="664.4" cy="485" r="1.65"/><circle cx="664.6" cy="487.6" r="1.65"/><circle cx="664.7" cy="492.8" r="1.65"/><circle cx="664.9" cy="490.3" r="1.65"/><circle cx="665.2" cy="491.7" r="1.65"/><circle cx="665.3" cy="482.8" r="1.65"/><circle cx="665.5" cy="501.5" r="1.65"/><circle cx="665.6" cy="498.2" r="1.65"/><circle cx="665.9" cy="482.2" r="1.65"/><circle cx="666.1" cy="496.6" r="1.65"/><circle cx="666.2" cy="498.3" r="1.65"/><circle cx="666.4" cy="457.6" r="1.65"/><circle cx="666.5" cy="496.4" r="1.65"/><circle cx="666.8" cy="490.5" r="1.65"/><circle cx="667.1" cy="452" r="1.65"/><circle cx="667.3" cy="497.3" r="1.65"/><circle cx="667.4" cy="504.3" r="1.65"/><circle cx="667.6" cy="477.2" r="1.65"/><circle cx="667.7" cy="485.6" r="1.65"/><circle cx="668" cy="474.2" r="1.65"/><circle cx="668.4" cy="487.8" r="1.65"/><circle cx="668.7" cy="492.5" r="1.65"/><circle cx="668.8" cy="500.8" r="1.65"/><circle cx="669" cy="498.7" r="1.65"/><circle cx="669.1" cy="497.9" r="1.65"/><circle cx="669.6" cy="496.9" r="1.65"/><circle cx="669.7" cy="496.1" r="1.65"/><circle cx="670.2" cy="498" r="1.65"/><circle cx="670.5" cy="489.3" r="1.65"/><circle cx="670.6" cy="491.7" r="1.65"/><circle cx="671.1" cy="482.4" r="1.65"/><circle cx="671.2" cy="499.1" r="1.65"/><circle cx="671.7" cy="466.8" r="1.65"/><circle cx="671.8" cy="486.7" r="1.65"/><circle cx="672" cy="473" r="1.65"/><circle cx="672.1" cy="494.8" r="1.65"/><circle cx="672.3" cy="469.4" r="1.65"/><circle cx="672.4" cy="480.1" r="1.65"/><circle cx="672.6" cy="450.2" r="1.65"/><circle cx="672.9" cy="487.4" r="1.65"/><circle cx="673.2" cy="488.7" r="1.65"/><circle cx="673.5" cy="476.6" r="1.65"/><circle cx="674.4" cy="481.3" r="1.65"/><circle cx="674.6" cy="441.8" r="1.65"/><circle cx="674.7" cy="490.9" r="1.65"/><circle cx="675" cy="490.8" r="1.65"/><circle cx="675.3" cy="482.7" r="1.65"/><circle cx="675.6" cy="473.3" r="1.65"/><circle cx="675.8" cy="485.2" r="1.65"/><circle cx="675.9" cy="486" r="1.65"/><circle cx="676.4" cy="443.2" r="1.65"/><circle cx="676.5" cy="476.9" r="1.65"/><circle cx="676.7" cy="493.7" r="1.65"/><circle cx="676.8" cy="435.4" r="1.65"/><circle cx="677.9" cy="473.7" r="1.65"/><circle cx="678.1" cy="482.3" r="1.65"/><circle cx="678.4" cy="490.7" r="1.65"/><circle cx="678.7" cy="493.9" r="1.65"/><circle cx="678.8" cy="435.5" r="1.65"/><circle cx="679" cy="485.5" r="1.65"/><circle cx="679.1" cy="490.7" r="1.65"/><circle cx="679.3" cy="494.4" r="1.65"/><circle cx="679.4" cy="449.7" r="1.65"/><circle cx="679.6" cy="482.6" r="1.65"/><circle cx="679.9" cy="488.9" r="1.65"/><circle cx="680.5" cy="485.8" r="1.65"/><circle cx="680.6" cy="487.6" r="1.65"/><circle cx="680.9" cy="482.7" r="1.65"/><circle cx="681.1" cy="490.3" r="1.65"/><circle cx="681.8" cy="505.2" r="1.65"/><circle cx="682" cy="490.3" r="1.65"/><circle cx="682.1" cy="490.6" r="1.65"/><circle cx="682.3" cy="480.3" r="1.65"/><circle cx="682.4" cy="499.1" r="1.65"/><circle cx="682.8" cy="480.3" r="1.65"/><circle cx="683.1" cy="489.8" r="1.65"/><circle cx="683.2" cy="486.7" r="1.65"/><circle cx="683.4" cy="451.1" r="1.65"/><circle cx="683.5" cy="493.6" r="1.65"/><circle cx="683.7" cy="493.2" r="1.65"/><circle cx="684" cy="483.5" r="1.65"/><circle cx="684.4" cy="472.9" r="1.65"/><circle cx="684.7" cy="485" r="1.65"/><circle cx="684.9" cy="497.3" r="1.65"/><circle cx="685" cy="501.9" r="1.65"/><circle cx="685.2" cy="499.8" r="1.65"/><circle cx="685.6" cy="501.9" r="1.65"/><circle cx="685.9" cy="506.6" r="1.65"/><circle cx="686.1" cy="483.8" r="1.65"/><circle cx="686.7" cy="500.5" r="1.65"/><circle cx="686.8" cy="473.6" r="1.65"/><circle cx="687" cy="474.5" r="1.65"/><circle cx="687.1" cy="477.4" r="1.65"/><circle cx="687.3" cy="499.2" r="1.65"/><circle cx="687.5" cy="484.5" r="1.65"/><circle cx="687.6" cy="506.2" r="1.65"/><circle cx="687.8" cy="498.7" r="1.65"/><circle cx="687.9" cy="502.3" r="1.65"/><circle cx="688.1" cy="491.9" r="1.65"/><circle cx="688.2" cy="499.1" r="1.65"/><circle cx="688.5" cy="499.3" r="1.65"/><circle cx="689.1" cy="479.4" r="1.65"/><circle cx="689.4" cy="495.7" r="1.65"/><circle cx="689.7" cy="495.1" r="1.65"/><circle cx="690.2" cy="494" r="1.65"/><circle cx="690.5" cy="493.1" r="1.65"/><circle cx="690.6" cy="501.5" r="1.65"/><circle cx="690.8" cy="497.2" r="1.65"/><circle cx="690.9" cy="492.8" r="1.65"/><circle cx="691.1" cy="480.7" r="1.65"/><circle cx="691.2" cy="497.2" r="1.65"/><circle cx="691.4" cy="493.2" r="1.65"/><circle cx="691.5" cy="495.9" r="1.65"/><circle cx="691.8" cy="494.9" r="1.65"/><circle cx="692.2" cy="493.6" r="1.65"/><circle cx="693.2" cy="496.8" r="1.65"/><circle cx="693.4" cy="449" r="1.65"/><circle cx="693.5" cy="489.9" r="1.65"/><circle cx="693.7" cy="501.1" r="1.65"/><circle cx="693.8" cy="498.8" r="1.65"/><circle cx="694.1" cy="492.4" r="1.65"/><circle cx="694.4" cy="486.1" r="1.65"/><circle cx="694.6" cy="499" r="1.65"/><circle cx="694.7" cy="494.7" r="1.65"/><circle cx="695.2" cy="478.3" r="1.65"/><circle cx="695.5" cy="485.7" r="1.65"/><circle cx="695.8" cy="501.4" r="1.65"/><circle cx="696.1" cy="484.1" r="1.65"/><circle cx="696.2" cy="493" r="1.65"/><circle cx="696.4" cy="483" r="1.65"/><circle cx="696.7" cy="485.9" r="1.65"/><circle cx="696.9" cy="493" r="1.65"/><circle cx="697" cy="485" r="1.65"/><circle cx="697.5" cy="493.5" r="1.65"/><circle cx="697.6" cy="477.1" r="1.65"/><circle cx="697.9" cy="477.4" r="1.65"/><circle cx="106.5" cy="101" r="1.65"/><circle cx="105.5" cy="110" r="1.65"/><circle cx="104" cy="135.5" r="1.65"/><circle cx="104.4" cy="144.2" r="1.65"/><circle cx="104.8" cy="155" r="1.65"/><circle cx="108.6" cy="165.8" r="1.65"/><circle cx="104.6" cy="175.5" r="1.65"/><circle cx="103.6" cy="182" r="1.65"/><circle cx="106.6" cy="194.6" r="1.65"/><circle cx="105" cy="204" r="1.65"/><circle cx="108.5" cy="224.2" r="1.65"/><circle cx="108" cy="245.8" r="1.65"/><circle cx="105.5" cy="246.5" r="1.65"/><circle cx="110.5" cy="247.6" r="1.65"/><circle cx="105.5" cy="257.5" r="1.65"/><circle cx="121.7" cy="278" r="1.65"/><circle cx="120.1" cy="302" r="1.65"/><circle cx="114.8" cy="313.5" r="1.65"/><circle cx="117.2" cy="318.8" r="1.65"/><circle cx="76.9" cy="320.1" r="1.65"/><circle cx="82.8" cy="365.2" r="1.65"/><circle cx="121.2" cy="339.9" r="1.65"/><circle cx="118.8" cy="343.3" r="1.65"/><circle cx="120.7" cy="354.5" r="1.65"/><circle cx="122.3" cy="354.5" r="1.65"/><circle cx="115.3" cy="348" r="1.65"/><circle cx="212.7" cy="282.8" r="1.65"/><circle cx="212.9" cy="307.3" r="1.65"/><circle cx="212.1" cy="333.5" r="1.65"/><circle cx="218.3" cy="347.3" r="1.65"/><circle cx="217.2" cy="353.2" r="1.65"/><circle cx="212.1" cy="361.7" r="1.65"/><circle cx="214.5" cy="372.1" r="1.65"/><circle cx="222" cy="373.2" r="1.65"/><circle cx="367.2" cy="359.5" r="1.65"/><circle cx="366.7" cy="380" r="1.65"/><circle cx="260" cy="412" r="1.65"/><circle cx="334.1" cy="410.1" r="1.65"/><circle cx="540.9" cy="199.5" r="1.65"/><circle cx="541.2" cy="231.5" r="1.65"/><circle cx="540.7" cy="251.5" r="1.65"/><circle cx="542.3" cy="270.7" r="1.65"/><circle cx="512.4" cy="276" r="1.65"/><circle cx="555.6" cy="308.3" r="1.65"/><circle cx="577.2" cy="298.9" r="1.65"/><circle cx="573.5" cy="322.1" r="1.65"/><circle cx="616.9" cy="291.8" r="1.65"/><circle cx="622.8" cy="298.6" r="1.65"/><circle cx="642" cy="308" r="1.65"/><circle cx="639.3" cy="316" r="1.65"/><circle cx="578" cy="330.7" r="1.65"/><circle cx="608.1" cy="326.1" r="1.65"/><circle cx="575.3" cy="352.5" r="1.65"/><circle cx="572.1" cy="354.7" r="1.65"/><circle cx="641.5" cy="385.9" r="1.65"/><circle cx="644.7" cy="386.7" r="1.65"/><circle cx="366.5" cy="400.5" r="1.65"/><circle cx="370.8" cy="406.1" r="1.65"/><circle cx="382.5" cy="388.8" r="1.65"/><circle cx="382" cy="401.3" r="1.65"/><circle cx="467.9" cy="337.3" r="1.65"/><circle cx="460.7" cy="365.3" r="1.65"/><circle cx="466.5" cy="408.8" r="1.65"/><circle cx="494.5" cy="329.9" r="1.65"/><circle cx="488.7" cy="372.5" r="1.65"/><circle cx="494" cy="372.5" r="1.65"/><circle cx="493.5" cy="376" r="1.65"/><circle cx="487.9" cy="392.8" r="1.65"/><circle cx="486.5" cy="400.5" r="1.65"/><circle cx="517.2" cy="392.8" r="1.65"/><circle cx="611.8" cy="168.9" r="1.65"/><circle cx="639.9" cy="190.3" r="1.65"/></g>
<path d="M36.8 83.6V516H702.7V83.6M33.3 83.6H36.8M33.3 155.7H36.8M33.3 227.8H36.8M33.3 299.8H36.8M33.3 371.9H36.8M33.3 443.9H36.8M33.3 516H36.8M702.7 516H705.5M702.7 472.8H705.5M702.7 429.5H705.5M702.7 386.3H705.5M702.7 343H705.5M702.7 299.8H705.5M702.7 256.6H705.5M702.7 213.3H705.5M702.7 170.1H705.5M702.7 126.8H705.5M702.7 83.6H705.5M36.8 516V519.5M75 516V519.5M113.2 516V519.5M151.4 516V519.5M189.6 516V519.5M227.8 516V519.5M266 516V519.5M304.2 516V519.5M342.4 516V519.5M380.6 516V519.5M418.8 516V519.5M457 516V519.5M495.2 516V519.5M533.4 516V519.5M571.6 516V519.5M609.8 516V519.5M648 516V519.5M686.2 516V519.5" fill="none" stroke="#adadad" stroke-width="1"/>
<text stroke="#3fa7af" stroke-width="0.2" x="7.6" y="87.1" transform="rotate(0.03 7.6 87.1)" font-size="9.8" fill="#3fa7af" textLength="18.6" lengthAdjust="spacingAndGlyphs">12%</text>
<text stroke="#3fa7af" stroke-width="0.2" x="7.6" y="159.2" transform="rotate(0.03 7.6 159.2)" font-size="9.8" fill="#3fa7af" textLength="18.6" lengthAdjust="spacingAndGlyphs">10%</text>
<text stroke="#3fa7af" stroke-width="0.2" x="13" y="231.3" transform="rotate(0.03 13 231.3)" font-size="9.8" fill="#3fa7af" textLength="13.2" lengthAdjust="spacingAndGlyphs">8%</text>
<text stroke="#3fa7af" stroke-width="0.2" x="13" y="303.3" transform="rotate(0.03 13 303.3)" font-size="9.8" fill="#3fa7af" textLength="13.2" lengthAdjust="spacingAndGlyphs">6%</text>
<text stroke="#3fa7af" stroke-width="0.2" x="13" y="375.4" transform="rotate(0.03 13 375.4)" font-size="9.8" fill="#3fa7af" textLength="13.2" lengthAdjust="spacingAndGlyphs">4%</text>
<text stroke="#3fa7af" stroke-width="0.2" x="13" y="447.4" transform="rotate(0.03 13 447.4)" font-size="9.8" fill="#3fa7af" textLength="13.2" lengthAdjust="spacingAndGlyphs">2%</text>
<text stroke="#3fa7af" stroke-width="0.2" x="13" y="519.5" transform="rotate(0.03 13 519.5)" font-size="9.8" fill="#3fa7af" textLength="13.2" lengthAdjust="spacingAndGlyphs">0%</text>
<text stroke="#7c6cd6" stroke-width="0.2" x="715.5" y="519.5" transform="rotate(0.03 715.5 519.5)" font-size="9.8" fill="#7c6cd6" textLength="16.2" lengthAdjust="spacingAndGlyphs">500</text>
<text stroke="#7c6cd6" stroke-width="0.2" x="715.5" y="476.3" transform="rotate(0.03 715.5 476.3)" font-size="9.8" fill="#7c6cd6" textLength="24.5" lengthAdjust="spacingAndGlyphs">1,000</text>
<text stroke="#7c6cd6" stroke-width="0.2" x="715.5" y="433" transform="rotate(0.03 715.5 433)" font-size="9.8" fill="#7c6cd6" textLength="24.5" lengthAdjust="spacingAndGlyphs">1,500</text>
<text stroke="#7c6cd6" stroke-width="0.2" x="715.5" y="389.8" transform="rotate(0.03 715.5 389.8)" font-size="9.8" fill="#7c6cd6" textLength="24.5" lengthAdjust="spacingAndGlyphs">2,000</text>
<text stroke="#7c6cd6" stroke-width="0.2" x="715.5" y="346.5" transform="rotate(0.03 715.5 346.5)" font-size="9.8" fill="#7c6cd6" textLength="24.5" lengthAdjust="spacingAndGlyphs">2,500</text>
<text stroke="#7c6cd6" stroke-width="0.2" x="715.5" y="303.3" transform="rotate(0.03 715.5 303.3)" font-size="9.8" fill="#7c6cd6" textLength="24.5" lengthAdjust="spacingAndGlyphs">3,000</text>
<text stroke="#7c6cd6" stroke-width="0.2" x="715.5" y="260.1" transform="rotate(0.03 715.5 260.1)" font-size="9.8" fill="#7c6cd6" textLength="24.5" lengthAdjust="spacingAndGlyphs">3,500</text>
<text stroke="#7c6cd6" stroke-width="0.2" x="715.5" y="216.8" transform="rotate(0.03 715.5 216.8)" font-size="9.8" fill="#7c6cd6" textLength="24.5" lengthAdjust="spacingAndGlyphs">4,000</text>
<text stroke="#7c6cd6" stroke-width="0.2" x="715.5" y="173.6" transform="rotate(0.03 715.5 173.6)" font-size="9.8" fill="#7c6cd6" textLength="24.5" lengthAdjust="spacingAndGlyphs">4,500</text>
<text stroke="#7c6cd6" stroke-width="0.2" x="715.5" y="130.3" transform="rotate(0.03 715.5 130.3)" font-size="9.8" fill="#7c6cd6" textLength="24.5" lengthAdjust="spacingAndGlyphs">5,000</text>
<text stroke="#7c6cd6" stroke-width="0.2" x="715.5" y="87.1" transform="rotate(0.03 715.5 87.1)" font-size="9.8" fill="#7c6cd6" textLength="24.5" lengthAdjust="spacingAndGlyphs">5,500</text>
<text stroke="#262626" stroke-width="0.15" x="25.8" y="533.5" transform="rotate(0.03 25.8 533.5)" font-size="9.6" fill="#262626" textLength="22" lengthAdjust="spacingAndGlyphs">2007</text>
<text stroke="#262626" stroke-width="0.15" x="64" y="533.5" transform="rotate(0.03 64 533.5)" font-size="9.6" fill="#262626" textLength="22" lengthAdjust="spacingAndGlyphs">2008</text>
<text stroke="#262626" stroke-width="0.15" x="102.2" y="533.5" transform="rotate(0.03 102.2 533.5)" font-size="9.6" fill="#262626" textLength="22" lengthAdjust="spacingAndGlyphs">2009</text>
<text stroke="#262626" stroke-width="0.15" x="140.4" y="533.5" transform="rotate(0.03 140.4 533.5)" font-size="9.6" fill="#262626" textLength="22" lengthAdjust="spacingAndGlyphs">2010</text>
<text stroke="#262626" stroke-width="0.15" x="178.6" y="533.5" transform="rotate(0.03 178.6 533.5)" font-size="9.6" fill="#262626" textLength="22" lengthAdjust="spacingAndGlyphs">2011</text>
<text stroke="#262626" stroke-width="0.15" x="216.8" y="533.5" transform="rotate(0.03 216.8 533.5)" font-size="9.6" fill="#262626" textLength="22" lengthAdjust="spacingAndGlyphs">2012</text>
<text stroke="#262626" stroke-width="0.15" x="255" y="533.5" transform="rotate(0.03 255 533.5)" font-size="9.6" fill="#262626" textLength="22" lengthAdjust="spacingAndGlyphs">2013</text>
<text stroke="#262626" stroke-width="0.15" x="293.2" y="533.5" transform="rotate(0.03 293.2 533.5)" font-size="9.6" fill="#262626" textLength="22" lengthAdjust="spacingAndGlyphs">2014</text>
<text stroke="#262626" stroke-width="0.15" x="331.4" y="533.5" transform="rotate(0.03 331.4 533.5)" font-size="9.6" fill="#262626" textLength="22" lengthAdjust="spacingAndGlyphs">2015</text>
<text stroke="#262626" stroke-width="0.15" x="369.6" y="533.5" transform="rotate(0.03 369.6 533.5)" font-size="9.6" fill="#262626" textLength="22" lengthAdjust="spacingAndGlyphs">2016</text>
<text stroke="#262626" stroke-width="0.15" x="407.8" y="533.5" transform="rotate(0.03 407.8 533.5)" font-size="9.6" fill="#262626" textLength="22" lengthAdjust="spacingAndGlyphs">2017</text>
<text stroke="#262626" stroke-width="0.15" x="446" y="533.5" transform="rotate(0.03 446 533.5)" font-size="9.6" fill="#262626" textLength="22" lengthAdjust="spacingAndGlyphs">2018</text>
<text stroke="#262626" stroke-width="0.15" x="484.2" y="533.5" transform="rotate(0.03 484.2 533.5)" font-size="9.6" fill="#262626" textLength="22" lengthAdjust="spacingAndGlyphs">2019</text>
<text stroke="#262626" stroke-width="0.15" x="522.4" y="533.5" transform="rotate(0.03 522.4 533.5)" font-size="9.6" fill="#262626" textLength="22" lengthAdjust="spacingAndGlyphs">2020</text>
<text stroke="#262626" stroke-width="0.15" x="560.6" y="533.5" transform="rotate(0.03 560.6 533.5)" font-size="9.6" fill="#262626" textLength="22" lengthAdjust="spacingAndGlyphs">2021</text>
<text stroke="#262626" stroke-width="0.15" x="598.8" y="533.5" transform="rotate(0.03 598.8 533.5)" font-size="9.6" fill="#262626" textLength="22" lengthAdjust="spacingAndGlyphs">2022</text>
<text stroke="#262626" stroke-width="0.15" x="637" y="533.5" transform="rotate(0.03 637 533.5)" font-size="9.6" fill="#262626" textLength="22" lengthAdjust="spacingAndGlyphs">2023</text>
<text stroke="#262626" stroke-width="0.15" x="675.2" y="533.5" transform="rotate(0.03 675.2 533.5)" font-size="9.6" fill="#262626" textLength="22" lengthAdjust="spacingAndGlyphs">2024</text>
<text x="197.6" y="35.7" transform="rotate(0.03 197.6 35.7)" font-size="23.6" class="b" fill="#000" textLength="351.6" lengthAdjust="spacingAndGlyphs">S&amp;P 500 Intraday Price Volatility</text>
<text stroke="#111" stroke-width="0.45" x="8.9" y="16.8" transform="rotate(0.03 8.9 16.8)" font-size="11.6" class="b" fill="#111" textLength="36" lengthAdjust="spacingAndGlyphs">VettaFi</text>
<text stroke="#1a1a1a" stroke-width="0.38" x="53.9" y="16.5" transform="rotate(0.03 53.9 16.5)" font-size="8.8" fill="#1a1a1a" textLength="76" lengthAdjust="spacingAndGlyphs">Advisor Perspectives</text>
<text x="617.8" y="16" transform="rotate(0.03 617.8 16)" font-size="11.6" class="b" fill="#111" textLength="123.5" lengthAdjust="spacingAndGlyphs">advisorperspectives.com</text>
<text x="673.2" y="30.5" transform="rotate(0.03 673.2 30.5)" font-size="11.6" class="b" fill="#111" textLength="68.1" lengthAdjust="spacingAndGlyphs">April 19, 2024</text>
<rect x="107.4" y="52.4" width="21" height="7.4" fill="#6657b5" fill-opacity="0.19" stroke="#8878e0" stroke-opacity="0.6" stroke-width="0.6"/>
<text x="131" y="60" transform="rotate(0.03 131 60)" font-size="12" class="b" fill="#6a5acd" textLength="45.3" lengthAdjust="spacingAndGlyphs">S&amp;P 500</text>
<circle cx="213.3" cy="55.7" r="1.65" fill="#2fa8b0" fill-opacity="0.36"/>
<text x="226.7" y="59.8" transform="rotate(0.03 226.7 59.8)" font-size="12" class="b" fill="#38a3ab" textLength="281.4" lengthAdjust="spacingAndGlyphs">Percent Change from Intraday Low to Intraday High</text>
<path d="M535 55.7H557" stroke="#3f3191" stroke-width="2.2" stroke-linecap="round" fill="none"/>
<text x="559.3" y="60" transform="rotate(0.03 559.3 60)" font-size="12" class="b" fill="#3f3191" textLength="60.6" lengthAdjust="spacingAndGlyphs">20-Day MA</text>
<g filter="url(#bs)"><path d="M186.5 128.3L176.4 151" stroke="#111" stroke-width="1" fill="none"/><path d="M173.5 157.4L173.7 149.8L179 152.2Z" fill="#111"/></g>
<g filter="url(#bs)"><path d="M517.8 156.3L545.5 184.4" stroke="#111" stroke-width="1" fill="none"/><path d="M550.4 189.4L543.4 186.4L547.6 182.4Z" fill="#111"/></g>
<g filter="url(#bs)"><path d="M598.6 99.3L614.8 134.3" stroke="#111" stroke-width="1" fill="none"/><path d="M617.8 140.6L612.2 135.5L617.5 133Z" fill="#111"/></g>
<g filter="url(#bs)"><path d="M668.2 95L657.9 166.1" stroke="#111" stroke-width="1" fill="none"/><path d="M656.9 173L655 165.7L660.8 166.5Z" fill="#111"/></g>
<rect x="173.2" y="95" width="70.3" height="32.9" fill="#fff" stroke="#3a3a3a" stroke-width="1" filter="url(#bs)"/>
<text x="180.1" y="107.8" transform="rotate(0.03 180.1 107.8)" font-size="11" class="b" fill="#111" textLength="55.5" lengthAdjust="spacingAndGlyphs">Flash Crash</text>
<text x="177.9" y="122.8" transform="rotate(0.03 177.9 122.8)" font-size="11" class="b" fill="#111" textLength="60.3" lengthAdjust="spacingAndGlyphs">May 6, 2010</text>
<rect x="454.3" y="138" width="86.7" height="18.3" fill="#fff" stroke="#3a3a3a" stroke-width="1" filter="url(#bs)"/>
<text x="459.2" y="151.8" transform="rotate(0.03 459.2 151.8)" font-size="11" class="b" fill="#111" textLength="76.9" lengthAdjust="spacingAndGlyphs">March 13, 2020</text>
<rect x="545.8" y="81.3" width="73.9" height="18" fill="#fff" stroke="#3a3a3a" stroke-width="1" filter="url(#bs)"/>
<text x="550.1" y="93.8" transform="rotate(0.03 550.1 93.8)" font-size="11" class="b" fill="#111" textLength="64.1" lengthAdjust="spacingAndGlyphs">Jan. 21, 2022</text>
<rect x="628.1" y="76.5" width="74.9" height="18.5" fill="#fff" stroke="#3a3a3a" stroke-width="1" filter="url(#bs)"/>
<text x="632.9" y="90.2" transform="rotate(0.03 632.9 90.2)" font-size="11" class="b" fill="#111" textLength="65.8" lengthAdjust="spacingAndGlyphs">Oct. 14, 2022</text>
</svg></body></html>
